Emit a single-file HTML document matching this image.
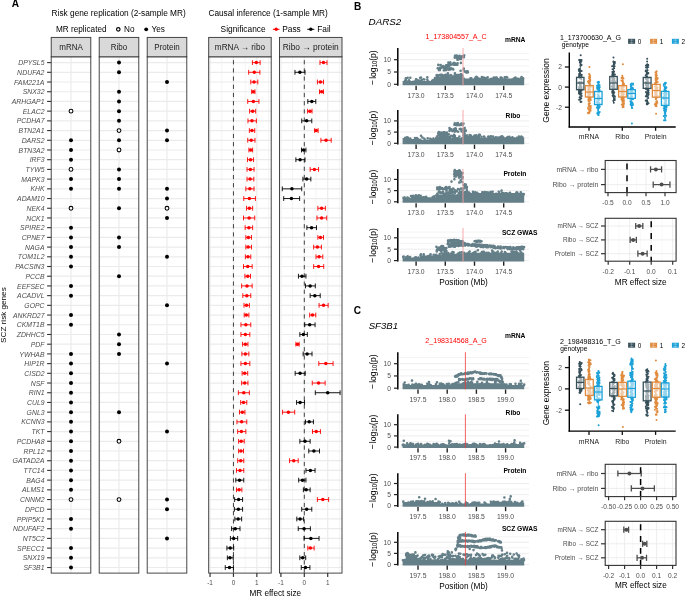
<!DOCTYPE html>
<html><head><meta charset="utf-8"><style>
html,body{margin:0;padding:0;background:#fff;}
svg{display:block;font-family:'Liberation Sans', sans-serif;will-change:transform;}
</style></head><body>
<svg width="685" height="598" viewBox="0 0 685 598">
<rect width="685" height="598" fill="#fff"/>
<text x="11.80" y="6.85" font-size="10.1" text-anchor="start" fill="#000" font-weight="bold">A</text>
<text x="51.60" y="16.00" font-size="8.3" text-anchor="start" fill="#000">Risk gene replication (2-sample MR)</text>
<text x="56.00" y="32.00" font-size="8.2" text-anchor="start" fill="#000">MR replicated</text>
<circle cx="118.30" cy="29.30" r="1.75" fill="#fff" stroke="#000" stroke-width="1.15"/>
<text x="124.00" y="32.00" font-size="8.2" text-anchor="start" fill="#000">No</text>
<circle cx="146.20" cy="29.30" r="1.9" fill="#000" stroke="none" stroke-width="0"/>
<text x="151.50" y="32.00" font-size="8.2" text-anchor="start" fill="#000">Yes</text>
<rect x="51.20" y="56.80" width="39.60" height="516.30" fill="#fff" stroke="none" stroke-width="1"/>
<line x1="51.20" y1="62.60" x2="90.80" y2="62.60" stroke="#ebebeb" stroke-width="1.2"/>
<line x1="51.20" y1="72.31" x2="90.80" y2="72.31" stroke="#ebebeb" stroke-width="1.2"/>
<line x1="51.20" y1="82.02" x2="90.80" y2="82.02" stroke="#ebebeb" stroke-width="1.2"/>
<line x1="51.20" y1="91.73" x2="90.80" y2="91.73" stroke="#ebebeb" stroke-width="1.2"/>
<line x1="51.20" y1="101.44" x2="90.80" y2="101.44" stroke="#ebebeb" stroke-width="1.2"/>
<line x1="51.20" y1="111.15" x2="90.80" y2="111.15" stroke="#ebebeb" stroke-width="1.2"/>
<line x1="51.20" y1="120.86" x2="90.80" y2="120.86" stroke="#ebebeb" stroke-width="1.2"/>
<line x1="51.20" y1="130.57" x2="90.80" y2="130.57" stroke="#ebebeb" stroke-width="1.2"/>
<line x1="51.20" y1="140.28" x2="90.80" y2="140.28" stroke="#ebebeb" stroke-width="1.2"/>
<line x1="51.20" y1="149.99" x2="90.80" y2="149.99" stroke="#ebebeb" stroke-width="1.2"/>
<line x1="51.20" y1="159.70" x2="90.80" y2="159.70" stroke="#ebebeb" stroke-width="1.2"/>
<line x1="51.20" y1="169.41" x2="90.80" y2="169.41" stroke="#ebebeb" stroke-width="1.2"/>
<line x1="51.20" y1="179.12" x2="90.80" y2="179.12" stroke="#ebebeb" stroke-width="1.2"/>
<line x1="51.20" y1="188.83" x2="90.80" y2="188.83" stroke="#ebebeb" stroke-width="1.2"/>
<line x1="51.20" y1="198.54" x2="90.80" y2="198.54" stroke="#ebebeb" stroke-width="1.2"/>
<line x1="51.20" y1="208.25" x2="90.80" y2="208.25" stroke="#ebebeb" stroke-width="1.2"/>
<line x1="51.20" y1="217.96" x2="90.80" y2="217.96" stroke="#ebebeb" stroke-width="1.2"/>
<line x1="51.20" y1="227.67" x2="90.80" y2="227.67" stroke="#ebebeb" stroke-width="1.2"/>
<line x1="51.20" y1="237.38" x2="90.80" y2="237.38" stroke="#ebebeb" stroke-width="1.2"/>
<line x1="51.20" y1="247.09" x2="90.80" y2="247.09" stroke="#ebebeb" stroke-width="1.2"/>
<line x1="51.20" y1="256.80" x2="90.80" y2="256.80" stroke="#ebebeb" stroke-width="1.2"/>
<line x1="51.20" y1="266.51" x2="90.80" y2="266.51" stroke="#ebebeb" stroke-width="1.2"/>
<line x1="51.20" y1="276.22" x2="90.80" y2="276.22" stroke="#ebebeb" stroke-width="1.2"/>
<line x1="51.20" y1="285.93" x2="90.80" y2="285.93" stroke="#ebebeb" stroke-width="1.2"/>
<line x1="51.20" y1="295.64" x2="90.80" y2="295.64" stroke="#ebebeb" stroke-width="1.2"/>
<line x1="51.20" y1="305.35" x2="90.80" y2="305.35" stroke="#ebebeb" stroke-width="1.2"/>
<line x1="51.20" y1="315.06" x2="90.80" y2="315.06" stroke="#ebebeb" stroke-width="1.2"/>
<line x1="51.20" y1="324.77" x2="90.80" y2="324.77" stroke="#ebebeb" stroke-width="1.2"/>
<line x1="51.20" y1="334.48" x2="90.80" y2="334.48" stroke="#ebebeb" stroke-width="1.2"/>
<line x1="51.20" y1="344.19" x2="90.80" y2="344.19" stroke="#ebebeb" stroke-width="1.2"/>
<line x1="51.20" y1="353.90" x2="90.80" y2="353.90" stroke="#ebebeb" stroke-width="1.2"/>
<line x1="51.20" y1="363.61" x2="90.80" y2="363.61" stroke="#ebebeb" stroke-width="1.2"/>
<line x1="51.20" y1="373.32" x2="90.80" y2="373.32" stroke="#ebebeb" stroke-width="1.2"/>
<line x1="51.20" y1="383.03" x2="90.80" y2="383.03" stroke="#ebebeb" stroke-width="1.2"/>
<line x1="51.20" y1="392.74" x2="90.80" y2="392.74" stroke="#ebebeb" stroke-width="1.2"/>
<line x1="51.20" y1="402.45" x2="90.80" y2="402.45" stroke="#ebebeb" stroke-width="1.2"/>
<line x1="51.20" y1="412.16" x2="90.80" y2="412.16" stroke="#ebebeb" stroke-width="1.2"/>
<line x1="51.20" y1="421.87" x2="90.80" y2="421.87" stroke="#ebebeb" stroke-width="1.2"/>
<line x1="51.20" y1="431.58" x2="90.80" y2="431.58" stroke="#ebebeb" stroke-width="1.2"/>
<line x1="51.20" y1="441.29" x2="90.80" y2="441.29" stroke="#ebebeb" stroke-width="1.2"/>
<line x1="51.20" y1="451.00" x2="90.80" y2="451.00" stroke="#ebebeb" stroke-width="1.2"/>
<line x1="51.20" y1="460.71" x2="90.80" y2="460.71" stroke="#ebebeb" stroke-width="1.2"/>
<line x1="51.20" y1="470.42" x2="90.80" y2="470.42" stroke="#ebebeb" stroke-width="1.2"/>
<line x1="51.20" y1="480.13" x2="90.80" y2="480.13" stroke="#ebebeb" stroke-width="1.2"/>
<line x1="51.20" y1="489.84" x2="90.80" y2="489.84" stroke="#ebebeb" stroke-width="1.2"/>
<line x1="51.20" y1="499.55" x2="90.80" y2="499.55" stroke="#ebebeb" stroke-width="1.2"/>
<line x1="51.20" y1="509.26" x2="90.80" y2="509.26" stroke="#ebebeb" stroke-width="1.2"/>
<line x1="51.20" y1="518.97" x2="90.80" y2="518.97" stroke="#ebebeb" stroke-width="1.2"/>
<line x1="51.20" y1="528.68" x2="90.80" y2="528.68" stroke="#ebebeb" stroke-width="1.2"/>
<line x1="51.20" y1="538.39" x2="90.80" y2="538.39" stroke="#ebebeb" stroke-width="1.2"/>
<line x1="51.20" y1="548.10" x2="90.80" y2="548.10" stroke="#ebebeb" stroke-width="1.2"/>
<line x1="51.20" y1="557.81" x2="90.80" y2="557.81" stroke="#ebebeb" stroke-width="1.2"/>
<line x1="51.20" y1="567.52" x2="90.80" y2="567.52" stroke="#ebebeb" stroke-width="1.2"/>
<line x1="71.00" y1="56.80" x2="71.00" y2="573.10" stroke="#ebebeb" stroke-width="1.2"/>
<rect x="99.20" y="56.80" width="39.60" height="516.30" fill="#fff" stroke="none" stroke-width="1"/>
<line x1="99.20" y1="62.60" x2="138.80" y2="62.60" stroke="#ebebeb" stroke-width="1.2"/>
<line x1="99.20" y1="72.31" x2="138.80" y2="72.31" stroke="#ebebeb" stroke-width="1.2"/>
<line x1="99.20" y1="82.02" x2="138.80" y2="82.02" stroke="#ebebeb" stroke-width="1.2"/>
<line x1="99.20" y1="91.73" x2="138.80" y2="91.73" stroke="#ebebeb" stroke-width="1.2"/>
<line x1="99.20" y1="101.44" x2="138.80" y2="101.44" stroke="#ebebeb" stroke-width="1.2"/>
<line x1="99.20" y1="111.15" x2="138.80" y2="111.15" stroke="#ebebeb" stroke-width="1.2"/>
<line x1="99.20" y1="120.86" x2="138.80" y2="120.86" stroke="#ebebeb" stroke-width="1.2"/>
<line x1="99.20" y1="130.57" x2="138.80" y2="130.57" stroke="#ebebeb" stroke-width="1.2"/>
<line x1="99.20" y1="140.28" x2="138.80" y2="140.28" stroke="#ebebeb" stroke-width="1.2"/>
<line x1="99.20" y1="149.99" x2="138.80" y2="149.99" stroke="#ebebeb" stroke-width="1.2"/>
<line x1="99.20" y1="159.70" x2="138.80" y2="159.70" stroke="#ebebeb" stroke-width="1.2"/>
<line x1="99.20" y1="169.41" x2="138.80" y2="169.41" stroke="#ebebeb" stroke-width="1.2"/>
<line x1="99.20" y1="179.12" x2="138.80" y2="179.12" stroke="#ebebeb" stroke-width="1.2"/>
<line x1="99.20" y1="188.83" x2="138.80" y2="188.83" stroke="#ebebeb" stroke-width="1.2"/>
<line x1="99.20" y1="198.54" x2="138.80" y2="198.54" stroke="#ebebeb" stroke-width="1.2"/>
<line x1="99.20" y1="208.25" x2="138.80" y2="208.25" stroke="#ebebeb" stroke-width="1.2"/>
<line x1="99.20" y1="217.96" x2="138.80" y2="217.96" stroke="#ebebeb" stroke-width="1.2"/>
<line x1="99.20" y1="227.67" x2="138.80" y2="227.67" stroke="#ebebeb" stroke-width="1.2"/>
<line x1="99.20" y1="237.38" x2="138.80" y2="237.38" stroke="#ebebeb" stroke-width="1.2"/>
<line x1="99.20" y1="247.09" x2="138.80" y2="247.09" stroke="#ebebeb" stroke-width="1.2"/>
<line x1="99.20" y1="256.80" x2="138.80" y2="256.80" stroke="#ebebeb" stroke-width="1.2"/>
<line x1="99.20" y1="266.51" x2="138.80" y2="266.51" stroke="#ebebeb" stroke-width="1.2"/>
<line x1="99.20" y1="276.22" x2="138.80" y2="276.22" stroke="#ebebeb" stroke-width="1.2"/>
<line x1="99.20" y1="285.93" x2="138.80" y2="285.93" stroke="#ebebeb" stroke-width="1.2"/>
<line x1="99.20" y1="295.64" x2="138.80" y2="295.64" stroke="#ebebeb" stroke-width="1.2"/>
<line x1="99.20" y1="305.35" x2="138.80" y2="305.35" stroke="#ebebeb" stroke-width="1.2"/>
<line x1="99.20" y1="315.06" x2="138.80" y2="315.06" stroke="#ebebeb" stroke-width="1.2"/>
<line x1="99.20" y1="324.77" x2="138.80" y2="324.77" stroke="#ebebeb" stroke-width="1.2"/>
<line x1="99.20" y1="334.48" x2="138.80" y2="334.48" stroke="#ebebeb" stroke-width="1.2"/>
<line x1="99.20" y1="344.19" x2="138.80" y2="344.19" stroke="#ebebeb" stroke-width="1.2"/>
<line x1="99.20" y1="353.90" x2="138.80" y2="353.90" stroke="#ebebeb" stroke-width="1.2"/>
<line x1="99.20" y1="363.61" x2="138.80" y2="363.61" stroke="#ebebeb" stroke-width="1.2"/>
<line x1="99.20" y1="373.32" x2="138.80" y2="373.32" stroke="#ebebeb" stroke-width="1.2"/>
<line x1="99.20" y1="383.03" x2="138.80" y2="383.03" stroke="#ebebeb" stroke-width="1.2"/>
<line x1="99.20" y1="392.74" x2="138.80" y2="392.74" stroke="#ebebeb" stroke-width="1.2"/>
<line x1="99.20" y1="402.45" x2="138.80" y2="402.45" stroke="#ebebeb" stroke-width="1.2"/>
<line x1="99.20" y1="412.16" x2="138.80" y2="412.16" stroke="#ebebeb" stroke-width="1.2"/>
<line x1="99.20" y1="421.87" x2="138.80" y2="421.87" stroke="#ebebeb" stroke-width="1.2"/>
<line x1="99.20" y1="431.58" x2="138.80" y2="431.58" stroke="#ebebeb" stroke-width="1.2"/>
<line x1="99.20" y1="441.29" x2="138.80" y2="441.29" stroke="#ebebeb" stroke-width="1.2"/>
<line x1="99.20" y1="451.00" x2="138.80" y2="451.00" stroke="#ebebeb" stroke-width="1.2"/>
<line x1="99.20" y1="460.71" x2="138.80" y2="460.71" stroke="#ebebeb" stroke-width="1.2"/>
<line x1="99.20" y1="470.42" x2="138.80" y2="470.42" stroke="#ebebeb" stroke-width="1.2"/>
<line x1="99.20" y1="480.13" x2="138.80" y2="480.13" stroke="#ebebeb" stroke-width="1.2"/>
<line x1="99.20" y1="489.84" x2="138.80" y2="489.84" stroke="#ebebeb" stroke-width="1.2"/>
<line x1="99.20" y1="499.55" x2="138.80" y2="499.55" stroke="#ebebeb" stroke-width="1.2"/>
<line x1="99.20" y1="509.26" x2="138.80" y2="509.26" stroke="#ebebeb" stroke-width="1.2"/>
<line x1="99.20" y1="518.97" x2="138.80" y2="518.97" stroke="#ebebeb" stroke-width="1.2"/>
<line x1="99.20" y1="528.68" x2="138.80" y2="528.68" stroke="#ebebeb" stroke-width="1.2"/>
<line x1="99.20" y1="538.39" x2="138.80" y2="538.39" stroke="#ebebeb" stroke-width="1.2"/>
<line x1="99.20" y1="548.10" x2="138.80" y2="548.10" stroke="#ebebeb" stroke-width="1.2"/>
<line x1="99.20" y1="557.81" x2="138.80" y2="557.81" stroke="#ebebeb" stroke-width="1.2"/>
<line x1="99.20" y1="567.52" x2="138.80" y2="567.52" stroke="#ebebeb" stroke-width="1.2"/>
<line x1="119.00" y1="56.80" x2="119.00" y2="573.10" stroke="#ebebeb" stroke-width="1.2"/>
<rect x="147.20" y="56.80" width="39.60" height="516.30" fill="#fff" stroke="none" stroke-width="1"/>
<line x1="147.20" y1="62.60" x2="186.80" y2="62.60" stroke="#ebebeb" stroke-width="1.2"/>
<line x1="147.20" y1="72.31" x2="186.80" y2="72.31" stroke="#ebebeb" stroke-width="1.2"/>
<line x1="147.20" y1="82.02" x2="186.80" y2="82.02" stroke="#ebebeb" stroke-width="1.2"/>
<line x1="147.20" y1="91.73" x2="186.80" y2="91.73" stroke="#ebebeb" stroke-width="1.2"/>
<line x1="147.20" y1="101.44" x2="186.80" y2="101.44" stroke="#ebebeb" stroke-width="1.2"/>
<line x1="147.20" y1="111.15" x2="186.80" y2="111.15" stroke="#ebebeb" stroke-width="1.2"/>
<line x1="147.20" y1="120.86" x2="186.80" y2="120.86" stroke="#ebebeb" stroke-width="1.2"/>
<line x1="147.20" y1="130.57" x2="186.80" y2="130.57" stroke="#ebebeb" stroke-width="1.2"/>
<line x1="147.20" y1="140.28" x2="186.80" y2="140.28" stroke="#ebebeb" stroke-width="1.2"/>
<line x1="147.20" y1="149.99" x2="186.80" y2="149.99" stroke="#ebebeb" stroke-width="1.2"/>
<line x1="147.20" y1="159.70" x2="186.80" y2="159.70" stroke="#ebebeb" stroke-width="1.2"/>
<line x1="147.20" y1="169.41" x2="186.80" y2="169.41" stroke="#ebebeb" stroke-width="1.2"/>
<line x1="147.20" y1="179.12" x2="186.80" y2="179.12" stroke="#ebebeb" stroke-width="1.2"/>
<line x1="147.20" y1="188.83" x2="186.80" y2="188.83" stroke="#ebebeb" stroke-width="1.2"/>
<line x1="147.20" y1="198.54" x2="186.80" y2="198.54" stroke="#ebebeb" stroke-width="1.2"/>
<line x1="147.20" y1="208.25" x2="186.80" y2="208.25" stroke="#ebebeb" stroke-width="1.2"/>
<line x1="147.20" y1="217.96" x2="186.80" y2="217.96" stroke="#ebebeb" stroke-width="1.2"/>
<line x1="147.20" y1="227.67" x2="186.80" y2="227.67" stroke="#ebebeb" stroke-width="1.2"/>
<line x1="147.20" y1="237.38" x2="186.80" y2="237.38" stroke="#ebebeb" stroke-width="1.2"/>
<line x1="147.20" y1="247.09" x2="186.80" y2="247.09" stroke="#ebebeb" stroke-width="1.2"/>
<line x1="147.20" y1="256.80" x2="186.80" y2="256.80" stroke="#ebebeb" stroke-width="1.2"/>
<line x1="147.20" y1="266.51" x2="186.80" y2="266.51" stroke="#ebebeb" stroke-width="1.2"/>
<line x1="147.20" y1="276.22" x2="186.80" y2="276.22" stroke="#ebebeb" stroke-width="1.2"/>
<line x1="147.20" y1="285.93" x2="186.80" y2="285.93" stroke="#ebebeb" stroke-width="1.2"/>
<line x1="147.20" y1="295.64" x2="186.80" y2="295.64" stroke="#ebebeb" stroke-width="1.2"/>
<line x1="147.20" y1="305.35" x2="186.80" y2="305.35" stroke="#ebebeb" stroke-width="1.2"/>
<line x1="147.20" y1="315.06" x2="186.80" y2="315.06" stroke="#ebebeb" stroke-width="1.2"/>
<line x1="147.20" y1="324.77" x2="186.80" y2="324.77" stroke="#ebebeb" stroke-width="1.2"/>
<line x1="147.20" y1="334.48" x2="186.80" y2="334.48" stroke="#ebebeb" stroke-width="1.2"/>
<line x1="147.20" y1="344.19" x2="186.80" y2="344.19" stroke="#ebebeb" stroke-width="1.2"/>
<line x1="147.20" y1="353.90" x2="186.80" y2="353.90" stroke="#ebebeb" stroke-width="1.2"/>
<line x1="147.20" y1="363.61" x2="186.80" y2="363.61" stroke="#ebebeb" stroke-width="1.2"/>
<line x1="147.20" y1="373.32" x2="186.80" y2="373.32" stroke="#ebebeb" stroke-width="1.2"/>
<line x1="147.20" y1="383.03" x2="186.80" y2="383.03" stroke="#ebebeb" stroke-width="1.2"/>
<line x1="147.20" y1="392.74" x2="186.80" y2="392.74" stroke="#ebebeb" stroke-width="1.2"/>
<line x1="147.20" y1="402.45" x2="186.80" y2="402.45" stroke="#ebebeb" stroke-width="1.2"/>
<line x1="147.20" y1="412.16" x2="186.80" y2="412.16" stroke="#ebebeb" stroke-width="1.2"/>
<line x1="147.20" y1="421.87" x2="186.80" y2="421.87" stroke="#ebebeb" stroke-width="1.2"/>
<line x1="147.20" y1="431.58" x2="186.80" y2="431.58" stroke="#ebebeb" stroke-width="1.2"/>
<line x1="147.20" y1="441.29" x2="186.80" y2="441.29" stroke="#ebebeb" stroke-width="1.2"/>
<line x1="147.20" y1="451.00" x2="186.80" y2="451.00" stroke="#ebebeb" stroke-width="1.2"/>
<line x1="147.20" y1="460.71" x2="186.80" y2="460.71" stroke="#ebebeb" stroke-width="1.2"/>
<line x1="147.20" y1="470.42" x2="186.80" y2="470.42" stroke="#ebebeb" stroke-width="1.2"/>
<line x1="147.20" y1="480.13" x2="186.80" y2="480.13" stroke="#ebebeb" stroke-width="1.2"/>
<line x1="147.20" y1="489.84" x2="186.80" y2="489.84" stroke="#ebebeb" stroke-width="1.2"/>
<line x1="147.20" y1="499.55" x2="186.80" y2="499.55" stroke="#ebebeb" stroke-width="1.2"/>
<line x1="147.20" y1="509.26" x2="186.80" y2="509.26" stroke="#ebebeb" stroke-width="1.2"/>
<line x1="147.20" y1="518.97" x2="186.80" y2="518.97" stroke="#ebebeb" stroke-width="1.2"/>
<line x1="147.20" y1="528.68" x2="186.80" y2="528.68" stroke="#ebebeb" stroke-width="1.2"/>
<line x1="147.20" y1="538.39" x2="186.80" y2="538.39" stroke="#ebebeb" stroke-width="1.2"/>
<line x1="147.20" y1="548.10" x2="186.80" y2="548.10" stroke="#ebebeb" stroke-width="1.2"/>
<line x1="147.20" y1="557.81" x2="186.80" y2="557.81" stroke="#ebebeb" stroke-width="1.2"/>
<line x1="147.20" y1="567.52" x2="186.80" y2="567.52" stroke="#ebebeb" stroke-width="1.2"/>
<line x1="167.00" y1="56.80" x2="167.00" y2="573.10" stroke="#ebebeb" stroke-width="1.2"/>
<circle cx="71.00" cy="111.15" r="1.9" fill="#fff" stroke="#000" stroke-width="1.05"/>
<circle cx="71.00" cy="140.28" r="2.0" fill="#000" stroke="none" stroke-width="0"/>
<circle cx="71.00" cy="149.99" r="2.0" fill="#000" stroke="none" stroke-width="0"/>
<circle cx="71.00" cy="159.70" r="2.0" fill="#000" stroke="none" stroke-width="0"/>
<circle cx="71.00" cy="169.41" r="1.9" fill="#fff" stroke="#000" stroke-width="1.05"/>
<circle cx="71.00" cy="179.12" r="2.0" fill="#000" stroke="none" stroke-width="0"/>
<circle cx="71.00" cy="188.83" r="2.0" fill="#000" stroke="none" stroke-width="0"/>
<circle cx="71.00" cy="208.25" r="1.9" fill="#fff" stroke="#000" stroke-width="1.05"/>
<circle cx="71.00" cy="227.67" r="2.0" fill="#000" stroke="none" stroke-width="0"/>
<circle cx="71.00" cy="237.38" r="2.0" fill="#000" stroke="none" stroke-width="0"/>
<circle cx="71.00" cy="247.09" r="2.0" fill="#000" stroke="none" stroke-width="0"/>
<circle cx="71.00" cy="256.80" r="2.0" fill="#000" stroke="none" stroke-width="0"/>
<circle cx="71.00" cy="266.51" r="2.0" fill="#000" stroke="none" stroke-width="0"/>
<circle cx="71.00" cy="285.93" r="2.0" fill="#000" stroke="none" stroke-width="0"/>
<circle cx="71.00" cy="295.64" r="2.0" fill="#000" stroke="none" stroke-width="0"/>
<circle cx="71.00" cy="315.06" r="2.0" fill="#000" stroke="none" stroke-width="0"/>
<circle cx="71.00" cy="324.77" r="2.0" fill="#000" stroke="none" stroke-width="0"/>
<circle cx="71.00" cy="353.90" r="2.0" fill="#000" stroke="none" stroke-width="0"/>
<circle cx="71.00" cy="363.61" r="2.0" fill="#000" stroke="none" stroke-width="0"/>
<circle cx="71.00" cy="373.32" r="2.0" fill="#000" stroke="none" stroke-width="0"/>
<circle cx="71.00" cy="383.03" r="2.0" fill="#000" stroke="none" stroke-width="0"/>
<circle cx="71.00" cy="392.74" r="2.0" fill="#000" stroke="none" stroke-width="0"/>
<circle cx="71.00" cy="402.45" r="2.0" fill="#000" stroke="none" stroke-width="0"/>
<circle cx="71.00" cy="412.16" r="2.0" fill="#000" stroke="none" stroke-width="0"/>
<circle cx="71.00" cy="421.87" r="2.0" fill="#000" stroke="none" stroke-width="0"/>
<circle cx="71.00" cy="431.58" r="2.0" fill="#000" stroke="none" stroke-width="0"/>
<circle cx="71.00" cy="441.29" r="2.0" fill="#000" stroke="none" stroke-width="0"/>
<circle cx="71.00" cy="451.00" r="2.0" fill="#000" stroke="none" stroke-width="0"/>
<circle cx="71.00" cy="460.71" r="2.0" fill="#000" stroke="none" stroke-width="0"/>
<circle cx="71.00" cy="470.42" r="2.0" fill="#000" stroke="none" stroke-width="0"/>
<circle cx="71.00" cy="480.13" r="2.0" fill="#000" stroke="none" stroke-width="0"/>
<circle cx="71.00" cy="489.84" r="2.0" fill="#000" stroke="none" stroke-width="0"/>
<circle cx="71.00" cy="499.55" r="1.9" fill="#fff" stroke="#000" stroke-width="1.05"/>
<circle cx="71.00" cy="518.97" r="2.0" fill="#000" stroke="none" stroke-width="0"/>
<circle cx="71.00" cy="528.68" r="2.0" fill="#000" stroke="none" stroke-width="0"/>
<circle cx="71.00" cy="548.10" r="2.0" fill="#000" stroke="none" stroke-width="0"/>
<circle cx="71.00" cy="557.81" r="2.0" fill="#000" stroke="none" stroke-width="0"/>
<circle cx="71.00" cy="567.52" r="2.0" fill="#000" stroke="none" stroke-width="0"/>
<rect x="51.20" y="56.80" width="39.60" height="516.30" fill="none" stroke="#333333" stroke-width="0.9"/>
<rect x="51.20" y="37.40" width="39.60" height="19.40" fill="#d9d9d9" stroke="#333333" stroke-width="0.9"/>
<text x="71.00" y="49.90" font-size="8.5" text-anchor="middle" fill="#1a1a1a" textLength="23.55" lengthAdjust="spacingAndGlyphs">mRNA</text>
<circle cx="119.00" cy="62.60" r="2.0" fill="#000" stroke="none" stroke-width="0"/>
<circle cx="119.00" cy="72.31" r="2.0" fill="#000" stroke="none" stroke-width="0"/>
<circle cx="119.00" cy="91.73" r="2.0" fill="#000" stroke="none" stroke-width="0"/>
<circle cx="119.00" cy="101.44" r="2.0" fill="#000" stroke="none" stroke-width="0"/>
<circle cx="119.00" cy="111.15" r="2.0" fill="#000" stroke="none" stroke-width="0"/>
<circle cx="119.00" cy="120.86" r="2.0" fill="#000" stroke="none" stroke-width="0"/>
<circle cx="119.00" cy="130.57" r="1.9" fill="#fff" stroke="#000" stroke-width="1.05"/>
<circle cx="119.00" cy="140.28" r="2.0" fill="#000" stroke="none" stroke-width="0"/>
<circle cx="119.00" cy="149.99" r="1.9" fill="#fff" stroke="#000" stroke-width="1.05"/>
<circle cx="119.00" cy="169.41" r="2.0" fill="#000" stroke="none" stroke-width="0"/>
<circle cx="119.00" cy="179.12" r="2.0" fill="#000" stroke="none" stroke-width="0"/>
<circle cx="119.00" cy="188.83" r="2.0" fill="#000" stroke="none" stroke-width="0"/>
<circle cx="119.00" cy="208.25" r="2.0" fill="#000" stroke="none" stroke-width="0"/>
<circle cx="119.00" cy="237.38" r="2.0" fill="#000" stroke="none" stroke-width="0"/>
<circle cx="119.00" cy="247.09" r="2.0" fill="#000" stroke="none" stroke-width="0"/>
<circle cx="119.00" cy="276.22" r="2.0" fill="#000" stroke="none" stroke-width="0"/>
<circle cx="119.00" cy="334.48" r="2.0" fill="#000" stroke="none" stroke-width="0"/>
<circle cx="119.00" cy="344.19" r="2.0" fill="#000" stroke="none" stroke-width="0"/>
<circle cx="119.00" cy="353.90" r="2.0" fill="#000" stroke="none" stroke-width="0"/>
<circle cx="119.00" cy="412.16" r="2.0" fill="#000" stroke="none" stroke-width="0"/>
<circle cx="119.00" cy="441.29" r="1.9" fill="#fff" stroke="#000" stroke-width="1.05"/>
<circle cx="119.00" cy="499.55" r="1.9" fill="#fff" stroke="#000" stroke-width="1.05"/>
<rect x="99.20" y="56.80" width="39.60" height="516.30" fill="none" stroke="#333333" stroke-width="0.9"/>
<rect x="99.20" y="37.40" width="39.60" height="19.40" fill="#d9d9d9" stroke="#333333" stroke-width="0.9"/>
<text x="119.00" y="49.90" font-size="8.5" text-anchor="middle" fill="#1a1a1a" textLength="16.45" lengthAdjust="spacingAndGlyphs">Ribo</text>
<circle cx="167.00" cy="82.02" r="2.0" fill="#000" stroke="none" stroke-width="0"/>
<circle cx="167.00" cy="130.57" r="2.0" fill="#000" stroke="none" stroke-width="0"/>
<circle cx="167.00" cy="140.28" r="2.0" fill="#000" stroke="none" stroke-width="0"/>
<circle cx="167.00" cy="188.83" r="2.0" fill="#000" stroke="none" stroke-width="0"/>
<circle cx="167.00" cy="198.54" r="2.0" fill="#000" stroke="none" stroke-width="0"/>
<circle cx="167.00" cy="208.25" r="1.9" fill="#fff" stroke="#000" stroke-width="1.05"/>
<circle cx="167.00" cy="217.96" r="2.0" fill="#000" stroke="none" stroke-width="0"/>
<circle cx="167.00" cy="256.80" r="2.0" fill="#000" stroke="none" stroke-width="0"/>
<circle cx="167.00" cy="305.35" r="2.0" fill="#000" stroke="none" stroke-width="0"/>
<circle cx="167.00" cy="363.61" r="2.0" fill="#000" stroke="none" stroke-width="0"/>
<circle cx="167.00" cy="431.58" r="2.0" fill="#000" stroke="none" stroke-width="0"/>
<circle cx="167.00" cy="499.55" r="2.0" fill="#000" stroke="none" stroke-width="0"/>
<circle cx="167.00" cy="509.26" r="2.0" fill="#000" stroke="none" stroke-width="0"/>
<circle cx="167.00" cy="538.39" r="2.0" fill="#000" stroke="none" stroke-width="0"/>
<rect x="147.20" y="56.80" width="39.60" height="516.30" fill="none" stroke="#333333" stroke-width="0.9"/>
<rect x="147.20" y="37.40" width="39.60" height="19.40" fill="#d9d9d9" stroke="#333333" stroke-width="0.9"/>
<text x="167.00" y="49.90" font-size="8.5" text-anchor="middle" fill="#1a1a1a" textLength="25.35" lengthAdjust="spacingAndGlyphs">Protein</text>
<text x="44.50" y="65.20" font-size="6.35" text-anchor="end" fill="#4d4d4d" font-style="italic" textLength="26.27" lengthAdjust="spacingAndGlyphs">DPYSL5</text>
<line x1="47.10" y1="62.60" x2="51.20" y2="62.60" stroke="#333333" stroke-width="1.1"/>
<text x="44.50" y="74.91" font-size="6.35" text-anchor="end" fill="#4d4d4d" font-style="italic" textLength="27.40" lengthAdjust="spacingAndGlyphs">NDUFA2</text>
<line x1="47.10" y1="72.31" x2="51.20" y2="72.31" stroke="#333333" stroke-width="1.1"/>
<text x="44.50" y="84.62" font-size="6.35" text-anchor="end" fill="#4d4d4d" font-style="italic" textLength="30.46" lengthAdjust="spacingAndGlyphs">FAM221A</text>
<line x1="47.10" y1="82.02" x2="51.20" y2="82.02" stroke="#333333" stroke-width="1.1"/>
<text x="44.50" y="94.33" font-size="6.35" text-anchor="end" fill="#4d4d4d" font-style="italic" textLength="21.70" lengthAdjust="spacingAndGlyphs">SNX32</text>
<line x1="47.10" y1="91.73" x2="51.20" y2="91.73" stroke="#333333" stroke-width="1.1"/>
<text x="44.50" y="104.04" font-size="6.35" text-anchor="end" fill="#4d4d4d" font-style="italic" textLength="32.74" lengthAdjust="spacingAndGlyphs">ARHGAP1</text>
<line x1="47.10" y1="101.44" x2="51.20" y2="101.44" stroke="#333333" stroke-width="1.1"/>
<text x="44.50" y="113.75" font-size="6.35" text-anchor="end" fill="#4d4d4d" font-style="italic" textLength="21.70" lengthAdjust="spacingAndGlyphs">ELAC2</text>
<line x1="47.10" y1="111.15" x2="51.20" y2="111.15" stroke="#333333" stroke-width="1.1"/>
<text x="44.50" y="123.46" font-size="6.35" text-anchor="end" fill="#4d4d4d" font-style="italic" textLength="27.79" lengthAdjust="spacingAndGlyphs">PCDHA7</text>
<line x1="47.10" y1="120.86" x2="51.20" y2="120.86" stroke="#333333" stroke-width="1.1"/>
<text x="44.50" y="133.17" font-size="6.35" text-anchor="end" fill="#4d4d4d" font-style="italic" textLength="25.89" lengthAdjust="spacingAndGlyphs">BTN2A1</text>
<line x1="47.10" y1="130.57" x2="51.20" y2="130.57" stroke="#333333" stroke-width="1.1"/>
<text x="44.50" y="142.88" font-size="6.35" text-anchor="end" fill="#4d4d4d" font-style="italic" textLength="22.84" lengthAdjust="spacingAndGlyphs">DARS2</text>
<line x1="47.10" y1="140.28" x2="51.20" y2="140.28" stroke="#333333" stroke-width="1.1"/>
<text x="44.50" y="152.59" font-size="6.35" text-anchor="end" fill="#4d4d4d" font-style="italic" textLength="25.89" lengthAdjust="spacingAndGlyphs">BTN3A2</text>
<line x1="47.10" y1="149.99" x2="51.20" y2="149.99" stroke="#333333" stroke-width="1.1"/>
<text x="44.50" y="162.30" font-size="6.35" text-anchor="end" fill="#4d4d4d" font-style="italic" textLength="14.84" lengthAdjust="spacingAndGlyphs">IRF3</text>
<line x1="47.10" y1="159.70" x2="51.20" y2="159.70" stroke="#333333" stroke-width="1.1"/>
<text x="44.50" y="172.01" font-size="6.35" text-anchor="end" fill="#4d4d4d" font-style="italic" textLength="19.03" lengthAdjust="spacingAndGlyphs">TYW5</text>
<line x1="47.10" y1="169.41" x2="51.20" y2="169.41" stroke="#333333" stroke-width="1.1"/>
<text x="44.50" y="181.72" font-size="6.35" text-anchor="end" fill="#4d4d4d" font-style="italic" textLength="23.22" lengthAdjust="spacingAndGlyphs">MAPK3</text>
<line x1="47.10" y1="179.12" x2="51.20" y2="179.12" stroke="#333333" stroke-width="1.1"/>
<text x="44.50" y="191.43" font-size="6.35" text-anchor="end" fill="#4d4d4d" font-style="italic" textLength="14.08" lengthAdjust="spacingAndGlyphs">KHK</text>
<line x1="47.10" y1="188.83" x2="51.20" y2="188.83" stroke="#333333" stroke-width="1.1"/>
<text x="44.50" y="201.14" font-size="6.35" text-anchor="end" fill="#4d4d4d" font-style="italic" textLength="27.41" lengthAdjust="spacingAndGlyphs">ADAM10</text>
<line x1="47.10" y1="198.54" x2="51.20" y2="198.54" stroke="#333333" stroke-width="1.1"/>
<text x="44.50" y="210.85" font-size="6.35" text-anchor="end" fill="#4d4d4d" font-style="italic" textLength="17.89" lengthAdjust="spacingAndGlyphs">NEK4</text>
<line x1="47.10" y1="208.25" x2="51.20" y2="208.25" stroke="#333333" stroke-width="1.1"/>
<text x="44.50" y="220.56" font-size="6.35" text-anchor="end" fill="#4d4d4d" font-style="italic" textLength="18.27" lengthAdjust="spacingAndGlyphs">NCK1</text>
<line x1="47.10" y1="217.96" x2="51.20" y2="217.96" stroke="#333333" stroke-width="1.1"/>
<text x="44.50" y="230.27" font-size="6.35" text-anchor="end" fill="#4d4d4d" font-style="italic" textLength="24.37" lengthAdjust="spacingAndGlyphs">SPIRE2</text>
<line x1="47.10" y1="227.67" x2="51.20" y2="227.67" stroke="#333333" stroke-width="1.1"/>
<text x="44.50" y="239.98" font-size="6.35" text-anchor="end" fill="#4d4d4d" font-style="italic" textLength="22.84" lengthAdjust="spacingAndGlyphs">CPNE7</text>
<line x1="47.10" y1="237.38" x2="51.20" y2="237.38" stroke="#333333" stroke-width="1.1"/>
<text x="44.50" y="249.69" font-size="6.35" text-anchor="end" fill="#4d4d4d" font-style="italic" textLength="19.41" lengthAdjust="spacingAndGlyphs">NAGA</text>
<line x1="47.10" y1="247.09" x2="51.20" y2="247.09" stroke="#333333" stroke-width="1.1"/>
<text x="44.50" y="259.40" font-size="6.35" text-anchor="end" fill="#4d4d4d" font-style="italic" textLength="26.65" lengthAdjust="spacingAndGlyphs">TOM1L2</text>
<line x1="47.10" y1="256.80" x2="51.20" y2="256.80" stroke="#333333" stroke-width="1.1"/>
<text x="44.50" y="269.11" font-size="6.35" text-anchor="end" fill="#4d4d4d" font-style="italic" textLength="29.31" lengthAdjust="spacingAndGlyphs">PACSIN3</text>
<line x1="47.10" y1="266.51" x2="51.20" y2="266.51" stroke="#333333" stroke-width="1.1"/>
<text x="44.50" y="278.82" font-size="6.35" text-anchor="end" fill="#4d4d4d" font-style="italic" textLength="19.03" lengthAdjust="spacingAndGlyphs">PCCB</text>
<line x1="47.10" y1="276.22" x2="51.20" y2="276.22" stroke="#333333" stroke-width="1.1"/>
<text x="44.50" y="288.53" font-size="6.35" text-anchor="end" fill="#4d4d4d" font-style="italic" textLength="27.41" lengthAdjust="spacingAndGlyphs">EEFSEC</text>
<line x1="47.10" y1="285.93" x2="51.20" y2="285.93" stroke="#333333" stroke-width="1.1"/>
<text x="44.50" y="298.24" font-size="6.35" text-anchor="end" fill="#4d4d4d" font-style="italic" textLength="27.41" lengthAdjust="spacingAndGlyphs">ACADVL</text>
<line x1="47.10" y1="295.64" x2="51.20" y2="295.64" stroke="#333333" stroke-width="1.1"/>
<text x="44.50" y="307.95" font-size="6.35" text-anchor="end" fill="#4d4d4d" font-style="italic" textLength="20.17" lengthAdjust="spacingAndGlyphs">GOPC</text>
<line x1="47.10" y1="305.35" x2="51.20" y2="305.35" stroke="#333333" stroke-width="1.1"/>
<text x="44.50" y="317.66" font-size="6.35" text-anchor="end" fill="#4d4d4d" font-style="italic" textLength="31.60" lengthAdjust="spacingAndGlyphs">ANKRD27</text>
<line x1="47.10" y1="315.06" x2="51.20" y2="315.06" stroke="#333333" stroke-width="1.1"/>
<text x="44.50" y="327.37" font-size="6.35" text-anchor="end" fill="#4d4d4d" font-style="italic" textLength="27.78" lengthAdjust="spacingAndGlyphs">CKMT1B</text>
<line x1="47.10" y1="324.77" x2="51.20" y2="324.77" stroke="#333333" stroke-width="1.1"/>
<text x="44.50" y="337.08" font-size="6.35" text-anchor="end" fill="#4d4d4d" font-style="italic" textLength="27.78" lengthAdjust="spacingAndGlyphs">ZDHHC5</text>
<line x1="47.10" y1="334.48" x2="51.20" y2="334.48" stroke="#333333" stroke-width="1.1"/>
<text x="44.50" y="346.79" font-size="6.35" text-anchor="end" fill="#4d4d4d" font-style="italic" textLength="13.70" lengthAdjust="spacingAndGlyphs">PDF</text>
<line x1="47.10" y1="344.19" x2="51.20" y2="344.19" stroke="#333333" stroke-width="1.1"/>
<text x="44.50" y="356.50" font-size="6.35" text-anchor="end" fill="#4d4d4d" font-style="italic" textLength="25.12" lengthAdjust="spacingAndGlyphs">YWHAB</text>
<line x1="47.10" y1="353.90" x2="51.20" y2="353.90" stroke="#333333" stroke-width="1.1"/>
<text x="44.50" y="366.21" font-size="6.35" text-anchor="end" fill="#4d4d4d" font-style="italic" textLength="20.18" lengthAdjust="spacingAndGlyphs">HIP1R</text>
<line x1="47.10" y1="363.61" x2="51.20" y2="363.61" stroke="#333333" stroke-width="1.1"/>
<text x="44.50" y="375.92" font-size="6.35" text-anchor="end" fill="#4d4d4d" font-style="italic" textLength="20.18" lengthAdjust="spacingAndGlyphs">CISD2</text>
<line x1="47.10" y1="373.32" x2="51.20" y2="373.32" stroke="#333333" stroke-width="1.1"/>
<text x="44.50" y="385.63" font-size="6.35" text-anchor="end" fill="#4d4d4d" font-style="italic" textLength="13.70" lengthAdjust="spacingAndGlyphs">NSF</text>
<line x1="47.10" y1="383.03" x2="51.20" y2="383.03" stroke="#333333" stroke-width="1.1"/>
<text x="44.50" y="395.34" font-size="6.35" text-anchor="end" fill="#4d4d4d" font-style="italic" textLength="15.61" lengthAdjust="spacingAndGlyphs">RIN1</text>
<line x1="47.10" y1="392.74" x2="51.20" y2="392.74" stroke="#333333" stroke-width="1.1"/>
<text x="44.50" y="405.05" font-size="6.35" text-anchor="end" fill="#4d4d4d" font-style="italic" textLength="17.51" lengthAdjust="spacingAndGlyphs">CUL9</text>
<line x1="47.10" y1="402.45" x2="51.20" y2="402.45" stroke="#333333" stroke-width="1.1"/>
<text x="44.50" y="414.76" font-size="6.35" text-anchor="end" fill="#4d4d4d" font-style="italic" textLength="17.89" lengthAdjust="spacingAndGlyphs">GNL3</text>
<line x1="47.10" y1="412.16" x2="51.20" y2="412.16" stroke="#333333" stroke-width="1.1"/>
<text x="44.50" y="424.47" font-size="6.35" text-anchor="end" fill="#4d4d4d" font-style="italic" textLength="23.22" lengthAdjust="spacingAndGlyphs">KCNN3</text>
<line x1="47.10" y1="421.87" x2="51.20" y2="421.87" stroke="#333333" stroke-width="1.1"/>
<text x="44.50" y="434.18" font-size="6.35" text-anchor="end" fill="#4d4d4d" font-style="italic" textLength="12.94" lengthAdjust="spacingAndGlyphs">TKT</text>
<line x1="47.10" y1="431.58" x2="51.20" y2="431.58" stroke="#333333" stroke-width="1.1"/>
<text x="44.50" y="443.89" font-size="6.35" text-anchor="end" fill="#4d4d4d" font-style="italic" textLength="27.79" lengthAdjust="spacingAndGlyphs">PCDHA8</text>
<line x1="47.10" y1="441.29" x2="51.20" y2="441.29" stroke="#333333" stroke-width="1.1"/>
<text x="44.50" y="453.60" font-size="6.35" text-anchor="end" fill="#4d4d4d" font-style="italic" textLength="20.94" lengthAdjust="spacingAndGlyphs">RPL12</text>
<line x1="47.10" y1="451.00" x2="51.20" y2="451.00" stroke="#333333" stroke-width="1.1"/>
<text x="44.50" y="463.31" font-size="6.35" text-anchor="end" fill="#4d4d4d" font-style="italic" textLength="31.98" lengthAdjust="spacingAndGlyphs">GATAD2A</text>
<line x1="47.10" y1="460.71" x2="51.20" y2="460.71" stroke="#333333" stroke-width="1.1"/>
<text x="44.50" y="473.02" font-size="6.35" text-anchor="end" fill="#4d4d4d" font-style="italic" textLength="20.93" lengthAdjust="spacingAndGlyphs">TTC14</text>
<line x1="47.10" y1="470.42" x2="51.20" y2="470.42" stroke="#333333" stroke-width="1.1"/>
<text x="44.50" y="482.73" font-size="6.35" text-anchor="end" fill="#4d4d4d" font-style="italic" textLength="18.28" lengthAdjust="spacingAndGlyphs">BAG4</text>
<line x1="47.10" y1="480.13" x2="51.20" y2="480.13" stroke="#333333" stroke-width="1.1"/>
<text x="44.50" y="492.44" font-size="6.35" text-anchor="end" fill="#4d4d4d" font-style="italic" textLength="22.46" lengthAdjust="spacingAndGlyphs">ALMS1</text>
<line x1="47.10" y1="489.84" x2="51.20" y2="489.84" stroke="#333333" stroke-width="1.1"/>
<text x="44.50" y="502.15" font-size="6.35" text-anchor="end" fill="#4d4d4d" font-style="italic" textLength="24.36" lengthAdjust="spacingAndGlyphs">CNNM2</text>
<line x1="47.10" y1="499.55" x2="51.20" y2="499.55" stroke="#333333" stroke-width="1.1"/>
<text x="44.50" y="511.86" font-size="6.35" text-anchor="end" fill="#4d4d4d" font-style="italic" textLength="19.41" lengthAdjust="spacingAndGlyphs">DPCD</text>
<line x1="47.10" y1="509.26" x2="51.20" y2="509.26" stroke="#333333" stroke-width="1.1"/>
<text x="44.50" y="521.57" font-size="6.35" text-anchor="end" fill="#4d4d4d" font-style="italic" textLength="27.80" lengthAdjust="spacingAndGlyphs">PPIP5K1</text>
<line x1="47.10" y1="518.97" x2="51.20" y2="518.97" stroke="#333333" stroke-width="1.1"/>
<text x="44.50" y="531.28" font-size="6.35" text-anchor="end" fill="#4d4d4d" font-style="italic" textLength="31.59" lengthAdjust="spacingAndGlyphs">NDUFAF2</text>
<line x1="47.10" y1="528.68" x2="51.20" y2="528.68" stroke="#333333" stroke-width="1.1"/>
<text x="44.50" y="540.99" font-size="6.35" text-anchor="end" fill="#4d4d4d" font-style="italic" textLength="21.70" lengthAdjust="spacingAndGlyphs">NT5C2</text>
<line x1="47.10" y1="538.39" x2="51.20" y2="538.39" stroke="#333333" stroke-width="1.1"/>
<text x="44.50" y="550.70" font-size="6.35" text-anchor="end" fill="#4d4d4d" font-style="italic" textLength="27.41" lengthAdjust="spacingAndGlyphs">SPECC1</text>
<line x1="47.10" y1="548.10" x2="51.20" y2="548.10" stroke="#333333" stroke-width="1.1"/>
<text x="44.50" y="560.41" font-size="6.35" text-anchor="end" fill="#4d4d4d" font-style="italic" textLength="21.70" lengthAdjust="spacingAndGlyphs">SNX19</text>
<line x1="47.10" y1="557.81" x2="51.20" y2="557.81" stroke="#333333" stroke-width="1.1"/>
<text x="44.50" y="570.12" font-size="6.35" text-anchor="end" fill="#4d4d4d" font-style="italic" textLength="20.94" lengthAdjust="spacingAndGlyphs">SF3B1</text>
<line x1="47.10" y1="567.52" x2="51.20" y2="567.52" stroke="#333333" stroke-width="1.1"/>
<text x="5.60" y="315.10" font-size="7.3" text-anchor="middle" fill="#000" transform="rotate(-90 5.60 315.10)" textLength="55.6" lengthAdjust="spacingAndGlyphs">SCZ risk genes</text>
<text x="208.40" y="16.00" font-size="8.3" text-anchor="start" fill="#000">Causal inference (1-sample MR)</text>
<text x="220.60" y="32.00" font-size="8.35" text-anchor="start" fill="#000">Significance</text>
<line x1="272.80" y1="29.30" x2="279.50" y2="29.30" stroke="#ff0000" stroke-width="1.0"/>
<circle cx="276.20" cy="29.30" r="1.7" fill="#ff0000" stroke="none" stroke-width="0"/>
<text x="282.20" y="32.00" font-size="8.35" text-anchor="start" fill="#000">Pass</text>
<line x1="307.30" y1="29.30" x2="314.30" y2="29.30" stroke="#000" stroke-width="1.0"/>
<circle cx="310.80" cy="29.30" r="1.7" fill="#000" stroke="none" stroke-width="0"/>
<text x="317.20" y="32.00" font-size="8.35" text-anchor="start" fill="#000">Fail</text>
<rect x="208.70" y="56.80" width="62.50" height="516.30" fill="#fff" stroke="none" stroke-width="1"/>
<line x1="221.75" y1="56.80" x2="221.75" y2="573.10" stroke="#efefef" stroke-width="0.7"/>
<line x1="245.15" y1="56.80" x2="245.15" y2="573.10" stroke="#efefef" stroke-width="0.7"/>
<line x1="268.55" y1="56.80" x2="268.55" y2="573.10" stroke="#efefef" stroke-width="0.7"/>
<line x1="208.70" y1="62.60" x2="271.20" y2="62.60" stroke="#ebebeb" stroke-width="1.2"/>
<line x1="208.70" y1="72.31" x2="271.20" y2="72.31" stroke="#ebebeb" stroke-width="1.2"/>
<line x1="208.70" y1="82.02" x2="271.20" y2="82.02" stroke="#ebebeb" stroke-width="1.2"/>
<line x1="208.70" y1="91.73" x2="271.20" y2="91.73" stroke="#ebebeb" stroke-width="1.2"/>
<line x1="208.70" y1="101.44" x2="271.20" y2="101.44" stroke="#ebebeb" stroke-width="1.2"/>
<line x1="208.70" y1="111.15" x2="271.20" y2="111.15" stroke="#ebebeb" stroke-width="1.2"/>
<line x1="208.70" y1="120.86" x2="271.20" y2="120.86" stroke="#ebebeb" stroke-width="1.2"/>
<line x1="208.70" y1="130.57" x2="271.20" y2="130.57" stroke="#ebebeb" stroke-width="1.2"/>
<line x1="208.70" y1="140.28" x2="271.20" y2="140.28" stroke="#ebebeb" stroke-width="1.2"/>
<line x1="208.70" y1="149.99" x2="271.20" y2="149.99" stroke="#ebebeb" stroke-width="1.2"/>
<line x1="208.70" y1="159.70" x2="271.20" y2="159.70" stroke="#ebebeb" stroke-width="1.2"/>
<line x1="208.70" y1="169.41" x2="271.20" y2="169.41" stroke="#ebebeb" stroke-width="1.2"/>
<line x1="208.70" y1="179.12" x2="271.20" y2="179.12" stroke="#ebebeb" stroke-width="1.2"/>
<line x1="208.70" y1="188.83" x2="271.20" y2="188.83" stroke="#ebebeb" stroke-width="1.2"/>
<line x1="208.70" y1="198.54" x2="271.20" y2="198.54" stroke="#ebebeb" stroke-width="1.2"/>
<line x1="208.70" y1="208.25" x2="271.20" y2="208.25" stroke="#ebebeb" stroke-width="1.2"/>
<line x1="208.70" y1="217.96" x2="271.20" y2="217.96" stroke="#ebebeb" stroke-width="1.2"/>
<line x1="208.70" y1="227.67" x2="271.20" y2="227.67" stroke="#ebebeb" stroke-width="1.2"/>
<line x1="208.70" y1="237.38" x2="271.20" y2="237.38" stroke="#ebebeb" stroke-width="1.2"/>
<line x1="208.70" y1="247.09" x2="271.20" y2="247.09" stroke="#ebebeb" stroke-width="1.2"/>
<line x1="208.70" y1="256.80" x2="271.20" y2="256.80" stroke="#ebebeb" stroke-width="1.2"/>
<line x1="208.70" y1="266.51" x2="271.20" y2="266.51" stroke="#ebebeb" stroke-width="1.2"/>
<line x1="208.70" y1="276.22" x2="271.20" y2="276.22" stroke="#ebebeb" stroke-width="1.2"/>
<line x1="208.70" y1="285.93" x2="271.20" y2="285.93" stroke="#ebebeb" stroke-width="1.2"/>
<line x1="208.70" y1="295.64" x2="271.20" y2="295.64" stroke="#ebebeb" stroke-width="1.2"/>
<line x1="208.70" y1="305.35" x2="271.20" y2="305.35" stroke="#ebebeb" stroke-width="1.2"/>
<line x1="208.70" y1="315.06" x2="271.20" y2="315.06" stroke="#ebebeb" stroke-width="1.2"/>
<line x1="208.70" y1="324.77" x2="271.20" y2="324.77" stroke="#ebebeb" stroke-width="1.2"/>
<line x1="208.70" y1="334.48" x2="271.20" y2="334.48" stroke="#ebebeb" stroke-width="1.2"/>
<line x1="208.70" y1="344.19" x2="271.20" y2="344.19" stroke="#ebebeb" stroke-width="1.2"/>
<line x1="208.70" y1="353.90" x2="271.20" y2="353.90" stroke="#ebebeb" stroke-width="1.2"/>
<line x1="208.70" y1="363.61" x2="271.20" y2="363.61" stroke="#ebebeb" stroke-width="1.2"/>
<line x1="208.70" y1="373.32" x2="271.20" y2="373.32" stroke="#ebebeb" stroke-width="1.2"/>
<line x1="208.70" y1="383.03" x2="271.20" y2="383.03" stroke="#ebebeb" stroke-width="1.2"/>
<line x1="208.70" y1="392.74" x2="271.20" y2="392.74" stroke="#ebebeb" stroke-width="1.2"/>
<line x1="208.70" y1="402.45" x2="271.20" y2="402.45" stroke="#ebebeb" stroke-width="1.2"/>
<line x1="208.70" y1="412.16" x2="271.20" y2="412.16" stroke="#ebebeb" stroke-width="1.2"/>
<line x1="208.70" y1="421.87" x2="271.20" y2="421.87" stroke="#ebebeb" stroke-width="1.2"/>
<line x1="208.70" y1="431.58" x2="271.20" y2="431.58" stroke="#ebebeb" stroke-width="1.2"/>
<line x1="208.70" y1="441.29" x2="271.20" y2="441.29" stroke="#ebebeb" stroke-width="1.2"/>
<line x1="208.70" y1="451.00" x2="271.20" y2="451.00" stroke="#ebebeb" stroke-width="1.2"/>
<line x1="208.70" y1="460.71" x2="271.20" y2="460.71" stroke="#ebebeb" stroke-width="1.2"/>
<line x1="208.70" y1="470.42" x2="271.20" y2="470.42" stroke="#ebebeb" stroke-width="1.2"/>
<line x1="208.70" y1="480.13" x2="271.20" y2="480.13" stroke="#ebebeb" stroke-width="1.2"/>
<line x1="208.70" y1="489.84" x2="271.20" y2="489.84" stroke="#ebebeb" stroke-width="1.2"/>
<line x1="208.70" y1="499.55" x2="271.20" y2="499.55" stroke="#ebebeb" stroke-width="1.2"/>
<line x1="208.70" y1="509.26" x2="271.20" y2="509.26" stroke="#ebebeb" stroke-width="1.2"/>
<line x1="208.70" y1="518.97" x2="271.20" y2="518.97" stroke="#ebebeb" stroke-width="1.2"/>
<line x1="208.70" y1="528.68" x2="271.20" y2="528.68" stroke="#ebebeb" stroke-width="1.2"/>
<line x1="208.70" y1="538.39" x2="271.20" y2="538.39" stroke="#ebebeb" stroke-width="1.2"/>
<line x1="208.70" y1="548.10" x2="271.20" y2="548.10" stroke="#ebebeb" stroke-width="1.2"/>
<line x1="208.70" y1="557.81" x2="271.20" y2="557.81" stroke="#ebebeb" stroke-width="1.2"/>
<line x1="208.70" y1="567.52" x2="271.20" y2="567.52" stroke="#ebebeb" stroke-width="1.2"/>
<line x1="210.05" y1="56.80" x2="210.05" y2="573.10" stroke="#ebebeb" stroke-width="1.2"/>
<line x1="233.45" y1="56.80" x2="233.45" y2="573.10" stroke="#ebebeb" stroke-width="1.2"/>
<line x1="256.85" y1="56.80" x2="256.85" y2="573.10" stroke="#ebebeb" stroke-width="1.2"/>
<line x1="233.45" y1="56.80" x2="233.45" y2="573.10" stroke="#222" stroke-width="0.85" stroke-dasharray="4.2,4.0" stroke-dashoffset="4.9"/>
<line x1="252.40" y1="62.60" x2="260.13" y2="62.60" stroke="#ff0000" stroke-width="0.9"/>
<line x1="252.40" y1="60.20" x2="252.40" y2="65.00" stroke="#ff0000" stroke-width="0.9"/>
<line x1="260.13" y1="60.20" x2="260.13" y2="65.00" stroke="#ff0000" stroke-width="0.9"/>
<circle cx="256.38" cy="62.60" r="1.75" fill="#ff0000" stroke="none" stroke-width="0"/>
<line x1="248.66" y1="72.31" x2="259.89" y2="72.31" stroke="#ff0000" stroke-width="0.9"/>
<line x1="248.66" y1="69.91" x2="248.66" y2="74.71" stroke="#ff0000" stroke-width="0.9"/>
<line x1="259.89" y1="69.91" x2="259.89" y2="74.71" stroke="#ff0000" stroke-width="0.9"/>
<circle cx="254.28" cy="72.31" r="1.75" fill="#ff0000" stroke="none" stroke-width="0"/>
<line x1="250.77" y1="82.02" x2="257.79" y2="82.02" stroke="#ff0000" stroke-width="0.9"/>
<line x1="250.77" y1="79.62" x2="250.77" y2="84.42" stroke="#ff0000" stroke-width="0.9"/>
<line x1="257.79" y1="79.62" x2="257.79" y2="84.42" stroke="#ff0000" stroke-width="0.9"/>
<circle cx="254.04" cy="82.02" r="1.75" fill="#ff0000" stroke="none" stroke-width="0"/>
<line x1="251.70" y1="91.73" x2="254.98" y2="91.73" stroke="#ff0000" stroke-width="0.9"/>
<line x1="251.70" y1="89.33" x2="251.70" y2="94.13" stroke="#ff0000" stroke-width="0.9"/>
<line x1="254.98" y1="89.33" x2="254.98" y2="94.13" stroke="#ff0000" stroke-width="0.9"/>
<circle cx="253.34" cy="91.73" r="1.75" fill="#ff0000" stroke="none" stroke-width="0"/>
<line x1="247.72" y1="101.44" x2="258.96" y2="101.44" stroke="#ff0000" stroke-width="0.9"/>
<line x1="247.72" y1="99.04" x2="247.72" y2="103.84" stroke="#ff0000" stroke-width="0.9"/>
<line x1="258.96" y1="99.04" x2="258.96" y2="103.84" stroke="#ff0000" stroke-width="0.9"/>
<circle cx="253.34" cy="101.44" r="1.75" fill="#ff0000" stroke="none" stroke-width="0"/>
<line x1="249.60" y1="111.15" x2="255.68" y2="111.15" stroke="#ff0000" stroke-width="0.9"/>
<line x1="249.60" y1="108.75" x2="249.60" y2="113.55" stroke="#ff0000" stroke-width="0.9"/>
<line x1="255.68" y1="108.75" x2="255.68" y2="113.55" stroke="#ff0000" stroke-width="0.9"/>
<circle cx="252.64" cy="111.15" r="1.75" fill="#ff0000" stroke="none" stroke-width="0"/>
<line x1="247.96" y1="120.86" x2="256.38" y2="120.86" stroke="#ff0000" stroke-width="0.9"/>
<line x1="247.96" y1="118.46" x2="247.96" y2="123.26" stroke="#ff0000" stroke-width="0.9"/>
<line x1="256.38" y1="118.46" x2="256.38" y2="123.26" stroke="#ff0000" stroke-width="0.9"/>
<circle cx="251.94" cy="120.86" r="1.75" fill="#ff0000" stroke="none" stroke-width="0"/>
<line x1="249.36" y1="130.57" x2="254.74" y2="130.57" stroke="#ff0000" stroke-width="0.9"/>
<line x1="249.36" y1="128.17" x2="249.36" y2="132.97" stroke="#ff0000" stroke-width="0.9"/>
<line x1="254.74" y1="128.17" x2="254.74" y2="132.97" stroke="#ff0000" stroke-width="0.9"/>
<circle cx="251.94" cy="130.57" r="1.75" fill="#ff0000" stroke="none" stroke-width="0"/>
<line x1="247.72" y1="140.28" x2="254.98" y2="140.28" stroke="#ff0000" stroke-width="0.9"/>
<line x1="247.72" y1="137.88" x2="247.72" y2="142.68" stroke="#ff0000" stroke-width="0.9"/>
<line x1="254.98" y1="137.88" x2="254.98" y2="142.68" stroke="#ff0000" stroke-width="0.9"/>
<circle cx="251.23" cy="140.28" r="1.75" fill="#ff0000" stroke="none" stroke-width="0"/>
<line x1="248.89" y1="149.99" x2="252.64" y2="149.99" stroke="#ff0000" stroke-width="0.9"/>
<line x1="248.89" y1="147.59" x2="248.89" y2="152.39" stroke="#ff0000" stroke-width="0.9"/>
<line x1="252.64" y1="147.59" x2="252.64" y2="152.39" stroke="#ff0000" stroke-width="0.9"/>
<circle cx="250.77" cy="149.99" r="1.75" fill="#ff0000" stroke="none" stroke-width="0"/>
<line x1="247.49" y1="159.70" x2="253.57" y2="159.70" stroke="#ff0000" stroke-width="0.9"/>
<line x1="247.49" y1="157.30" x2="247.49" y2="162.10" stroke="#ff0000" stroke-width="0.9"/>
<line x1="253.57" y1="157.30" x2="253.57" y2="162.10" stroke="#ff0000" stroke-width="0.9"/>
<circle cx="250.53" cy="159.70" r="1.75" fill="#ff0000" stroke="none" stroke-width="0"/>
<line x1="247.02" y1="169.41" x2="254.04" y2="169.41" stroke="#ff0000" stroke-width="0.9"/>
<line x1="247.02" y1="167.01" x2="247.02" y2="171.81" stroke="#ff0000" stroke-width="0.9"/>
<line x1="254.04" y1="167.01" x2="254.04" y2="171.81" stroke="#ff0000" stroke-width="0.9"/>
<circle cx="250.30" cy="169.41" r="1.75" fill="#ff0000" stroke="none" stroke-width="0"/>
<line x1="247.02" y1="179.12" x2="253.81" y2="179.12" stroke="#ff0000" stroke-width="0.9"/>
<line x1="247.02" y1="176.72" x2="247.02" y2="181.52" stroke="#ff0000" stroke-width="0.9"/>
<line x1="253.81" y1="176.72" x2="253.81" y2="181.52" stroke="#ff0000" stroke-width="0.9"/>
<circle cx="250.06" cy="179.12" r="1.75" fill="#ff0000" stroke="none" stroke-width="0"/>
<line x1="245.85" y1="188.83" x2="254.04" y2="188.83" stroke="#ff0000" stroke-width="0.9"/>
<line x1="245.85" y1="186.43" x2="245.85" y2="191.23" stroke="#ff0000" stroke-width="0.9"/>
<line x1="254.04" y1="186.43" x2="254.04" y2="191.23" stroke="#ff0000" stroke-width="0.9"/>
<circle cx="249.83" cy="188.83" r="1.75" fill="#ff0000" stroke="none" stroke-width="0"/>
<line x1="243.75" y1="198.54" x2="255.45" y2="198.54" stroke="#ff0000" stroke-width="0.9"/>
<line x1="243.75" y1="196.14" x2="243.75" y2="200.94" stroke="#ff0000" stroke-width="0.9"/>
<line x1="255.45" y1="196.14" x2="255.45" y2="200.94" stroke="#ff0000" stroke-width="0.9"/>
<circle cx="249.36" cy="198.54" r="1.75" fill="#ff0000" stroke="none" stroke-width="0"/>
<line x1="246.55" y1="208.25" x2="252.64" y2="208.25" stroke="#ff0000" stroke-width="0.9"/>
<line x1="246.55" y1="205.85" x2="246.55" y2="210.65" stroke="#ff0000" stroke-width="0.9"/>
<line x1="252.64" y1="205.85" x2="252.64" y2="210.65" stroke="#ff0000" stroke-width="0.9"/>
<circle cx="249.36" cy="208.25" r="1.75" fill="#ff0000" stroke="none" stroke-width="0"/>
<line x1="243.51" y1="217.96" x2="254.74" y2="217.96" stroke="#ff0000" stroke-width="0.9"/>
<line x1="243.51" y1="215.56" x2="243.51" y2="220.36" stroke="#ff0000" stroke-width="0.9"/>
<line x1="254.74" y1="215.56" x2="254.74" y2="220.36" stroke="#ff0000" stroke-width="0.9"/>
<circle cx="249.13" cy="217.96" r="1.75" fill="#ff0000" stroke="none" stroke-width="0"/>
<line x1="245.15" y1="227.67" x2="252.64" y2="227.67" stroke="#ff0000" stroke-width="0.9"/>
<line x1="245.15" y1="225.27" x2="245.15" y2="230.07" stroke="#ff0000" stroke-width="0.9"/>
<line x1="252.64" y1="225.27" x2="252.64" y2="230.07" stroke="#ff0000" stroke-width="0.9"/>
<circle cx="248.89" cy="227.67" r="1.75" fill="#ff0000" stroke="none" stroke-width="0"/>
<line x1="245.85" y1="237.38" x2="251.47" y2="237.38" stroke="#ff0000" stroke-width="0.9"/>
<line x1="245.85" y1="234.98" x2="245.85" y2="239.78" stroke="#ff0000" stroke-width="0.9"/>
<line x1="251.47" y1="234.98" x2="251.47" y2="239.78" stroke="#ff0000" stroke-width="0.9"/>
<circle cx="248.43" cy="237.38" r="1.75" fill="#ff0000" stroke="none" stroke-width="0"/>
<line x1="245.85" y1="247.09" x2="251.47" y2="247.09" stroke="#ff0000" stroke-width="0.9"/>
<line x1="245.85" y1="244.69" x2="245.85" y2="249.49" stroke="#ff0000" stroke-width="0.9"/>
<line x1="251.47" y1="244.69" x2="251.47" y2="249.49" stroke="#ff0000" stroke-width="0.9"/>
<circle cx="248.19" cy="247.09" r="1.75" fill="#ff0000" stroke="none" stroke-width="0"/>
<line x1="245.38" y1="256.80" x2="250.77" y2="256.80" stroke="#ff0000" stroke-width="0.9"/>
<line x1="245.38" y1="254.40" x2="245.38" y2="259.20" stroke="#ff0000" stroke-width="0.9"/>
<line x1="250.77" y1="254.40" x2="250.77" y2="259.20" stroke="#ff0000" stroke-width="0.9"/>
<circle cx="247.96" cy="256.80" r="1.75" fill="#ff0000" stroke="none" stroke-width="0"/>
<line x1="243.51" y1="266.51" x2="252.17" y2="266.51" stroke="#ff0000" stroke-width="0.9"/>
<line x1="243.51" y1="264.11" x2="243.51" y2="268.91" stroke="#ff0000" stroke-width="0.9"/>
<line x1="252.17" y1="264.11" x2="252.17" y2="268.91" stroke="#ff0000" stroke-width="0.9"/>
<circle cx="247.72" cy="266.51" r="1.75" fill="#ff0000" stroke="none" stroke-width="0"/>
<line x1="244.92" y1="276.22" x2="250.53" y2="276.22" stroke="#ff0000" stroke-width="0.9"/>
<line x1="244.92" y1="273.82" x2="244.92" y2="278.62" stroke="#ff0000" stroke-width="0.9"/>
<line x1="250.53" y1="273.82" x2="250.53" y2="278.62" stroke="#ff0000" stroke-width="0.9"/>
<circle cx="247.72" cy="276.22" r="1.75" fill="#ff0000" stroke="none" stroke-width="0"/>
<line x1="241.64" y1="285.93" x2="252.17" y2="285.93" stroke="#ff0000" stroke-width="0.9"/>
<line x1="241.64" y1="283.53" x2="241.64" y2="288.33" stroke="#ff0000" stroke-width="0.9"/>
<line x1="252.17" y1="283.53" x2="252.17" y2="288.33" stroke="#ff0000" stroke-width="0.9"/>
<circle cx="247.02" cy="285.93" r="1.75" fill="#ff0000" stroke="none" stroke-width="0"/>
<line x1="242.81" y1="295.64" x2="250.77" y2="295.64" stroke="#ff0000" stroke-width="0.9"/>
<line x1="242.81" y1="293.24" x2="242.81" y2="298.04" stroke="#ff0000" stroke-width="0.9"/>
<line x1="250.77" y1="293.24" x2="250.77" y2="298.04" stroke="#ff0000" stroke-width="0.9"/>
<circle cx="246.79" cy="295.64" r="1.75" fill="#ff0000" stroke="none" stroke-width="0"/>
<line x1="243.98" y1="305.35" x2="249.36" y2="305.35" stroke="#ff0000" stroke-width="0.9"/>
<line x1="243.98" y1="302.95" x2="243.98" y2="307.75" stroke="#ff0000" stroke-width="0.9"/>
<line x1="249.36" y1="302.95" x2="249.36" y2="307.75" stroke="#ff0000" stroke-width="0.9"/>
<circle cx="246.55" cy="305.35" r="1.75" fill="#ff0000" stroke="none" stroke-width="0"/>
<line x1="244.21" y1="315.06" x2="248.89" y2="315.06" stroke="#ff0000" stroke-width="0.9"/>
<line x1="244.21" y1="312.66" x2="244.21" y2="317.46" stroke="#ff0000" stroke-width="0.9"/>
<line x1="248.89" y1="312.66" x2="248.89" y2="317.46" stroke="#ff0000" stroke-width="0.9"/>
<circle cx="246.32" cy="315.06" r="1.75" fill="#ff0000" stroke="none" stroke-width="0"/>
<line x1="240.94" y1="324.77" x2="250.77" y2="324.77" stroke="#ff0000" stroke-width="0.9"/>
<line x1="240.94" y1="322.37" x2="240.94" y2="327.17" stroke="#ff0000" stroke-width="0.9"/>
<line x1="250.77" y1="322.37" x2="250.77" y2="327.17" stroke="#ff0000" stroke-width="0.9"/>
<circle cx="245.85" cy="324.77" r="1.75" fill="#ff0000" stroke="none" stroke-width="0"/>
<line x1="240.94" y1="334.48" x2="249.83" y2="334.48" stroke="#ff0000" stroke-width="0.9"/>
<line x1="240.94" y1="332.08" x2="240.94" y2="336.88" stroke="#ff0000" stroke-width="0.9"/>
<line x1="249.83" y1="332.08" x2="249.83" y2="336.88" stroke="#ff0000" stroke-width="0.9"/>
<circle cx="245.38" cy="334.48" r="1.75" fill="#ff0000" stroke="none" stroke-width="0"/>
<line x1="242.58" y1="344.19" x2="247.96" y2="344.19" stroke="#ff0000" stroke-width="0.9"/>
<line x1="242.58" y1="341.79" x2="242.58" y2="346.59" stroke="#ff0000" stroke-width="0.9"/>
<line x1="247.96" y1="341.79" x2="247.96" y2="346.59" stroke="#ff0000" stroke-width="0.9"/>
<circle cx="245.38" cy="344.19" r="1.75" fill="#ff0000" stroke="none" stroke-width="0"/>
<line x1="241.87" y1="353.90" x2="248.89" y2="353.90" stroke="#ff0000" stroke-width="0.9"/>
<line x1="241.87" y1="351.50" x2="241.87" y2="356.30" stroke="#ff0000" stroke-width="0.9"/>
<line x1="248.89" y1="351.50" x2="248.89" y2="356.30" stroke="#ff0000" stroke-width="0.9"/>
<circle cx="245.38" cy="353.90" r="1.75" fill="#ff0000" stroke="none" stroke-width="0"/>
<line x1="240.94" y1="363.61" x2="249.83" y2="363.61" stroke="#ff0000" stroke-width="0.9"/>
<line x1="240.94" y1="361.21" x2="240.94" y2="366.01" stroke="#ff0000" stroke-width="0.9"/>
<line x1="249.83" y1="361.21" x2="249.83" y2="366.01" stroke="#ff0000" stroke-width="0.9"/>
<circle cx="245.38" cy="363.61" r="1.75" fill="#ff0000" stroke="none" stroke-width="0"/>
<line x1="242.11" y1="373.32" x2="247.72" y2="373.32" stroke="#ff0000" stroke-width="0.9"/>
<line x1="242.11" y1="370.92" x2="242.11" y2="375.72" stroke="#ff0000" stroke-width="0.9"/>
<line x1="247.72" y1="370.92" x2="247.72" y2="375.72" stroke="#ff0000" stroke-width="0.9"/>
<circle cx="244.68" cy="373.32" r="1.75" fill="#ff0000" stroke="none" stroke-width="0"/>
<line x1="241.64" y1="383.03" x2="247.96" y2="383.03" stroke="#ff0000" stroke-width="0.9"/>
<line x1="241.64" y1="380.63" x2="241.64" y2="385.43" stroke="#ff0000" stroke-width="0.9"/>
<line x1="247.96" y1="380.63" x2="247.96" y2="385.43" stroke="#ff0000" stroke-width="0.9"/>
<circle cx="244.68" cy="383.03" r="1.75" fill="#ff0000" stroke="none" stroke-width="0"/>
<line x1="238.36" y1="392.74" x2="249.36" y2="392.74" stroke="#ff0000" stroke-width="0.9"/>
<line x1="238.36" y1="390.34" x2="238.36" y2="395.14" stroke="#ff0000" stroke-width="0.9"/>
<line x1="249.36" y1="390.34" x2="249.36" y2="395.14" stroke="#ff0000" stroke-width="0.9"/>
<circle cx="243.75" cy="392.74" r="1.75" fill="#ff0000" stroke="none" stroke-width="0"/>
<line x1="240.70" y1="402.45" x2="246.79" y2="402.45" stroke="#ff0000" stroke-width="0.9"/>
<line x1="240.70" y1="400.05" x2="240.70" y2="404.85" stroke="#ff0000" stroke-width="0.9"/>
<line x1="246.79" y1="400.05" x2="246.79" y2="404.85" stroke="#ff0000" stroke-width="0.9"/>
<circle cx="243.51" cy="402.45" r="1.75" fill="#ff0000" stroke="none" stroke-width="0"/>
<line x1="239.53" y1="412.16" x2="244.92" y2="412.16" stroke="#ff0000" stroke-width="0.9"/>
<line x1="239.53" y1="409.76" x2="239.53" y2="414.56" stroke="#ff0000" stroke-width="0.9"/>
<line x1="244.92" y1="409.76" x2="244.92" y2="414.56" stroke="#ff0000" stroke-width="0.9"/>
<circle cx="242.34" cy="412.16" r="1.75" fill="#ff0000" stroke="none" stroke-width="0"/>
<line x1="236.96" y1="421.87" x2="246.79" y2="421.87" stroke="#ff0000" stroke-width="0.9"/>
<line x1="236.96" y1="419.47" x2="236.96" y2="424.27" stroke="#ff0000" stroke-width="0.9"/>
<line x1="246.79" y1="419.47" x2="246.79" y2="424.27" stroke="#ff0000" stroke-width="0.9"/>
<circle cx="241.64" cy="421.87" r="1.75" fill="#ff0000" stroke="none" stroke-width="0"/>
<line x1="237.66" y1="431.58" x2="245.85" y2="431.58" stroke="#ff0000" stroke-width="0.9"/>
<line x1="237.66" y1="429.18" x2="237.66" y2="433.98" stroke="#ff0000" stroke-width="0.9"/>
<line x1="245.85" y1="429.18" x2="245.85" y2="433.98" stroke="#ff0000" stroke-width="0.9"/>
<circle cx="241.41" cy="431.58" r="1.75" fill="#ff0000" stroke="none" stroke-width="0"/>
<line x1="238.60" y1="441.29" x2="244.21" y2="441.29" stroke="#ff0000" stroke-width="0.9"/>
<line x1="238.60" y1="438.89" x2="238.60" y2="443.69" stroke="#ff0000" stroke-width="0.9"/>
<line x1="244.21" y1="438.89" x2="244.21" y2="443.69" stroke="#ff0000" stroke-width="0.9"/>
<circle cx="241.17" cy="441.29" r="1.75" fill="#ff0000" stroke="none" stroke-width="0"/>
<line x1="238.60" y1="451.00" x2="243.51" y2="451.00" stroke="#ff0000" stroke-width="0.9"/>
<line x1="238.60" y1="448.60" x2="238.60" y2="453.40" stroke="#ff0000" stroke-width="0.9"/>
<line x1="243.51" y1="448.60" x2="243.51" y2="453.40" stroke="#ff0000" stroke-width="0.9"/>
<circle cx="240.94" cy="451.00" r="1.75" fill="#ff0000" stroke="none" stroke-width="0"/>
<line x1="237.66" y1="460.71" x2="243.75" y2="460.71" stroke="#ff0000" stroke-width="0.9"/>
<line x1="237.66" y1="458.31" x2="237.66" y2="463.11" stroke="#ff0000" stroke-width="0.9"/>
<line x1="243.75" y1="458.31" x2="243.75" y2="463.11" stroke="#ff0000" stroke-width="0.9"/>
<circle cx="240.70" cy="460.71" r="1.75" fill="#ff0000" stroke="none" stroke-width="0"/>
<line x1="236.49" y1="470.42" x2="243.75" y2="470.42" stroke="#ff0000" stroke-width="0.9"/>
<line x1="236.49" y1="468.02" x2="236.49" y2="472.82" stroke="#ff0000" stroke-width="0.9"/>
<line x1="243.75" y1="468.02" x2="243.75" y2="472.82" stroke="#ff0000" stroke-width="0.9"/>
<circle cx="240.00" cy="470.42" r="1.75" fill="#ff0000" stroke="none" stroke-width="0"/>
<line x1="235.79" y1="480.13" x2="243.75" y2="480.13" stroke="#000" stroke-width="0.9"/>
<line x1="235.79" y1="477.73" x2="235.79" y2="482.53" stroke="#000" stroke-width="0.9"/>
<line x1="243.75" y1="477.73" x2="243.75" y2="482.53" stroke="#000" stroke-width="0.9"/>
<circle cx="239.53" cy="480.13" r="1.75" fill="#000" stroke="none" stroke-width="0"/>
<line x1="236.49" y1="489.84" x2="241.87" y2="489.84" stroke="#ff0000" stroke-width="0.9"/>
<line x1="236.49" y1="487.44" x2="236.49" y2="492.24" stroke="#ff0000" stroke-width="0.9"/>
<line x1="241.87" y1="487.44" x2="241.87" y2="492.24" stroke="#ff0000" stroke-width="0.9"/>
<circle cx="239.07" cy="489.84" r="1.75" fill="#ff0000" stroke="none" stroke-width="0"/>
<line x1="234.62" y1="499.55" x2="242.58" y2="499.55" stroke="#000" stroke-width="0.9"/>
<line x1="234.62" y1="497.15" x2="234.62" y2="501.95" stroke="#000" stroke-width="0.9"/>
<line x1="242.58" y1="497.15" x2="242.58" y2="501.95" stroke="#000" stroke-width="0.9"/>
<circle cx="238.60" cy="499.55" r="1.75" fill="#000" stroke="none" stroke-width="0"/>
<line x1="234.39" y1="509.26" x2="242.58" y2="509.26" stroke="#000" stroke-width="0.9"/>
<line x1="234.39" y1="506.86" x2="234.39" y2="511.66" stroke="#000" stroke-width="0.9"/>
<line x1="242.58" y1="506.86" x2="242.58" y2="511.66" stroke="#000" stroke-width="0.9"/>
<circle cx="238.36" cy="509.26" r="1.75" fill="#000" stroke="none" stroke-width="0"/>
<line x1="234.85" y1="518.97" x2="241.64" y2="518.97" stroke="#000" stroke-width="0.9"/>
<line x1="234.85" y1="516.57" x2="234.85" y2="521.37" stroke="#000" stroke-width="0.9"/>
<line x1="241.64" y1="516.57" x2="241.64" y2="521.37" stroke="#000" stroke-width="0.9"/>
<circle cx="238.13" cy="518.97" r="1.75" fill="#000" stroke="none" stroke-width="0"/>
<line x1="231.58" y1="528.68" x2="240.00" y2="528.68" stroke="#000" stroke-width="0.9"/>
<line x1="231.58" y1="526.28" x2="231.58" y2="531.08" stroke="#000" stroke-width="0.9"/>
<line x1="240.00" y1="526.28" x2="240.00" y2="531.08" stroke="#000" stroke-width="0.9"/>
<circle cx="235.32" cy="528.68" r="1.75" fill="#000" stroke="none" stroke-width="0"/>
<line x1="230.41" y1="538.39" x2="237.66" y2="538.39" stroke="#000" stroke-width="0.9"/>
<line x1="230.41" y1="535.99" x2="230.41" y2="540.79" stroke="#000" stroke-width="0.9"/>
<line x1="237.66" y1="535.99" x2="237.66" y2="540.79" stroke="#000" stroke-width="0.9"/>
<circle cx="233.68" cy="538.39" r="1.75" fill="#000" stroke="none" stroke-width="0"/>
<line x1="226.90" y1="548.10" x2="233.68" y2="548.10" stroke="#000" stroke-width="0.9"/>
<line x1="226.90" y1="545.70" x2="226.90" y2="550.50" stroke="#000" stroke-width="0.9"/>
<line x1="233.68" y1="545.70" x2="233.68" y2="550.50" stroke="#000" stroke-width="0.9"/>
<circle cx="230.17" cy="548.10" r="1.75" fill="#000" stroke="none" stroke-width="0"/>
<line x1="227.37" y1="557.81" x2="233.22" y2="557.81" stroke="#000" stroke-width="0.9"/>
<line x1="227.37" y1="555.41" x2="227.37" y2="560.21" stroke="#000" stroke-width="0.9"/>
<line x1="233.22" y1="555.41" x2="233.22" y2="560.21" stroke="#000" stroke-width="0.9"/>
<circle cx="229.94" cy="557.81" r="1.75" fill="#000" stroke="none" stroke-width="0"/>
<line x1="225.26" y1="567.52" x2="233.45" y2="567.52" stroke="#000" stroke-width="0.9"/>
<line x1="225.26" y1="565.12" x2="225.26" y2="569.92" stroke="#000" stroke-width="0.9"/>
<line x1="233.45" y1="565.12" x2="233.45" y2="569.92" stroke="#000" stroke-width="0.9"/>
<circle cx="229.47" cy="567.52" r="1.75" fill="#000" stroke="none" stroke-width="0"/>
<rect x="208.70" y="56.80" width="62.50" height="516.30" fill="none" stroke="#333333" stroke-width="0.9"/>
<rect x="208.70" y="37.40" width="62.50" height="19.40" fill="#d9d9d9" stroke="#333333" stroke-width="0.9"/>
<text x="239.95" y="49.90" font-size="8.5" text-anchor="middle" fill="#1a1a1a" textLength="50.2" lengthAdjust="spacingAndGlyphs">mRNA → ribo</text>
<line x1="210.05" y1="573.10" x2="210.05" y2="576.90" stroke="#333333" stroke-width="1.2"/>
<text x="210.05" y="584.90" font-size="6.4" text-anchor="middle" fill="#4d4d4d">-1</text>
<line x1="233.45" y1="573.10" x2="233.45" y2="576.90" stroke="#333333" stroke-width="1.2"/>
<text x="233.45" y="584.90" font-size="6.4" text-anchor="middle" fill="#4d4d4d">0</text>
<line x1="256.85" y1="573.10" x2="256.85" y2="576.90" stroke="#333333" stroke-width="1.2"/>
<text x="256.85" y="584.90" font-size="6.4" text-anchor="middle" fill="#4d4d4d">1</text>
<rect x="279.50" y="56.80" width="62.50" height="516.30" fill="#fff" stroke="none" stroke-width="1"/>
<line x1="292.60" y1="56.80" x2="292.60" y2="573.10" stroke="#efefef" stroke-width="0.7"/>
<line x1="316.00" y1="56.80" x2="316.00" y2="573.10" stroke="#efefef" stroke-width="0.7"/>
<line x1="339.40" y1="56.80" x2="339.40" y2="573.10" stroke="#efefef" stroke-width="0.7"/>
<line x1="279.50" y1="62.60" x2="342.00" y2="62.60" stroke="#ebebeb" stroke-width="1.2"/>
<line x1="279.50" y1="72.31" x2="342.00" y2="72.31" stroke="#ebebeb" stroke-width="1.2"/>
<line x1="279.50" y1="82.02" x2="342.00" y2="82.02" stroke="#ebebeb" stroke-width="1.2"/>
<line x1="279.50" y1="91.73" x2="342.00" y2="91.73" stroke="#ebebeb" stroke-width="1.2"/>
<line x1="279.50" y1="101.44" x2="342.00" y2="101.44" stroke="#ebebeb" stroke-width="1.2"/>
<line x1="279.50" y1="111.15" x2="342.00" y2="111.15" stroke="#ebebeb" stroke-width="1.2"/>
<line x1="279.50" y1="120.86" x2="342.00" y2="120.86" stroke="#ebebeb" stroke-width="1.2"/>
<line x1="279.50" y1="130.57" x2="342.00" y2="130.57" stroke="#ebebeb" stroke-width="1.2"/>
<line x1="279.50" y1="140.28" x2="342.00" y2="140.28" stroke="#ebebeb" stroke-width="1.2"/>
<line x1="279.50" y1="149.99" x2="342.00" y2="149.99" stroke="#ebebeb" stroke-width="1.2"/>
<line x1="279.50" y1="159.70" x2="342.00" y2="159.70" stroke="#ebebeb" stroke-width="1.2"/>
<line x1="279.50" y1="169.41" x2="342.00" y2="169.41" stroke="#ebebeb" stroke-width="1.2"/>
<line x1="279.50" y1="179.12" x2="342.00" y2="179.12" stroke="#ebebeb" stroke-width="1.2"/>
<line x1="279.50" y1="188.83" x2="342.00" y2="188.83" stroke="#ebebeb" stroke-width="1.2"/>
<line x1="279.50" y1="198.54" x2="342.00" y2="198.54" stroke="#ebebeb" stroke-width="1.2"/>
<line x1="279.50" y1="208.25" x2="342.00" y2="208.25" stroke="#ebebeb" stroke-width="1.2"/>
<line x1="279.50" y1="217.96" x2="342.00" y2="217.96" stroke="#ebebeb" stroke-width="1.2"/>
<line x1="279.50" y1="227.67" x2="342.00" y2="227.67" stroke="#ebebeb" stroke-width="1.2"/>
<line x1="279.50" y1="237.38" x2="342.00" y2="237.38" stroke="#ebebeb" stroke-width="1.2"/>
<line x1="279.50" y1="247.09" x2="342.00" y2="247.09" stroke="#ebebeb" stroke-width="1.2"/>
<line x1="279.50" y1="256.80" x2="342.00" y2="256.80" stroke="#ebebeb" stroke-width="1.2"/>
<line x1="279.50" y1="266.51" x2="342.00" y2="266.51" stroke="#ebebeb" stroke-width="1.2"/>
<line x1="279.50" y1="276.22" x2="342.00" y2="276.22" stroke="#ebebeb" stroke-width="1.2"/>
<line x1="279.50" y1="285.93" x2="342.00" y2="285.93" stroke="#ebebeb" stroke-width="1.2"/>
<line x1="279.50" y1="295.64" x2="342.00" y2="295.64" stroke="#ebebeb" stroke-width="1.2"/>
<line x1="279.50" y1="305.35" x2="342.00" y2="305.35" stroke="#ebebeb" stroke-width="1.2"/>
<line x1="279.50" y1="315.06" x2="342.00" y2="315.06" stroke="#ebebeb" stroke-width="1.2"/>
<line x1="279.50" y1="324.77" x2="342.00" y2="324.77" stroke="#ebebeb" stroke-width="1.2"/>
<line x1="279.50" y1="334.48" x2="342.00" y2="334.48" stroke="#ebebeb" stroke-width="1.2"/>
<line x1="279.50" y1="344.19" x2="342.00" y2="344.19" stroke="#ebebeb" stroke-width="1.2"/>
<line x1="279.50" y1="353.90" x2="342.00" y2="353.90" stroke="#ebebeb" stroke-width="1.2"/>
<line x1="279.50" y1="363.61" x2="342.00" y2="363.61" stroke="#ebebeb" stroke-width="1.2"/>
<line x1="279.50" y1="373.32" x2="342.00" y2="373.32" stroke="#ebebeb" stroke-width="1.2"/>
<line x1="279.50" y1="383.03" x2="342.00" y2="383.03" stroke="#ebebeb" stroke-width="1.2"/>
<line x1="279.50" y1="392.74" x2="342.00" y2="392.74" stroke="#ebebeb" stroke-width="1.2"/>
<line x1="279.50" y1="402.45" x2="342.00" y2="402.45" stroke="#ebebeb" stroke-width="1.2"/>
<line x1="279.50" y1="412.16" x2="342.00" y2="412.16" stroke="#ebebeb" stroke-width="1.2"/>
<line x1="279.50" y1="421.87" x2="342.00" y2="421.87" stroke="#ebebeb" stroke-width="1.2"/>
<line x1="279.50" y1="431.58" x2="342.00" y2="431.58" stroke="#ebebeb" stroke-width="1.2"/>
<line x1="279.50" y1="441.29" x2="342.00" y2="441.29" stroke="#ebebeb" stroke-width="1.2"/>
<line x1="279.50" y1="451.00" x2="342.00" y2="451.00" stroke="#ebebeb" stroke-width="1.2"/>
<line x1="279.50" y1="460.71" x2="342.00" y2="460.71" stroke="#ebebeb" stroke-width="1.2"/>
<line x1="279.50" y1="470.42" x2="342.00" y2="470.42" stroke="#ebebeb" stroke-width="1.2"/>
<line x1="279.50" y1="480.13" x2="342.00" y2="480.13" stroke="#ebebeb" stroke-width="1.2"/>
<line x1="279.50" y1="489.84" x2="342.00" y2="489.84" stroke="#ebebeb" stroke-width="1.2"/>
<line x1="279.50" y1="499.55" x2="342.00" y2="499.55" stroke="#ebebeb" stroke-width="1.2"/>
<line x1="279.50" y1="509.26" x2="342.00" y2="509.26" stroke="#ebebeb" stroke-width="1.2"/>
<line x1="279.50" y1="518.97" x2="342.00" y2="518.97" stroke="#ebebeb" stroke-width="1.2"/>
<line x1="279.50" y1="528.68" x2="342.00" y2="528.68" stroke="#ebebeb" stroke-width="1.2"/>
<line x1="279.50" y1="538.39" x2="342.00" y2="538.39" stroke="#ebebeb" stroke-width="1.2"/>
<line x1="279.50" y1="548.10" x2="342.00" y2="548.10" stroke="#ebebeb" stroke-width="1.2"/>
<line x1="279.50" y1="557.81" x2="342.00" y2="557.81" stroke="#ebebeb" stroke-width="1.2"/>
<line x1="279.50" y1="567.52" x2="342.00" y2="567.52" stroke="#ebebeb" stroke-width="1.2"/>
<line x1="280.90" y1="56.80" x2="280.90" y2="573.10" stroke="#ebebeb" stroke-width="1.2"/>
<line x1="304.30" y1="56.80" x2="304.30" y2="573.10" stroke="#ebebeb" stroke-width="1.2"/>
<line x1="327.70" y1="56.80" x2="327.70" y2="573.10" stroke="#ebebeb" stroke-width="1.2"/>
<line x1="304.30" y1="56.80" x2="304.30" y2="573.10" stroke="#222" stroke-width="0.85" stroke-dasharray="4.2,4.0" stroke-dashoffset="4.9"/>
<line x1="319.98" y1="62.60" x2="327.00" y2="62.60" stroke="#ff0000" stroke-width="0.9"/>
<line x1="319.98" y1="60.20" x2="319.98" y2="65.00" stroke="#ff0000" stroke-width="0.9"/>
<line x1="327.00" y1="60.20" x2="327.00" y2="65.00" stroke="#ff0000" stroke-width="0.9"/>
<circle cx="323.49" cy="62.60" r="1.75" fill="#ff0000" stroke="none" stroke-width="0"/>
<line x1="294.94" y1="72.31" x2="305.00" y2="72.31" stroke="#000" stroke-width="0.9"/>
<line x1="294.94" y1="69.91" x2="294.94" y2="74.71" stroke="#000" stroke-width="0.9"/>
<line x1="305.00" y1="69.91" x2="305.00" y2="74.71" stroke="#000" stroke-width="0.9"/>
<circle cx="299.85" cy="72.31" r="1.75" fill="#000" stroke="none" stroke-width="0"/>
<line x1="317.40" y1="82.02" x2="323.49" y2="82.02" stroke="#ff0000" stroke-width="0.9"/>
<line x1="317.40" y1="79.62" x2="317.40" y2="84.42" stroke="#ff0000" stroke-width="0.9"/>
<line x1="323.49" y1="79.62" x2="323.49" y2="84.42" stroke="#ff0000" stroke-width="0.9"/>
<circle cx="320.45" cy="82.02" r="1.75" fill="#ff0000" stroke="none" stroke-width="0"/>
<line x1="319.51" y1="91.73" x2="323.49" y2="91.73" stroke="#ff0000" stroke-width="0.9"/>
<line x1="319.51" y1="89.33" x2="319.51" y2="94.13" stroke="#ff0000" stroke-width="0.9"/>
<line x1="323.49" y1="89.33" x2="323.49" y2="94.13" stroke="#ff0000" stroke-width="0.9"/>
<circle cx="321.62" cy="91.73" r="1.75" fill="#ff0000" stroke="none" stroke-width="0"/>
<line x1="307.81" y1="101.44" x2="315.77" y2="101.44" stroke="#000" stroke-width="0.9"/>
<line x1="307.81" y1="99.04" x2="307.81" y2="103.84" stroke="#000" stroke-width="0.9"/>
<line x1="315.77" y1="99.04" x2="315.77" y2="103.84" stroke="#000" stroke-width="0.9"/>
<circle cx="311.79" cy="101.44" r="1.75" fill="#000" stroke="none" stroke-width="0"/>
<line x1="307.58" y1="111.15" x2="312.02" y2="111.15" stroke="#ff0000" stroke-width="0.9"/>
<line x1="307.58" y1="108.75" x2="307.58" y2="113.55" stroke="#ff0000" stroke-width="0.9"/>
<line x1="312.02" y1="108.75" x2="312.02" y2="113.55" stroke="#ff0000" stroke-width="0.9"/>
<circle cx="309.92" cy="111.15" r="1.75" fill="#ff0000" stroke="none" stroke-width="0"/>
<line x1="301.73" y1="120.86" x2="311.79" y2="120.86" stroke="#000" stroke-width="0.9"/>
<line x1="301.73" y1="118.46" x2="301.73" y2="123.26" stroke="#000" stroke-width="0.9"/>
<line x1="311.79" y1="118.46" x2="311.79" y2="123.26" stroke="#000" stroke-width="0.9"/>
<circle cx="306.64" cy="120.86" r="1.75" fill="#000" stroke="none" stroke-width="0"/>
<line x1="314.60" y1="130.57" x2="318.11" y2="130.57" stroke="#ff0000" stroke-width="0.9"/>
<line x1="314.60" y1="128.17" x2="314.60" y2="132.97" stroke="#ff0000" stroke-width="0.9"/>
<line x1="318.11" y1="128.17" x2="318.11" y2="132.97" stroke="#ff0000" stroke-width="0.9"/>
<circle cx="316.23" cy="130.57" r="1.75" fill="#ff0000" stroke="none" stroke-width="0"/>
<line x1="320.91" y1="140.28" x2="331.21" y2="140.28" stroke="#ff0000" stroke-width="0.9"/>
<line x1="320.91" y1="137.88" x2="320.91" y2="142.68" stroke="#ff0000" stroke-width="0.9"/>
<line x1="331.21" y1="137.88" x2="331.21" y2="142.68" stroke="#ff0000" stroke-width="0.9"/>
<circle cx="326.06" cy="140.28" r="1.75" fill="#ff0000" stroke="none" stroke-width="0"/>
<line x1="301.49" y1="149.99" x2="305.94" y2="149.99" stroke="#000" stroke-width="0.9"/>
<line x1="301.49" y1="147.59" x2="301.49" y2="152.39" stroke="#000" stroke-width="0.9"/>
<line x1="305.94" y1="147.59" x2="305.94" y2="152.39" stroke="#000" stroke-width="0.9"/>
<circle cx="303.60" cy="149.99" r="1.75" fill="#000" stroke="none" stroke-width="0"/>
<line x1="295.88" y1="159.70" x2="305.00" y2="159.70" stroke="#000" stroke-width="0.9"/>
<line x1="295.88" y1="157.30" x2="295.88" y2="162.10" stroke="#000" stroke-width="0.9"/>
<line x1="305.00" y1="157.30" x2="305.00" y2="162.10" stroke="#000" stroke-width="0.9"/>
<circle cx="300.09" cy="159.70" r="1.75" fill="#000" stroke="none" stroke-width="0"/>
<line x1="310.15" y1="169.41" x2="318.57" y2="169.41" stroke="#ff0000" stroke-width="0.9"/>
<line x1="310.15" y1="167.01" x2="310.15" y2="171.81" stroke="#ff0000" stroke-width="0.9"/>
<line x1="318.57" y1="167.01" x2="318.57" y2="171.81" stroke="#ff0000" stroke-width="0.9"/>
<circle cx="314.36" cy="169.41" r="1.75" fill="#ff0000" stroke="none" stroke-width="0"/>
<line x1="302.90" y1="179.12" x2="310.85" y2="179.12" stroke="#000" stroke-width="0.9"/>
<line x1="302.90" y1="176.72" x2="302.90" y2="181.52" stroke="#000" stroke-width="0.9"/>
<line x1="310.85" y1="176.72" x2="310.85" y2="181.52" stroke="#000" stroke-width="0.9"/>
<circle cx="306.64" cy="179.12" r="1.75" fill="#000" stroke="none" stroke-width="0"/>
<line x1="282.30" y1="188.83" x2="301.73" y2="188.83" stroke="#000" stroke-width="0.9"/>
<line x1="282.30" y1="186.43" x2="282.30" y2="191.23" stroke="#000" stroke-width="0.9"/>
<line x1="301.73" y1="186.43" x2="301.73" y2="191.23" stroke="#000" stroke-width="0.9"/>
<circle cx="291.90" cy="188.83" r="1.75" fill="#000" stroke="none" stroke-width="0"/>
<line x1="283.71" y1="198.54" x2="299.62" y2="198.54" stroke="#000" stroke-width="0.9"/>
<line x1="283.71" y1="196.14" x2="283.71" y2="200.94" stroke="#000" stroke-width="0.9"/>
<line x1="299.62" y1="196.14" x2="299.62" y2="200.94" stroke="#000" stroke-width="0.9"/>
<circle cx="291.43" cy="198.54" r="1.75" fill="#000" stroke="none" stroke-width="0"/>
<line x1="317.87" y1="208.25" x2="325.36" y2="208.25" stroke="#ff0000" stroke-width="0.9"/>
<line x1="317.87" y1="205.85" x2="317.87" y2="210.65" stroke="#ff0000" stroke-width="0.9"/>
<line x1="325.36" y1="205.85" x2="325.36" y2="210.65" stroke="#ff0000" stroke-width="0.9"/>
<circle cx="321.62" cy="208.25" r="1.75" fill="#ff0000" stroke="none" stroke-width="0"/>
<line x1="316.94" y1="217.96" x2="326.76" y2="217.96" stroke="#ff0000" stroke-width="0.9"/>
<line x1="316.94" y1="215.56" x2="316.94" y2="220.36" stroke="#ff0000" stroke-width="0.9"/>
<line x1="326.76" y1="215.56" x2="326.76" y2="220.36" stroke="#ff0000" stroke-width="0.9"/>
<circle cx="321.62" cy="217.96" r="1.75" fill="#ff0000" stroke="none" stroke-width="0"/>
<line x1="306.87" y1="227.67" x2="316.47" y2="227.67" stroke="#000" stroke-width="0.9"/>
<line x1="306.87" y1="225.27" x2="306.87" y2="230.07" stroke="#000" stroke-width="0.9"/>
<line x1="316.47" y1="225.27" x2="316.47" y2="230.07" stroke="#000" stroke-width="0.9"/>
<circle cx="311.55" cy="227.67" r="1.75" fill="#000" stroke="none" stroke-width="0"/>
<line x1="317.87" y1="237.38" x2="323.49" y2="237.38" stroke="#ff0000" stroke-width="0.9"/>
<line x1="317.87" y1="234.98" x2="317.87" y2="239.78" stroke="#ff0000" stroke-width="0.9"/>
<line x1="323.49" y1="234.98" x2="323.49" y2="239.78" stroke="#ff0000" stroke-width="0.9"/>
<circle cx="320.45" cy="237.38" r="1.75" fill="#ff0000" stroke="none" stroke-width="0"/>
<line x1="313.66" y1="247.09" x2="321.38" y2="247.09" stroke="#ff0000" stroke-width="0.9"/>
<line x1="313.66" y1="244.69" x2="313.66" y2="249.49" stroke="#ff0000" stroke-width="0.9"/>
<line x1="321.38" y1="244.69" x2="321.38" y2="249.49" stroke="#ff0000" stroke-width="0.9"/>
<circle cx="317.40" cy="247.09" r="1.75" fill="#ff0000" stroke="none" stroke-width="0"/>
<line x1="316.00" y1="256.80" x2="322.79" y2="256.80" stroke="#ff0000" stroke-width="0.9"/>
<line x1="316.00" y1="254.40" x2="316.00" y2="259.20" stroke="#ff0000" stroke-width="0.9"/>
<line x1="322.79" y1="254.40" x2="322.79" y2="259.20" stroke="#ff0000" stroke-width="0.9"/>
<circle cx="319.04" cy="256.80" r="1.75" fill="#ff0000" stroke="none" stroke-width="0"/>
<line x1="313.66" y1="266.51" x2="323.72" y2="266.51" stroke="#ff0000" stroke-width="0.9"/>
<line x1="313.66" y1="264.11" x2="313.66" y2="268.91" stroke="#ff0000" stroke-width="0.9"/>
<line x1="323.72" y1="264.11" x2="323.72" y2="268.91" stroke="#ff0000" stroke-width="0.9"/>
<circle cx="318.57" cy="266.51" r="1.75" fill="#ff0000" stroke="none" stroke-width="0"/>
<line x1="298.45" y1="276.22" x2="305.94" y2="276.22" stroke="#000" stroke-width="0.9"/>
<line x1="298.45" y1="273.82" x2="298.45" y2="278.62" stroke="#000" stroke-width="0.9"/>
<line x1="305.94" y1="273.82" x2="305.94" y2="278.62" stroke="#000" stroke-width="0.9"/>
<circle cx="301.96" cy="276.22" r="1.75" fill="#000" stroke="none" stroke-width="0"/>
<line x1="305.47" y1="285.93" x2="315.30" y2="285.93" stroke="#000" stroke-width="0.9"/>
<line x1="305.47" y1="283.53" x2="305.47" y2="288.33" stroke="#000" stroke-width="0.9"/>
<line x1="315.30" y1="283.53" x2="315.30" y2="288.33" stroke="#000" stroke-width="0.9"/>
<circle cx="310.15" cy="285.93" r="1.75" fill="#000" stroke="none" stroke-width="0"/>
<line x1="310.15" y1="295.64" x2="320.21" y2="295.64" stroke="#000" stroke-width="0.9"/>
<line x1="310.15" y1="293.24" x2="310.15" y2="298.04" stroke="#000" stroke-width="0.9"/>
<line x1="320.21" y1="293.24" x2="320.21" y2="298.04" stroke="#000" stroke-width="0.9"/>
<circle cx="314.83" cy="295.64" r="1.75" fill="#000" stroke="none" stroke-width="0"/>
<line x1="319.04" y1="305.35" x2="328.17" y2="305.35" stroke="#ff0000" stroke-width="0.9"/>
<line x1="319.04" y1="302.95" x2="319.04" y2="307.75" stroke="#ff0000" stroke-width="0.9"/>
<line x1="328.17" y1="302.95" x2="328.17" y2="307.75" stroke="#ff0000" stroke-width="0.9"/>
<circle cx="323.49" cy="305.35" r="1.75" fill="#ff0000" stroke="none" stroke-width="0"/>
<line x1="309.68" y1="315.06" x2="315.77" y2="315.06" stroke="#ff0000" stroke-width="0.9"/>
<line x1="309.68" y1="312.66" x2="309.68" y2="317.46" stroke="#ff0000" stroke-width="0.9"/>
<line x1="315.77" y1="312.66" x2="315.77" y2="317.46" stroke="#ff0000" stroke-width="0.9"/>
<circle cx="312.49" cy="315.06" r="1.75" fill="#ff0000" stroke="none" stroke-width="0"/>
<line x1="304.77" y1="324.77" x2="315.06" y2="324.77" stroke="#000" stroke-width="0.9"/>
<line x1="304.77" y1="322.37" x2="304.77" y2="327.17" stroke="#000" stroke-width="0.9"/>
<line x1="315.06" y1="322.37" x2="315.06" y2="327.17" stroke="#000" stroke-width="0.9"/>
<circle cx="309.68" cy="324.77" r="1.75" fill="#000" stroke="none" stroke-width="0"/>
<line x1="299.85" y1="334.48" x2="307.34" y2="334.48" stroke="#000" stroke-width="0.9"/>
<line x1="299.85" y1="332.08" x2="299.85" y2="336.88" stroke="#000" stroke-width="0.9"/>
<line x1="307.34" y1="332.08" x2="307.34" y2="336.88" stroke="#000" stroke-width="0.9"/>
<circle cx="303.36" cy="334.48" r="1.75" fill="#000" stroke="none" stroke-width="0"/>
<line x1="295.88" y1="344.19" x2="299.15" y2="344.19" stroke="#ff0000" stroke-width="0.9"/>
<line x1="295.88" y1="341.79" x2="295.88" y2="346.59" stroke="#ff0000" stroke-width="0.9"/>
<line x1="299.15" y1="341.79" x2="299.15" y2="346.59" stroke="#ff0000" stroke-width="0.9"/>
<circle cx="297.51" cy="344.19" r="1.75" fill="#ff0000" stroke="none" stroke-width="0"/>
<line x1="303.13" y1="353.90" x2="312.02" y2="353.90" stroke="#000" stroke-width="0.9"/>
<line x1="303.13" y1="351.50" x2="303.13" y2="356.30" stroke="#000" stroke-width="0.9"/>
<line x1="312.02" y1="351.50" x2="312.02" y2="356.30" stroke="#000" stroke-width="0.9"/>
<circle cx="307.11" cy="353.90" r="1.75" fill="#000" stroke="none" stroke-width="0"/>
<line x1="318.81" y1="363.61" x2="333.08" y2="363.61" stroke="#ff0000" stroke-width="0.9"/>
<line x1="318.81" y1="361.21" x2="318.81" y2="366.01" stroke="#ff0000" stroke-width="0.9"/>
<line x1="333.08" y1="361.21" x2="333.08" y2="366.01" stroke="#ff0000" stroke-width="0.9"/>
<circle cx="325.83" cy="363.61" r="1.75" fill="#ff0000" stroke="none" stroke-width="0"/>
<line x1="295.17" y1="373.32" x2="305.24" y2="373.32" stroke="#000" stroke-width="0.9"/>
<line x1="295.17" y1="370.92" x2="295.17" y2="375.72" stroke="#000" stroke-width="0.9"/>
<line x1="305.24" y1="370.92" x2="305.24" y2="375.72" stroke="#000" stroke-width="0.9"/>
<circle cx="300.09" cy="373.32" r="1.75" fill="#000" stroke="none" stroke-width="0"/>
<line x1="312.26" y1="383.03" x2="325.13" y2="383.03" stroke="#ff0000" stroke-width="0.9"/>
<line x1="312.26" y1="380.63" x2="312.26" y2="385.43" stroke="#ff0000" stroke-width="0.9"/>
<line x1="325.13" y1="380.63" x2="325.13" y2="385.43" stroke="#ff0000" stroke-width="0.9"/>
<circle cx="318.57" cy="383.03" r="1.75" fill="#ff0000" stroke="none" stroke-width="0"/>
<line x1="315.30" y1="392.74" x2="340.10" y2="392.74" stroke="#000" stroke-width="0.9"/>
<line x1="315.30" y1="390.34" x2="315.30" y2="395.14" stroke="#000" stroke-width="0.9"/>
<line x1="340.10" y1="390.34" x2="340.10" y2="395.14" stroke="#000" stroke-width="0.9"/>
<circle cx="327.70" cy="392.74" r="1.75" fill="#000" stroke="none" stroke-width="0"/>
<line x1="296.58" y1="402.45" x2="304.53" y2="402.45" stroke="#000" stroke-width="0.9"/>
<line x1="296.58" y1="400.05" x2="296.58" y2="404.85" stroke="#000" stroke-width="0.9"/>
<line x1="304.53" y1="400.05" x2="304.53" y2="404.85" stroke="#000" stroke-width="0.9"/>
<circle cx="300.09" cy="402.45" r="1.75" fill="#000" stroke="none" stroke-width="0"/>
<line x1="282.54" y1="412.16" x2="294.71" y2="412.16" stroke="#ff0000" stroke-width="0.9"/>
<line x1="282.54" y1="409.76" x2="282.54" y2="414.56" stroke="#ff0000" stroke-width="0.9"/>
<line x1="294.71" y1="409.76" x2="294.71" y2="414.56" stroke="#ff0000" stroke-width="0.9"/>
<circle cx="288.39" cy="412.16" r="1.75" fill="#ff0000" stroke="none" stroke-width="0"/>
<line x1="305.47" y1="421.87" x2="313.43" y2="421.87" stroke="#000" stroke-width="0.9"/>
<line x1="305.47" y1="419.47" x2="305.47" y2="424.27" stroke="#000" stroke-width="0.9"/>
<line x1="313.43" y1="419.47" x2="313.43" y2="424.27" stroke="#000" stroke-width="0.9"/>
<circle cx="309.21" cy="421.87" r="1.75" fill="#000" stroke="none" stroke-width="0"/>
<line x1="312.49" y1="431.58" x2="320.45" y2="431.58" stroke="#ff0000" stroke-width="0.9"/>
<line x1="312.49" y1="429.18" x2="312.49" y2="433.98" stroke="#ff0000" stroke-width="0.9"/>
<line x1="320.45" y1="429.18" x2="320.45" y2="433.98" stroke="#ff0000" stroke-width="0.9"/>
<circle cx="316.23" cy="431.58" r="1.75" fill="#ff0000" stroke="none" stroke-width="0"/>
<line x1="299.85" y1="441.29" x2="310.15" y2="441.29" stroke="#000" stroke-width="0.9"/>
<line x1="299.85" y1="438.89" x2="299.85" y2="443.69" stroke="#000" stroke-width="0.9"/>
<line x1="310.15" y1="438.89" x2="310.15" y2="443.69" stroke="#000" stroke-width="0.9"/>
<circle cx="305.00" cy="441.29" r="1.75" fill="#000" stroke="none" stroke-width="0"/>
<line x1="308.75" y1="451.00" x2="319.51" y2="451.00" stroke="#000" stroke-width="0.9"/>
<line x1="308.75" y1="448.60" x2="308.75" y2="453.40" stroke="#000" stroke-width="0.9"/>
<line x1="319.51" y1="448.60" x2="319.51" y2="453.40" stroke="#000" stroke-width="0.9"/>
<circle cx="313.89" cy="451.00" r="1.75" fill="#000" stroke="none" stroke-width="0"/>
<line x1="289.56" y1="460.71" x2="298.22" y2="460.71" stroke="#ff0000" stroke-width="0.9"/>
<line x1="289.56" y1="458.31" x2="289.56" y2="463.11" stroke="#ff0000" stroke-width="0.9"/>
<line x1="298.22" y1="458.31" x2="298.22" y2="463.11" stroke="#ff0000" stroke-width="0.9"/>
<circle cx="293.77" cy="460.71" r="1.75" fill="#ff0000" stroke="none" stroke-width="0"/>
<line x1="305.94" y1="470.42" x2="315.06" y2="470.42" stroke="#000" stroke-width="0.9"/>
<line x1="305.94" y1="468.02" x2="305.94" y2="472.82" stroke="#000" stroke-width="0.9"/>
<line x1="315.06" y1="468.02" x2="315.06" y2="472.82" stroke="#000" stroke-width="0.9"/>
<circle cx="310.38" cy="470.42" r="1.75" fill="#000" stroke="none" stroke-width="0"/>
<line x1="298.68" y1="480.13" x2="305.94" y2="480.13" stroke="#000" stroke-width="0.9"/>
<line x1="298.68" y1="477.73" x2="298.68" y2="482.53" stroke="#000" stroke-width="0.9"/>
<line x1="305.94" y1="477.73" x2="305.94" y2="482.53" stroke="#000" stroke-width="0.9"/>
<circle cx="302.43" cy="480.13" r="1.75" fill="#000" stroke="none" stroke-width="0"/>
<line x1="303.36" y1="489.84" x2="310.15" y2="489.84" stroke="#000" stroke-width="0.9"/>
<line x1="303.36" y1="487.44" x2="303.36" y2="492.24" stroke="#000" stroke-width="0.9"/>
<line x1="310.15" y1="487.44" x2="310.15" y2="492.24" stroke="#000" stroke-width="0.9"/>
<circle cx="306.17" cy="489.84" r="1.75" fill="#000" stroke="none" stroke-width="0"/>
<line x1="317.40" y1="499.55" x2="328.64" y2="499.55" stroke="#ff0000" stroke-width="0.9"/>
<line x1="317.40" y1="497.15" x2="317.40" y2="501.95" stroke="#ff0000" stroke-width="0.9"/>
<line x1="328.64" y1="497.15" x2="328.64" y2="501.95" stroke="#ff0000" stroke-width="0.9"/>
<circle cx="322.79" cy="499.55" r="1.75" fill="#ff0000" stroke="none" stroke-width="0"/>
<line x1="301.73" y1="509.26" x2="311.79" y2="509.26" stroke="#000" stroke-width="0.9"/>
<line x1="301.73" y1="506.86" x2="301.73" y2="511.66" stroke="#000" stroke-width="0.9"/>
<line x1="311.79" y1="506.86" x2="311.79" y2="511.66" stroke="#000" stroke-width="0.9"/>
<circle cx="306.64" cy="509.26" r="1.75" fill="#000" stroke="none" stroke-width="0"/>
<line x1="296.81" y1="518.97" x2="303.60" y2="518.97" stroke="#000" stroke-width="0.9"/>
<line x1="296.81" y1="516.57" x2="296.81" y2="521.37" stroke="#000" stroke-width="0.9"/>
<line x1="303.60" y1="516.57" x2="303.60" y2="521.37" stroke="#000" stroke-width="0.9"/>
<circle cx="300.09" cy="518.97" r="1.75" fill="#000" stroke="none" stroke-width="0"/>
<line x1="298.22" y1="528.68" x2="310.38" y2="528.68" stroke="#000" stroke-width="0.9"/>
<line x1="298.22" y1="526.28" x2="298.22" y2="531.08" stroke="#000" stroke-width="0.9"/>
<line x1="310.38" y1="526.28" x2="310.38" y2="531.08" stroke="#000" stroke-width="0.9"/>
<circle cx="304.07" cy="528.68" r="1.75" fill="#000" stroke="none" stroke-width="0"/>
<line x1="304.07" y1="538.39" x2="319.04" y2="538.39" stroke="#000" stroke-width="0.9"/>
<line x1="304.07" y1="535.99" x2="304.07" y2="540.79" stroke="#000" stroke-width="0.9"/>
<line x1="319.04" y1="535.99" x2="319.04" y2="540.79" stroke="#000" stroke-width="0.9"/>
<circle cx="310.85" cy="538.39" r="1.75" fill="#000" stroke="none" stroke-width="0"/>
<line x1="307.81" y1="548.10" x2="314.13" y2="548.10" stroke="#ff0000" stroke-width="0.9"/>
<line x1="307.81" y1="545.70" x2="307.81" y2="550.50" stroke="#ff0000" stroke-width="0.9"/>
<line x1="314.13" y1="545.70" x2="314.13" y2="550.50" stroke="#ff0000" stroke-width="0.9"/>
<circle cx="310.38" cy="548.10" r="1.75" fill="#ff0000" stroke="none" stroke-width="0"/>
<line x1="299.85" y1="557.81" x2="305.70" y2="557.81" stroke="#000" stroke-width="0.9"/>
<line x1="299.85" y1="555.41" x2="299.85" y2="560.21" stroke="#000" stroke-width="0.9"/>
<line x1="305.70" y1="555.41" x2="305.70" y2="560.21" stroke="#000" stroke-width="0.9"/>
<circle cx="302.66" cy="557.81" r="1.75" fill="#000" stroke="none" stroke-width="0"/>
<line x1="301.26" y1="567.52" x2="309.92" y2="567.52" stroke="#000" stroke-width="0.9"/>
<line x1="301.26" y1="565.12" x2="301.26" y2="569.92" stroke="#000" stroke-width="0.9"/>
<line x1="309.92" y1="565.12" x2="309.92" y2="569.92" stroke="#000" stroke-width="0.9"/>
<circle cx="305.47" cy="567.52" r="1.75" fill="#000" stroke="none" stroke-width="0"/>
<rect x="279.50" y="56.80" width="62.50" height="516.30" fill="none" stroke="#333333" stroke-width="0.9"/>
<rect x="279.50" y="37.40" width="62.50" height="19.40" fill="#d9d9d9" stroke="#333333" stroke-width="0.9"/>
<text x="310.75" y="49.90" font-size="8.5" text-anchor="middle" fill="#1a1a1a" textLength="56.1" lengthAdjust="spacingAndGlyphs">Ribo → protein</text>
<line x1="280.90" y1="573.10" x2="280.90" y2="576.90" stroke="#333333" stroke-width="1.2"/>
<text x="280.90" y="584.90" font-size="6.4" text-anchor="middle" fill="#4d4d4d">-1</text>
<line x1="304.30" y1="573.10" x2="304.30" y2="576.90" stroke="#333333" stroke-width="1.2"/>
<text x="304.30" y="584.90" font-size="6.4" text-anchor="middle" fill="#4d4d4d">0</text>
<line x1="327.70" y1="573.10" x2="327.70" y2="576.90" stroke="#333333" stroke-width="1.2"/>
<text x="327.70" y="584.90" font-size="6.4" text-anchor="middle" fill="#4d4d4d">1</text>
<text x="275.30" y="596.00" font-size="8.2" text-anchor="middle" fill="#000">MR effect size</text>
<text x="353.90" y="9.75" font-size="10.1" text-anchor="start" fill="#000" font-weight="bold">B</text>
<text x="368.60" y="24.80" font-size="9.8" text-anchor="start" fill="#000" font-style="italic">DARS2</text>
<text x="456.10" y="39.20" font-size="7.1" text-anchor="middle" fill="#ff0000">1_173804557_A_C</text>
<line x1="399.50" y1="84.30" x2="529.00" y2="84.30" stroke="#ebebeb" stroke-width="0.9"/>
<line x1="399.50" y1="78.15" x2="529.00" y2="78.15" stroke="#ebebeb" stroke-width="0.6"/>
<line x1="399.50" y1="72.00" x2="529.00" y2="72.00" stroke="#ebebeb" stroke-width="0.9"/>
<line x1="399.50" y1="65.85" x2="529.00" y2="65.85" stroke="#ebebeb" stroke-width="0.6"/>
<line x1="399.50" y1="59.70" x2="529.00" y2="59.70" stroke="#ebebeb" stroke-width="0.9"/>
<line x1="399.50" y1="53.55" x2="529.00" y2="53.55" stroke="#ebebeb" stroke-width="0.6"/>
<path d="M402.6 85.3 L402.6 81.1 L436.0 81.1 L436.0 76.4 L463.0 76.4 L463.0 78.4 L524.2 78.4 L524.2 85.3 Z" fill="#647f88"/>
<path d="M417.7 80.9h0M419.6 80.8h0M423.6 79.3h0M405.6 80.2h0M435.4 79.7h0M407.9 82.5h0M409.0 80.5h0M417.3 80.1h0M419.3 80.6h0M435.9 79.6h0M413.1 81.9h0M428.2 81.4h0M434.6 79.5h0M433.0 81.2h0M405.0 80.7h0M405.5 81.6h0M406.5 81.9h0M429.2 82.1h0M409.0 80.4h0M406.5 81.3h0M435.0 80.2h0M409.6 81.4h0M406.0 79.7h0M428.4 81.6h0M405.6 80.9h0M415.0 81.2h0M421.8 80.0h0M432.9 80.2h0M427.3 79.8h0M432.1 80.8h0M437.0 75.1h0M442.9 75.5h0M440.7 75.1h0M451.1 75.4h0M460.8 76.5h0M448.0 77.7h0M451.4 77.5h0M462.5 76.0h0M439.8 75.1h0M454.9 73.2h0M449.0 75.7h0M438.0 76.3h0M455.9 75.8h0M445.5 75.9h0M447.3 75.6h0M452.9 76.8h0M438.2 76.0h0M455.7 76.8h0M447.9 73.2h0M436.8 76.1h0M454.9 76.4h0M442.9 77.9h0M441.5 77.4h0M447.9 75.3h0M475.1 78.6h0M516.9 78.7h0M471.3 78.4h0M506.5 77.1h0M490.6 79.1h0M501.3 78.4h0M523.1 78.4h0M516.4 79.7h0M481.9 77.1h0M490.8 79.8h0M471.6 79.7h0M501.6 77.9h0M504.9 79.3h0M463.7 78.5h0M479.7 78.9h0M500.6 77.6h0M518.5 79.6h0M471.0 78.5h0M486.1 78.2h0M520.8 78.5h0M507.2 77.5h0M476.1 77.2h0M495.9 77.5h0M515.4 77.5h0M496.7 77.6h0M512.5 79.7h0M483.5 77.5h0M494.6 77.7h0M520.9 78.4h0M476.6 78.3h0M502.1 78.3h0M482.1 78.7h0M475.7 77.4h0M498.1 79.3h0M500.0 79.8h0M487.5 77.5h0M505.3 79.7h0M521.6 77.1h0M470.8 78.6h0M492.2 78.9h0M519.6 79.5h0M474.9 79.2h0M484.7 78.0h0M470.5 78.4h0M495.5 78.6h0M495.4 79.4h0M502.1 78.3h0M515.4 79.2h0M518.2 78.9h0M476.4 76.9h0M477.6 77.7h0M513.9 78.6h0M487.7 77.3h0M504.8 77.2h0M493.9 77.6h0M439.9 69.9h0M438.9 70.1h0M444.3 67.4h0M444.5 69.4h0M439.8 69.1h0M447.8 64.7h0M448.8 69.7h0M438.3 64.9h0M443.2 66.0h0M441.6 67.6h0M443.8 67.8h0M444.9 70.2h0M446.1 65.5h0M439.8 67.7h0M446.5 68.0h0M440.0 69.3h0M443.8 70.2h0M448.4 65.7h0M446.1 65.4h0M445.2 68.0h0M444.9 67.4h0M449.5 65.7h0M440.7 65.1h0M446.6 65.9h0M447.5 68.0h0M448.4 65.3h0M446.0 65.9h0M446.9 68.0h0M446.3 69.9h0M441.7 67.6h0M437.7 68.3h0M445.3 66.7h0M450.2 62.5h0M454.4 64.0h0M454.3 63.5h0M453.1 63.9h0M457.6 63.3h0M454.7 63.0h0M457.4 64.8h0M453.9 63.0h0M450.5 63.9h0M448.5 64.4h0M451.6 64.6h0M450.4 62.6h0M453.3 63.6h0M457.3 63.5h0M457.6 63.3h0M455.8 64.7h0M453.7 63.0h0M448.4 62.6h0M449.5 63.7h0M449.6 63.6h0M453.9 64.7h0M457.1 63.8h0M451.9 68.7h0M450.8 69.1h0M452.7 68.7h0M450.3 68.5h0M450.4 69.5h0M450.0 69.5h0M449.4 68.4h0M451.0 68.2h0M453.3 69.5h0M464.1 55.6h0M455.0 55.7h0M458.6 56.7h0M463.9 57.2h0M459.5 55.7h0M461.5 56.7h0M464.0 55.9h0M460.3 57.5h0M460.5 56.7h0M456.3 57.6h0M459.5 57.5h0M458.7 56.3h0M458.8 57.2h0M460.1 56.8h0M462.0 56.6h0M464.2 55.6h0M461.6 57.2h0M455.4 55.8h0M462.1 56.3h0M457.9 57.1h0M461.1 56.5h0M460.2 56.3h0M461.8 57.3h0M456.8 55.6h0M463.4 55.8h0M454.7 57.6h0M457.0 56.8h0M460.5 57.5h0M459.7 57.6h0M455.2 56.2h0M459.8 59.0h0M458.9 59.2h0M458.1 59.4h0M460.7 58.7h0M457.4 59.8h0M461.0 59.0h0M467.7 72.4h0M466.2 72.4h0M467.9 72.2h0M467.2 71.3h0M465.7 71.9h0M467.6 71.4h0M466.2 72.2h0M464.6 71.4h0M438.1 76.0h0M451.2 75.2h0M454.5 75.6h0M456.9 76.0h0M441.8 74.9h0M438.2 75.6h0M455.6 74.8h0M443.6 75.9h0M445.7 74.8h0M445.9 76.0h0M455.2 75.1h0M460.8 74.3h0M460.7 75.3h0M457.7 75.6h0M444.6 75.4h0M461.2 74.4h0M442.7 75.5h0M445.9 75.5h0M446.7 75.4h0M441.3 75.1h0M457.5 75.1h0M458.6 75.1h0M440.8 74.7h0M459.8 75.6h0M436.6 75.2h0M450.7 75.1h0M462.1 74.9h0M457.7 76.1h0M421.0 77.6h0M405.8 80.1h0M427.3 77.3h0M405.8 78.2h0M407.7 77.8h0M424.4 79.5h0M410.3 77.7h0M420.2 77.7h0M416.0 79.2h0M435.0 78.0h0M460.9 62.9h0M460.6 70.8h0M463.8 68.6h0M463.6 69.5h0" stroke="#647f88" stroke-width="2.60" stroke-linecap="round" fill="none"/>
<line x1="463.00" y1="48.00" x2="463.00" y2="85.70" stroke="#f7a3a3" stroke-width="0.9"/>
<line x1="397.80" y1="48.00" x2="397.80" y2="85.70" stroke="#000" stroke-width="1.5"/>
<line x1="394.00" y1="84.30" x2="397.80" y2="84.30" stroke="#222" stroke-width="1.2"/>
<text x="391.00" y="86.70" font-size="6.7" text-anchor="end" fill="#4d4d4d">0</text>
<line x1="394.00" y1="72.00" x2="397.80" y2="72.00" stroke="#222" stroke-width="1.2"/>
<text x="391.00" y="74.40" font-size="6.7" text-anchor="end" fill="#4d4d4d">5</text>
<line x1="394.00" y1="59.70" x2="397.80" y2="59.70" stroke="#222" stroke-width="1.2"/>
<text x="391.00" y="62.10" font-size="6.7" text-anchor="end" fill="#4d4d4d">10</text>
<line x1="416.10" y1="85.70" x2="416.10" y2="90.00" stroke="#222" stroke-width="1.4"/>
<text x="416.10" y="97.80" font-size="6.8" text-anchor="middle" fill="#4d4d4d">173.0</text>
<line x1="445.30" y1="85.70" x2="445.30" y2="90.00" stroke="#222" stroke-width="1.4"/>
<text x="445.30" y="97.80" font-size="6.8" text-anchor="middle" fill="#4d4d4d">173.5</text>
<line x1="474.50" y1="85.70" x2="474.50" y2="90.00" stroke="#222" stroke-width="1.4"/>
<text x="474.50" y="97.80" font-size="6.8" text-anchor="middle" fill="#4d4d4d">174.0</text>
<line x1="503.70" y1="85.70" x2="503.70" y2="90.00" stroke="#222" stroke-width="1.4"/>
<text x="503.70" y="97.80" font-size="6.8" text-anchor="middle" fill="#4d4d4d">174.5</text>
<text x="375.6" y="67.60" font-size="9.6" text-anchor="middle" textLength="34.6" lengthAdjust="spacingAndGlyphs" transform="rotate(-90 375.6 67.60)">−<tspan dx="1.2">log</tspan><tspan font-size="6.6" dy="1.3">10</tspan><tspan dy="-1.3">(p)</tspan></text>
<text x="505.00" y="41.90" font-size="6.7" text-anchor="start" fill="#000" font-weight="bold">mRNA</text>
<line x1="399.50" y1="143.30" x2="529.00" y2="143.30" stroke="#ebebeb" stroke-width="0.9"/>
<line x1="399.50" y1="137.70" x2="529.00" y2="137.70" stroke="#ebebeb" stroke-width="0.6"/>
<line x1="399.50" y1="132.10" x2="529.00" y2="132.10" stroke="#ebebeb" stroke-width="0.9"/>
<line x1="399.50" y1="126.50" x2="529.00" y2="126.50" stroke="#ebebeb" stroke-width="0.6"/>
<line x1="399.50" y1="120.90" x2="529.00" y2="120.90" stroke="#ebebeb" stroke-width="0.9"/>
<line x1="399.50" y1="115.30" x2="529.00" y2="115.30" stroke="#ebebeb" stroke-width="0.6"/>
<path d="M402.6 144.3 L402.6 137.9 L408.0 137.9 L408.0 139.0 L420.0 139.0 L420.0 139.7 L436.0 139.7 L436.0 137.7 L463.0 137.7 L463.0 134.3 L468.0 134.3 L468.0 135.7 L480.0 135.7 L480.0 137.5 L524.2 137.5 L524.2 144.3 Z" fill="#647f88"/>
<path d="M405.3 137.8h0M407.5 138.1h0M407.2 137.3h0M407.8 137.6h0M417.6 139.2h0M416.9 138.1h0M410.5 139.2h0M408.7 139.4h0M417.3 138.8h0M415.0 138.0h0M410.2 139.6h0M415.1 139.6h0M410.1 138.5h0M417.8 139.1h0M434.6 140.0h0M427.7 138.4h0M432.8 139.9h0M424.4 138.7h0M420.2 139.8h0M431.4 139.5h0M425.1 140.2h0M430.2 138.7h0M422.4 137.5h0M433.5 138.5h0M431.5 140.5h0M435.3 139.5h0M432.6 139.9h0M433.2 140.3h0M440.3 137.0h0M438.1 138.1h0M445.7 137.3h0M448.5 136.8h0M436.3 137.9h0M451.2 135.8h0M457.6 138.3h0M446.2 137.6h0M446.6 137.4h0M455.7 138.0h0M455.5 138.0h0M439.8 138.5h0M440.9 137.9h0M438.4 138.3h0M447.0 138.6h0M449.8 137.4h0M446.4 138.0h0M446.8 137.3h0M453.8 136.8h0M445.2 137.4h0M449.8 137.1h0M440.3 137.2h0M445.5 137.7h0M462.6 137.7h0M464.0 133.4h0M463.4 134.9h0M464.6 133.5h0M463.6 133.4h0M474.5 135.6h0M478.9 134.7h0M469.5 135.0h0M470.9 135.5h0M474.6 136.2h0M479.8 134.8h0M476.1 135.2h0M477.6 136.7h0M469.7 135.9h0M474.2 136.2h0M508.4 138.4h0M522.4 137.3h0M507.6 137.1h0M501.5 136.5h0M498.1 137.6h0M503.2 137.4h0M494.2 138.4h0M512.4 137.3h0M506.2 138.3h0M502.2 136.3h0M503.3 138.0h0M490.4 138.3h0M509.4 136.7h0M489.8 137.0h0M484.4 136.9h0M522.0 138.5h0M494.4 138.4h0M497.6 137.8h0M481.4 136.7h0M521.3 136.5h0M493.1 136.6h0M517.0 137.8h0M518.9 136.5h0M488.5 136.5h0M512.1 137.9h0M511.5 138.2h0M499.7 138.3h0M511.4 138.1h0M509.4 136.9h0M519.1 137.3h0M521.0 137.1h0M484.0 136.5h0M503.5 138.4h0M491.1 136.3h0M513.4 138.0h0M488.2 136.7h0M500.4 137.0h0M502.1 138.1h0M495.9 137.2h0M443.7 132.3h0M445.7 133.3h0M448.8 134.3h0M446.8 134.3h0M444.9 134.1h0M443.0 132.5h0M446.9 132.5h0M440.7 133.4h0M440.5 133.1h0M443.6 134.7h0M444.7 132.7h0M444.5 132.2h0M440.0 134.3h0M438.2 133.3h0M442.9 133.5h0M441.0 132.5h0M438.8 132.1h0M444.4 133.2h0M446.9 134.1h0M439.7 133.9h0M438.5 133.9h0M445.0 133.3h0M441.0 133.1h0M439.0 132.4h0M439.9 134.0h0M451.2 129.2h0M460.6 128.9h0M449.9 130.3h0M454.1 131.1h0M462.6 131.7h0M455.9 129.0h0M462.8 131.3h0M455.4 129.0h0M449.5 131.0h0M461.5 131.3h0M454.5 130.7h0M454.9 131.6h0M449.5 128.1h0M459.7 129.1h0M452.2 130.9h0M456.7 131.0h0M455.5 128.3h0M454.1 130.6h0M462.7 129.5h0M449.6 130.3h0M458.1 131.7h0M453.8 129.2h0M461.1 129.6h0M461.4 130.1h0M454.5 128.7h0M457.7 123.4h0M456.1 124.4h0M455.8 123.9h0M455.6 124.7h0M456.1 124.1h0M457.0 124.2h0M463.5 123.6h0M462.3 124.7h0M457.7 125.0h0M460.6 124.3h0M456.6 125.1h0M455.7 124.6h0M457.8 123.1h0M460.9 124.6h0M457.5 124.8h0M463.0 124.4h0M461.4 123.5h0M462.7 125.1h0M457.1 124.3h0M454.8 123.2h0M457.1 123.4h0M459.0 125.0h0M457.8 124.6h0M454.4 124.8h0M459.7 125.1h0M457.0 124.2h0M459.2 124.9h0M460.8 124.6h0M461.0 123.7h0M455.4 124.7h0M463.8 128.6h0M464.2 130.2h0M465.6 131.0h0M463.9 130.4h0M463.6 131.9h0M463.1 129.0h0M464.7 128.1h0M465.9 130.6h0M454.1 135.0h0M441.8 135.5h0M454.0 134.9h0M459.4 136.5h0M453.1 136.8h0M447.5 136.1h0M437.6 136.2h0M444.9 135.9h0M443.6 136.7h0M446.9 136.0h0M440.5 135.5h0M442.5 136.8h0M445.2 136.1h0M440.1 135.7h0M454.9 135.8h0M454.9 137.0h0M446.6 136.2h0M437.7 136.1h0M437.5 135.9h0M451.8 136.0h0M421.0 135.7h0" stroke="#647f88" stroke-width="2.60" stroke-linecap="round" fill="none"/>
<line x1="463.00" y1="110.00" x2="463.00" y2="144.60" stroke="#f7a3a3" stroke-width="0.9"/>
<line x1="397.80" y1="110.00" x2="397.80" y2="144.60" stroke="#000" stroke-width="1.5"/>
<line x1="394.00" y1="143.30" x2="397.80" y2="143.30" stroke="#222" stroke-width="1.2"/>
<text x="391.00" y="145.70" font-size="6.7" text-anchor="end" fill="#4d4d4d">0</text>
<line x1="394.00" y1="132.10" x2="397.80" y2="132.10" stroke="#222" stroke-width="1.2"/>
<text x="391.00" y="134.50" font-size="6.7" text-anchor="end" fill="#4d4d4d">5</text>
<line x1="394.00" y1="120.90" x2="397.80" y2="120.90" stroke="#222" stroke-width="1.2"/>
<text x="391.00" y="123.30" font-size="6.7" text-anchor="end" fill="#4d4d4d">10</text>
<line x1="416.10" y1="144.60" x2="416.10" y2="148.90" stroke="#222" stroke-width="1.4"/>
<text x="416.10" y="156.50" font-size="6.8" text-anchor="middle" fill="#4d4d4d">173.0</text>
<line x1="445.30" y1="144.60" x2="445.30" y2="148.90" stroke="#222" stroke-width="1.4"/>
<text x="445.30" y="156.50" font-size="6.8" text-anchor="middle" fill="#4d4d4d">173.5</text>
<line x1="474.50" y1="144.60" x2="474.50" y2="148.90" stroke="#222" stroke-width="1.4"/>
<text x="474.50" y="156.50" font-size="6.8" text-anchor="middle" fill="#4d4d4d">174.0</text>
<line x1="503.70" y1="144.60" x2="503.70" y2="148.90" stroke="#222" stroke-width="1.4"/>
<text x="503.70" y="156.50" font-size="6.8" text-anchor="middle" fill="#4d4d4d">174.5</text>
<text x="375.6" y="128.05" font-size="9.6" text-anchor="middle" textLength="34.6" lengthAdjust="spacingAndGlyphs" transform="rotate(-90 375.6 128.05)">−<tspan dx="1.2">log</tspan><tspan font-size="6.6" dy="1.3">10</tspan><tspan dy="-1.3">(p)</tspan></text>
<text x="505.60" y="118.00" font-size="6.7" text-anchor="start" fill="#000" font-weight="bold">Ribo</text>
<line x1="399.50" y1="201.80" x2="529.00" y2="201.80" stroke="#ebebeb" stroke-width="0.9"/>
<line x1="399.50" y1="196.20" x2="529.00" y2="196.20" stroke="#ebebeb" stroke-width="0.6"/>
<line x1="399.50" y1="190.60" x2="529.00" y2="190.60" stroke="#ebebeb" stroke-width="0.9"/>
<line x1="399.50" y1="185.00" x2="529.00" y2="185.00" stroke="#ebebeb" stroke-width="0.6"/>
<line x1="399.50" y1="179.40" x2="529.00" y2="179.40" stroke="#ebebeb" stroke-width="0.9"/>
<line x1="399.50" y1="173.80" x2="529.00" y2="173.80" stroke="#ebebeb" stroke-width="0.6"/>
<path d="M402.6 202.8 L402.6 197.8 L408.0 197.8 L408.0 199.3 L411.0 199.3 L411.0 196.2 L425.0 196.2 L425.0 197.3 L436.0 197.3 L436.0 194.4 L463.0 194.4 L463.0 191.5 L469.0 191.5 L469.0 193.1 L524.2 193.1 L524.2 202.8 Z" fill="#647f88"/>
<path d="M404.4 197.5h0M407.4 197.6h0M403.6 197.9h0M404.6 197.6h0M409.9 199.0h0M408.8 198.5h0M423.7 197.4h0M415.3 196.6h0M413.7 196.9h0M411.0 196.1h0M417.9 195.8h0M418.9 195.3h0M415.9 195.2h0M420.7 195.7h0M413.2 195.9h0M416.2 196.8h0M414.3 196.9h0M418.2 197.0h0M426.1 196.8h0M433.5 197.4h0M434.6 198.5h0M433.8 197.6h0M432.9 197.8h0M434.3 196.4h0M432.8 197.0h0M426.4 197.7h0M427.0 198.6h0M462.2 195.4h0M453.0 194.7h0M437.3 193.8h0M443.7 193.8h0M444.9 195.7h0M446.1 194.9h0M443.7 194.7h0M462.5 194.7h0M457.6 195.4h0M461.2 195.1h0M444.7 195.7h0M452.9 195.0h0M445.9 194.9h0M460.1 194.4h0M449.1 193.1h0M449.1 194.6h0M437.6 194.3h0M443.5 193.2h0M448.0 193.5h0M436.7 195.3h0M445.7 193.7h0M436.3 195.2h0M450.2 193.6h0M446.8 193.6h0M468.9 192.6h0M467.2 192.2h0M466.5 192.2h0M466.9 190.7h0M465.1 192.1h0M474.2 193.5h0M510.0 192.9h0M474.8 194.0h0M469.5 193.1h0M498.7 191.8h0M486.7 192.4h0M492.7 191.8h0M508.0 193.9h0M521.3 193.5h0M523.6 194.0h0M504.5 193.8h0M516.3 192.7h0M475.3 192.2h0M505.7 193.3h0M502.2 192.9h0M503.6 193.2h0M520.4 194.0h0M509.7 193.6h0M491.2 192.1h0M496.1 193.8h0M520.8 192.2h0M523.9 194.2h0M482.8 192.2h0M516.8 193.9h0M473.1 192.9h0M482.3 192.3h0M499.3 192.0h0M489.2 193.2h0M516.7 192.2h0M490.5 192.1h0M473.0 191.8h0M517.4 192.5h0M492.8 194.4h0M503.8 193.7h0M479.0 194.1h0M476.1 194.1h0M488.7 193.9h0M509.6 193.4h0M477.1 192.7h0M491.6 193.2h0M488.1 192.5h0M484.7 192.1h0M506.4 193.2h0M510.0 192.8h0M492.1 193.7h0M485.2 192.5h0M491.7 194.1h0M492.2 193.5h0M501.6 190.5h0M438.1 189.3h0M441.9 188.0h0M445.7 189.4h0M448.7 187.2h0M437.3 188.3h0M443.1 189.3h0M443.0 189.5h0M445.7 188.4h0M449.6 187.1h0M449.9 189.2h0M447.8 188.3h0M446.1 187.0h0M437.9 188.9h0M442.2 188.2h0M439.8 187.1h0M439.7 189.3h0M438.9 189.2h0M446.6 190.3h0M439.2 188.3h0M445.1 187.9h0M440.3 187.7h0M446.5 187.8h0M438.6 188.9h0M437.2 187.5h0M449.3 187.4h0M437.3 189.3h0M444.0 188.7h0M438.4 187.8h0M440.9 188.8h0M438.6 188.6h0M450.8 192.4h0M456.2 191.5h0M459.9 191.7h0M454.8 192.6h0M452.0 190.8h0M456.8 190.8h0M460.9 192.4h0M460.9 192.1h0M462.6 190.5h0M454.7 190.1h0M461.1 188.5h0M454.8 192.8h0M451.2 189.2h0M459.3 189.6h0M451.2 190.5h0M449.4 192.3h0M453.2 188.5h0M458.0 189.0h0M449.6 191.0h0M450.1 191.7h0M455.0 170.6h0M457.0 173.7h0M459.9 170.8h0M462.5 173.1h0M458.5 170.7h0M457.6 175.0h0M460.7 175.3h0M457.3 174.1h0M458.3 174.6h0M457.9 173.9h0M454.4 171.2h0M454.6 173.4h0M458.9 174.3h0M456.0 176.4h0M457.3 174.9h0M458.4 175.5h0M460.7 173.7h0M454.1 174.2h0M462.7 177.1h0M459.3 170.3h0M457.3 172.9h0M457.3 175.0h0M459.5 172.9h0M456.8 173.6h0M458.6 171.8h0M454.5 176.5h0M456.3 175.2h0M461.2 174.1h0M461.7 174.3h0M456.6 172.3h0M454.8 170.1h0M461.5 174.8h0M456.9 171.3h0M461.1 172.6h0M454.5 171.7h0M454.4 179.2h0M459.0 177.6h0M459.7 182.4h0M462.4 178.5h0M459.2 182.5h0M460.6 180.3h0M460.1 177.2h0M462.3 182.1h0M466.9 187.1h0M466.8 187.4h0M465.2 187.1h0M463.6 187.8h0M466.7 189.1h0M463.6 185.0h0M466.3 186.5h0M463.6 188.8h0M464.6 184.4h0M465.8 184.5h0M441.7 192.8h0M450.5 191.9h0M439.3 191.8h0M448.8 193.7h0M447.7 192.9h0M454.2 191.7h0M449.3 192.2h0M446.5 192.0h0M438.8 192.1h0M440.5 192.4h0M441.5 193.0h0M440.4 193.0h0M452.0 192.6h0M446.5 192.4h0M458.7 192.9h0M451.8 192.7h0M462.5 193.0h0M454.8 193.2h0M443.1 192.1h0M451.5 193.2h0M451.5 181.6h0" stroke="#647f88" stroke-width="2.60" stroke-linecap="round" fill="none"/>
<line x1="463.00" y1="169.00" x2="463.00" y2="203.30" stroke="#f7a3a3" stroke-width="0.9"/>
<line x1="397.80" y1="169.00" x2="397.80" y2="203.30" stroke="#000" stroke-width="1.5"/>
<line x1="394.00" y1="201.80" x2="397.80" y2="201.80" stroke="#222" stroke-width="1.2"/>
<text x="391.00" y="204.20" font-size="6.7" text-anchor="end" fill="#4d4d4d">0</text>
<line x1="394.00" y1="190.60" x2="397.80" y2="190.60" stroke="#222" stroke-width="1.2"/>
<text x="391.00" y="193.00" font-size="6.7" text-anchor="end" fill="#4d4d4d">5</text>
<line x1="394.00" y1="179.40" x2="397.80" y2="179.40" stroke="#222" stroke-width="1.2"/>
<text x="391.00" y="181.80" font-size="6.7" text-anchor="end" fill="#4d4d4d">10</text>
<line x1="416.10" y1="203.30" x2="416.10" y2="207.60" stroke="#222" stroke-width="1.4"/>
<text x="416.10" y="215.00" font-size="6.8" text-anchor="middle" fill="#4d4d4d">173.0</text>
<line x1="445.30" y1="203.30" x2="445.30" y2="207.60" stroke="#222" stroke-width="1.4"/>
<text x="445.30" y="215.00" font-size="6.8" text-anchor="middle" fill="#4d4d4d">173.5</text>
<line x1="474.50" y1="203.30" x2="474.50" y2="207.60" stroke="#222" stroke-width="1.4"/>
<text x="474.50" y="215.00" font-size="6.8" text-anchor="middle" fill="#4d4d4d">174.0</text>
<line x1="503.70" y1="203.30" x2="503.70" y2="207.60" stroke="#222" stroke-width="1.4"/>
<text x="503.70" y="215.00" font-size="6.8" text-anchor="middle" fill="#4d4d4d">174.5</text>
<text x="375.6" y="186.90" font-size="9.6" text-anchor="middle" textLength="34.6" lengthAdjust="spacingAndGlyphs" transform="rotate(-90 375.6 186.90)">−<tspan dx="1.2">log</tspan><tspan font-size="6.6" dy="1.3">10</tspan><tspan dy="-1.3">(p)</tspan></text>
<text x="503.40" y="176.30" font-size="6.7" text-anchor="start" fill="#000" font-weight="bold">Protein</text>
<line x1="399.50" y1="260.60" x2="529.00" y2="260.60" stroke="#ebebeb" stroke-width="0.9"/>
<line x1="399.50" y1="254.90" x2="529.00" y2="254.90" stroke="#ebebeb" stroke-width="0.6"/>
<line x1="399.50" y1="249.20" x2="529.00" y2="249.20" stroke="#ebebeb" stroke-width="0.9"/>
<line x1="399.50" y1="243.50" x2="529.00" y2="243.50" stroke="#ebebeb" stroke-width="0.6"/>
<line x1="399.50" y1="237.80" x2="529.00" y2="237.80" stroke="#ebebeb" stroke-width="0.9"/>
<line x1="399.50" y1="232.10" x2="529.00" y2="232.10" stroke="#ebebeb" stroke-width="0.6"/>
<path d="M402.6 261.6 L402.6 257.4 L420.0 257.4 L420.0 255.6 L436.0 255.6 L436.0 254.7 L447.0 254.7 L447.0 253.8 L463.0 253.8 L463.0 252.8 L524.2 252.8 L524.2 261.6 Z" fill="#647f88"/>
<path d="M403.7 256.5h0M410.1 257.1h0M418.4 257.5h0M415.7 258.5h0M403.2 256.9h0M408.4 258.4h0M416.6 258.5h0M406.1 257.3h0M415.9 257.2h0M414.6 257.8h0M407.7 256.4h0M406.9 258.7h0M407.7 258.1h0M407.3 258.0h0M417.8 258.3h0M429.8 255.5h0M430.6 254.4h0M420.9 254.4h0M423.7 255.7h0M435.1 255.6h0M423.7 254.4h0M430.5 256.8h0M429.0 256.6h0M434.0 256.8h0M420.5 255.4h0M433.7 254.8h0M428.4 256.4h0M428.0 256.4h0M427.8 256.7h0M446.7 254.5h0M439.7 254.1h0M446.4 253.5h0M436.2 254.7h0M442.7 254.4h0M441.7 253.1h0M445.6 253.3h0M445.1 254.2h0M444.3 253.6h0M459.7 252.5h0M452.4 252.1h0M451.2 253.5h0M457.8 253.9h0M449.8 254.7h0M459.5 254.2h0M451.2 253.7h0M450.0 254.5h0M458.6 253.3h0M448.3 253.0h0M453.6 252.4h0M461.6 252.4h0M459.6 253.0h0M453.1 254.3h0M492.1 250.6h0M486.3 254.0h0M475.6 251.8h0M483.9 251.7h0M520.9 253.7h0M517.0 252.2h0M485.8 253.9h0M467.4 253.7h0M481.8 253.7h0M496.1 252.7h0M521.0 254.0h0M481.9 252.1h0M472.8 253.3h0M511.5 251.6h0M514.8 252.9h0M522.8 254.1h0M466.2 253.8h0M475.9 254.2h0M493.5 252.4h0M463.9 252.7h0M500.9 253.2h0M482.4 253.2h0M488.5 252.7h0M518.9 253.6h0M517.0 253.8h0M480.7 253.7h0M498.7 253.8h0M468.9 252.3h0M493.4 251.7h0M463.1 252.9h0M501.7 251.6h0M492.5 252.5h0M490.1 254.0h0M513.7 252.0h0M493.8 253.0h0M493.0 252.9h0M493.8 253.3h0M514.0 252.0h0M504.9 252.0h0M512.0 253.7h0M477.9 250.3h0M484.0 252.0h0M520.1 250.6h0M469.7 251.5h0M474.4 252.3h0M501.1 253.9h0M516.1 252.1h0M497.8 251.6h0M486.5 252.8h0M511.7 253.6h0M505.5 252.8h0M474.5 252.4h0M483.2 251.7h0M521.3 252.5h0M483.4 253.5h0M436.4 246.8h0M441.9 249.0h0M444.2 250.3h0M438.2 248.4h0M438.7 249.8h0M436.8 251.4h0M439.9 248.7h0M446.4 248.1h0M440.6 249.4h0M438.6 249.0h0M446.5 251.0h0M440.8 247.8h0M444.4 248.5h0M443.1 246.4h0M445.9 250.3h0M442.0 246.0h0M441.8 250.6h0M444.4 251.4h0M437.7 248.6h0M439.0 247.6h0M444.0 249.9h0M444.4 248.0h0M443.8 249.1h0M440.8 251.1h0M441.2 246.3h0M445.8 251.4h0M436.8 250.2h0M443.6 249.2h0M437.4 249.3h0M442.3 247.5h0M453.7 242.5h0M458.0 242.7h0M448.1 242.1h0M449.4 246.5h0M454.8 246.8h0M448.5 244.2h0M454.7 246.2h0M462.3 241.1h0M455.0 242.9h0M452.3 240.2h0M449.3 244.8h0M450.8 241.0h0M455.3 244.1h0M453.6 240.9h0M451.4 241.5h0M458.4 243.9h0M453.1 243.9h0M454.5 244.8h0M457.1 244.1h0M452.1 241.6h0M454.5 243.7h0M461.1 243.8h0M453.3 240.8h0M462.6 241.5h0M453.7 242.3h0M459.0 244.9h0M458.7 240.4h0M457.6 242.3h0M454.2 242.5h0M450.9 241.7h0M455.8 240.2h0M452.7 242.1h0M447.7 244.1h0M459.4 245.1h0M457.0 245.4h0M453.6 240.1h0M450.5 240.7h0M448.3 242.9h0M460.2 241.2h0M453.5 242.9h0M458.5 241.7h0M459.0 243.0h0M451.3 242.1h0M456.2 243.2h0M462.8 246.0h0M480.4 241.7h0M479.9 240.8h0M475.6 241.4h0M478.0 241.5h0M474.6 241.3h0M481.5 241.2h0M475.7 241.0h0M477.0 241.9h0M478.8 241.5h0M478.0 240.8h0M478.4 240.8h0M476.3 241.1h0" stroke="#647f88" stroke-width="2.60" stroke-linecap="round" fill="none"/>
<path d="M448.8 240.7h0M457.9 240.4h0M451.6 240.7h0M448.0 240.5h0M450.1 240.7h0M461.6 241.9h0M449.6 241.0h0M458.8 241.5h0M458.4 241.7h0M461.0 241.8h0M458.6 241.3h0M450.6 240.4h0M454.2 240.0h0M456.5 240.0h0M450.5 240.2h0M462.4 241.8h0M454.4 240.0h0M457.7 241.5h0M458.7 241.5h0M460.8 241.8h0M450.5 240.1h0M458.5 241.7h0M455.3 240.5h0M448.6 240.6h0M456.2 240.2h0M449.2 241.1h0M450.3 240.8h0M458.1 241.3h0M451.7 240.3h0M452.7 240.9h0M459.8 245.8h0M490.7 247.2h0M515.7 248.5h0M462.4 243.3h0M494.9 246.6h0M479.9 246.0h0M480.5 245.9h0M484.4 245.4h0M458.2 246.0h0M450.5 244.7h0M461.4 245.2h0M515.3 248.0h0M506.9 248.0h0M486.8 245.3h0M519.1 247.3h0M459.4 243.5h0M482.1 246.4h0M481.6 244.7h0M523.3 249.1h0M468.3 244.4h0M487.4 245.3h0M508.7 247.8h0M456.7 245.2h0M500.6 248.1h0M485.3 246.6h0M495.5 248.2h0M498.4 248.0h0M509.0 248.4h0M487.2 247.3h0M460.2 243.8h0M507.8 249.1h0M511.5 249.2h0M450.2 246.3h0M521.5 248.5h0M514.6 249.3h0M493.4 245.8h0M487.9 246.7h0M459.3 244.1h0M479.2 244.6h0M460.9 243.4h0M451.5 246.2h0M461.4 243.6h0M523.0 247.5h0M468.1 244.1h0M451.4 245.4h0M483.2 247.2h0M522.9 248.2h0M455.6 244.9h0M456.6 245.0h0M508.7 247.9h0M456.5 244.4h0M516.4 249.6h0M476.8 244.6h0M507.3 247.3h0M450.8 244.6h0M455.3 246.3h0M516.9 248.6h0M451.1 244.6h0M519.1 249.3h0M460.7 245.2h0M457.1 244.6h0M456.0 245.0h0M455.3 245.0h0M468.1 244.8h0M493.6 247.7h0M449.5 244.6h0M469.4 244.6h0M454.8 245.5h0M467.4 244.0h0M450.5 246.0h0M507.7 247.2h0M519.8 248.9h0M515.7 247.8h0M523.3 247.3h0M466.4 244.2h0M518.9 248.1h0M524.1 247.0h0M521.8 248.9h0M488.0 247.3h0M451.4 245.1h0M462.3 244.0h0M475.1 244.4h0M460.2 244.9h0M456.7 244.1h0M486.3 246.7h0M448.9 246.8h0M460.7 243.3h0M451.5 244.8h0M478.5 245.0h0M520.3 248.3h0M469.8 245.3h0M475.9 245.0h0M510.2 247.0h0M493.5 247.7h0M471.5 245.8h0M489.1 246.0h0M451.0 246.4h0M476.0 244.6h0M485.6 245.3h0M453.3 244.9h0M458.3 245.9h0M451.3 245.3h0M492.3 246.0h0M454.3 244.8h0M517.8 248.2h0M517.1 247.9h0M461.2 243.7h0M476.8 246.7h0M460.1 244.3h0M480.9 247.0h0M493.3 246.3h0M511.3 248.8h0M480.6 245.1h0M519.6 248.2h0M478.4 245.9h0M450.5 245.7h0M500.7 248.3h0M472.4 244.8h0M474.2 245.8h0M517.5 249.0h0M517.5 248.3h0M455.0 244.2h0M451.4 244.9h0M474.0 245.0h0M520.2 248.5h0M509.8 249.1h0M498.6 247.3h0M510.7 249.0h0M492.2 246.8h0M519.7 248.9h0M452.5 244.3h0M494.4 247.4h0M518.3 247.5h0M480.5 246.7h0M521.1 247.1h0M485.9 246.7h0M506.8 247.3h0M472.1 244.5h0M475.9 246.4h0M456.1 244.3h0M497.2 247.5h0M456.5 243.9h0M454.5 244.7h0M493.7 246.2h0M517.2 247.2h0M497.7 247.5h0M466.2 244.1h0M465.2 243.5h0M500.7 246.6h0M496.9 247.8h0M453.6 244.5h0M461.3 244.7h0M455.4 244.8h0M452.8 245.9h0M458.3 243.8h0M477.1 246.3h0M472.5 245.6h0M450.6 245.1h0M462.3 245.0h0M452.4 244.6h0M449.7 245.6h0M462.3 245.4h0M464.9 243.2h0M519.9 247.2h0M453.9 244.4h0M486.5 247.3h0M471.4 245.8h0M489.8 245.5h0M508.2 247.6h0M509.7 247.7h0M483.6 246.3h0M504.3 247.2h0M510.6 247.4h0M454.8 246.3h0M521.7 248.5h0M476.2 245.3h0M510.4 248.6h0M512.4 249.6h0M452.5 244.3h0M460.3 243.9h0M500.0 247.6h0M457.3 245.0h0M500.4 248.4h0M457.4 244.8h0M449.5 244.3h0M468.1 245.5h0M523.0 248.7h0M513.3 247.3h0M453.8 246.1h0M518.6 247.2h0M454.1 245.6h0M498.1 246.6h0M473.5 245.3h0M466.9 244.6h0M504.1 248.1h0M455.0 246.3h0M465.2 245.6h0M472.8 244.0h0M450.1 245.9h0M462.2 245.2h0M515.0 248.8h0M453.7 246.5h0M459.0 244.2h0M452.3 246.1h0M509.0 247.5h0M475.1 245.7h0M511.7 248.8h0M520.1 247.9h0M521.1 248.9h0M457.0 244.1h0M462.1 244.5h0M501.7 248.2h0M516.3 248.4h0M460.9 245.0h0M521.2 247.8h0M452.2 246.0h0M463.3 244.9h0M451.2 245.6h0M469.6 244.7h0M449.5 245.1h0M478.9 246.0h0M451.0 245.9h0M453.8 246.4h0M449.7 244.5h0M473.8 245.2h0M453.3 244.6h0M479.6 246.1h0M480.7 245.1h0M518.4 247.7h0M476.2 245.3h0M483.4 245.2h0M451.3 244.8h0M491.4 245.7h0M477.9 245.9h0M455.6 244.9h0M508.1 248.0h0M461.4 243.4h0M458.8 244.2h0M509.5 248.7h0M503.4 247.1h0M520.0 248.0h0M477.5 246.0h0M517.4 247.2h0M474.6 245.8h0M453.5 245.7h0M477.3 245.7h0M521.2 247.0h0M514.3 249.2h0M476.0 245.0h0M464.5 243.1h0M449.5 246.5h0M505.3 247.0h0M459.2 245.4h0M518.1 248.8h0M522.4 246.8h0M477.5 244.9h0M481.1 246.4h0M499.6 247.8h0M454.9 244.0h0M459.0 243.6h0" stroke="#647f88" stroke-width="2.60" stroke-linecap="round" fill="none"/>
<line x1="463.00" y1="228.00" x2="463.00" y2="261.50" stroke="#f7a3a3" stroke-width="0.9"/>
<line x1="397.80" y1="228.00" x2="397.80" y2="261.50" stroke="#000" stroke-width="1.5"/>
<line x1="394.00" y1="260.60" x2="397.80" y2="260.60" stroke="#222" stroke-width="1.2"/>
<text x="391.00" y="263.00" font-size="6.7" text-anchor="end" fill="#4d4d4d">0</text>
<line x1="394.00" y1="249.20" x2="397.80" y2="249.20" stroke="#222" stroke-width="1.2"/>
<text x="391.00" y="251.60" font-size="6.7" text-anchor="end" fill="#4d4d4d">5</text>
<line x1="394.00" y1="237.80" x2="397.80" y2="237.80" stroke="#222" stroke-width="1.2"/>
<text x="391.00" y="240.20" font-size="6.7" text-anchor="end" fill="#4d4d4d">10</text>
<line x1="416.10" y1="261.50" x2="416.10" y2="265.80" stroke="#222" stroke-width="1.4"/>
<text x="416.10" y="273.80" font-size="6.8" text-anchor="middle" fill="#4d4d4d">173.0</text>
<line x1="445.30" y1="261.50" x2="445.30" y2="265.80" stroke="#222" stroke-width="1.4"/>
<text x="445.30" y="273.80" font-size="6.8" text-anchor="middle" fill="#4d4d4d">173.5</text>
<line x1="474.50" y1="261.50" x2="474.50" y2="265.80" stroke="#222" stroke-width="1.4"/>
<text x="474.50" y="273.80" font-size="6.8" text-anchor="middle" fill="#4d4d4d">174.0</text>
<line x1="503.70" y1="261.50" x2="503.70" y2="265.80" stroke="#222" stroke-width="1.4"/>
<text x="503.70" y="273.80" font-size="6.8" text-anchor="middle" fill="#4d4d4d">174.5</text>
<text x="375.6" y="245.50" font-size="9.6" text-anchor="middle" textLength="34.6" lengthAdjust="spacingAndGlyphs" transform="rotate(-90 375.6 245.50)">−<tspan dx="1.2">log</tspan><tspan font-size="6.6" dy="1.3">10</tspan><tspan dy="-1.3">(p)</tspan></text>
<text x="501.90" y="234.90" font-size="6.7" text-anchor="start" fill="#000" font-weight="bold">SCZ GWAS</text>
<line x1="569.30" y1="52.40" x2="569.30" y2="127.60" stroke="#000" stroke-width="1.4"/>
<line x1="568.60" y1="127.00" x2="675.70" y2="127.00" stroke="#000" stroke-width="1.4"/>
<line x1="564.90" y1="67.00" x2="569.30" y2="67.00" stroke="#111" stroke-width="1.3"/>
<text x="562.00" y="69.40" font-size="6.7" text-anchor="end" fill="#4d4d4d">2</text>
<line x1="564.90" y1="87.10" x2="569.30" y2="87.10" stroke="#111" stroke-width="1.3"/>
<text x="562.00" y="89.50" font-size="6.7" text-anchor="end" fill="#4d4d4d">0</text>
<line x1="564.90" y1="107.20" x2="569.30" y2="107.20" stroke="#111" stroke-width="1.3"/>
<text x="562.00" y="109.60" font-size="6.7" text-anchor="end" fill="#4d4d4d">-2</text>
<line x1="589.00" y1="127.00" x2="589.00" y2="130.80" stroke="#111" stroke-width="1.3"/>
<text x="589.00" y="139.40" font-size="6.9" text-anchor="middle" fill="#222">mRNA</text>
<line x1="622.30" y1="127.00" x2="622.30" y2="130.80" stroke="#111" stroke-width="1.3"/>
<text x="622.30" y="139.40" font-size="6.9" text-anchor="middle" fill="#222">Ribo</text>
<line x1="655.60" y1="127.00" x2="655.60" y2="130.80" stroke="#111" stroke-width="1.3"/>
<text x="655.60" y="139.40" font-size="6.9" text-anchor="middle" fill="#222">Protein</text>
<text x="548.70" y="90.50" font-size="8.5" text-anchor="middle" fill="#000" transform="rotate(-90 548.70 90.50)">Gene expression</text>
<path d="M581.2 90.8h0M579.0 70.9h0M578.9 90.2h0M580.2 90.6h0M581.7 70.9h0M580.7 88.3h0M579.0 75.9h0M580.9 90.8h0M580.1 78.1h0M580.4 84.2h0M579.9 60.1h0M579.4 69.4h0M581.5 89.1h0M580.6 97.7h0M580.6 84.9h0M579.0 74.1h0M581.5 93.5h0M580.6 86.7h0M581.7 96.1h0M580.6 60.5h0M581.3 79.6h0M581.2 82.5h0M581.7 83.5h0M581.7 90.6h0M579.9 97.6h0M579.8 73.6h0M579.9 72.9h0M579.0 88.9h0M579.1 76.5h0M579.8 71.2h0M579.3 89.2h0M578.8 69.4h0M579.6 97.5h0M579.5 81.9h0M579.8 62.6h0M581.1 94.1h0M581.0 70.7h0M581.0 65.4h0M581.7 74.7h0M580.6 88.2h0M579.2 91.0h0M581.7 77.2h0M580.8 62.8h0M579.7 69.1h0M579.7 82.6h0M581.4 101.7h0M579.5 70.3h0M579.0 91.2h0M579.1 99.7h0M580.3 88.2h0M578.9 93.2h0M580.1 86.6h0M578.9 89.3h0M580.8 98.8h0M580.9 90.2h0M580.5 92.3h0M579.6 82.0h0M579.8 97.2h0M579.9 75.1h0M581.6 60.0h0M578.9 92.8h0M580.6 62.0h0M581.6 81.9h0M579.4 69.7h0M580.2 61.1h0M581.6 75.4h0M580.3 94.6h0M580.6 61.1h0M579.4 93.9h0M581.2 86.6h0M581.7 83.1h0M581.5 87.3h0M579.9 62.1h0M578.9 88.6h0M579.8 85.5h0M579.4 74.9h0M580.7 85.8h0M578.9 82.3h0M579.5 93.8h0M581.1 83.3h0M580.4 83.2h0M581.6 90.4h0M580.2 83.8h0M579.0 83.1h0M580.0 87.8h0M581.6 65.0h0M581.7 88.4h0M581.6 90.4h0M579.1 60.1h0M580.6 93.6h0M580.7 64.7h0M580.5 65.5h0M581.2 78.0h0M579.2 87.1h0M581.4 61.1h0M581.2 87.8h0M581.3 98.2h0M579.8 84.8h0M580.2 92.0h0M579.6 78.2h0M580.2 59.9h0M580.6 101.9h0M580.7 55.2h0" stroke="#364f59" stroke-width="2.00" stroke-linecap="round" fill="none"/>
<line x1="580.25" y1="59.90" x2="580.25" y2="77.40" stroke="#364f59" stroke-width="0.9"/>
<line x1="580.25" y1="89.70" x2="580.25" y2="101.90" stroke="#364f59" stroke-width="0.9"/>
<rect x="576.55" y="77.40" width="7.40" height="12.30" fill="#fff" stroke="#364f59" stroke-width="1.3" fill-opacity="0.55"/>
<line x1="576.50" y1="83.00" x2="584.00" y2="83.00" stroke="#364f59" stroke-width="1.2"/>
<path d="M588.7 103.5h0M588.0 81.6h0M588.3 99.8h0M588.0 89.6h0M589.1 77.1h0M589.2 91.1h0M590.2 76.1h0M589.1 78.6h0M588.0 92.0h0M589.1 77.0h0M589.7 106.5h0M588.7 88.2h0M589.6 90.7h0M588.4 90.6h0M590.7 107.2h0M588.6 90.4h0M589.1 95.9h0M587.9 93.2h0M590.5 105.7h0M589.6 74.5h0M590.6 98.1h0M588.7 96.5h0M588.6 89.2h0M589.9 103.2h0M589.6 82.4h0M588.8 99.4h0M589.7 75.5h0M590.2 77.8h0M588.7 103.6h0M590.3 110.6h0M590.8 106.0h0M589.6 100.8h0M589.6 88.8h0M590.4 99.2h0M588.5 88.2h0M589.2 88.4h0M589.7 84.1h0M589.9 89.6h0M588.2 87.3h0M590.7 108.8h0M589.4 96.5h0M590.2 80.9h0M588.7 82.9h0M588.1 81.5h0M589.8 80.7h0M589.7 90.4h0M588.7 98.0h0M588.5 101.0h0M589.7 76.1h0M588.7 104.2h0M590.1 90.9h0M588.4 82.5h0M590.8 100.0h0M589.0 91.1h0M589.6 74.6h0M589.2 83.1h0M589.7 84.0h0M589.5 82.3h0M590.0 100.5h0M589.3 112.1h0M588.9 94.0h0M588.4 108.9h0M588.4 89.0h0M588.1 113.2h0M590.6 110.8h0M589.2 99.0h0M589.2 87.9h0M588.2 92.7h0M589.5 92.5h0M590.7 87.1h0M588.7 88.5h0M588.0 108.1h0M588.3 86.4h0M589.1 91.1h0M588.7 92.4h0M590.3 80.0h0M589.5 112.4h0M590.0 83.9h0M588.6 100.8h0M588.6 94.0h0M589.6 85.6h0M589.5 95.5h0M590.1 94.6h0M587.9 112.8h0M588.7 106.1h0M589.3 80.8h0M587.9 96.1h0M589.3 86.3h0M589.8 92.5h0M589.9 79.4h0M589.3 88.6h0M589.3 110.3h0M590.3 93.3h0M588.1 97.0h0M589.1 73.9h0M589.0 113.3h0M589.4 66.9h0" stroke="#e08b3e" stroke-width="2.00" stroke-linecap="round" fill="none"/>
<line x1="589.35" y1="73.90" x2="589.35" y2="85.60" stroke="#e08b3e" stroke-width="0.9"/>
<line x1="589.35" y1="97.00" x2="589.35" y2="113.30" stroke="#e08b3e" stroke-width="0.9"/>
<rect x="585.45" y="85.60" width="7.80" height="11.40" fill="#fff" stroke="#e08b3e" stroke-width="1.3" fill-opacity="0.55"/>
<line x1="585.40" y1="92.00" x2="593.30" y2="92.00" stroke="#e08b3e" stroke-width="1.2"/>
<path d="M597.5 89.1h0M599.8 87.2h0M598.2 114.9h0M597.1 87.7h0M597.1 91.7h0M598.4 84.6h0M599.1 90.5h0M598.8 86.7h0M598.4 92.3h0M599.3 92.5h0M597.1 98.7h0M597.4 98.6h0M597.7 112.3h0M599.6 85.2h0M598.3 107.3h0M598.8 85.9h0M598.9 104.4h0M597.9 99.2h0M596.8 107.5h0M597.2 98.8h0M597.5 98.3h0M598.1 106.5h0M598.5 86.1h0M597.6 98.1h0M598.2 113.3h0M597.3 104.8h0M597.2 102.6h0M599.7 111.9h0M599.0 82.2h0M596.9 102.3h0M599.1 103.8h0M597.5 100.9h0M598.6 108.4h0M597.0 87.9h0M598.6 99.2h0M598.5 102.9h0M598.4 85.6h0M599.8 106.6h0M598.5 100.2h0M598.8 85.2h0M598.4 102.1h0M598.1 86.5h0M598.9 91.9h0M598.1 95.6h0M599.1 102.8h0M599.2 104.7h0M598.1 107.0h0M597.7 97.0h0M598.4 89.7h0M597.6 82.2h0M597.2 113.4h0M599.7 103.5h0M599.4 98.2h0M599.6 91.7h0M599.3 100.0h0M597.1 102.6h0M599.3 98.3h0M597.2 103.9h0M598.5 83.7h0M598.9 106.9h0M599.0 112.9h0M597.7 102.0h0M598.6 94.9h0M599.6 97.4h0M599.1 88.6h0M599.4 96.3h0M598.2 98.2h0M597.2 101.1h0M596.9 85.7h0M598.0 106.3h0M598.6 107.4h0M597.8 94.7h0M599.7 89.9h0M597.3 104.1h0M597.8 94.4h0M598.0 87.1h0M597.9 108.2h0M598.1 110.1h0M599.3 107.5h0M598.7 81.8h0M598.7 115.0h0" stroke="#1ba1d8" stroke-width="2.00" stroke-linecap="round" fill="none"/>
<line x1="598.30" y1="81.80" x2="598.30" y2="91.40" stroke="#1ba1d8" stroke-width="0.9"/>
<line x1="598.30" y1="104.60" x2="598.30" y2="115.00" stroke="#1ba1d8" stroke-width="0.9"/>
<rect x="594.55" y="91.40" width="7.50" height="13.20" fill="#fff" stroke="#1ba1d8" stroke-width="1.3" fill-opacity="0.55"/>
<line x1="594.50" y1="98.50" x2="602.10" y2="98.50" stroke="#1ba1d8" stroke-width="1.2"/>
<path d="M612.2 86.0h0M613.9 75.1h0M612.2 92.7h0M614.5 81.6h0M612.4 74.8h0M613.2 84.0h0M613.3 93.6h0M614.9 74.4h0M613.6 71.6h0M613.0 85.9h0M613.5 81.9h0M612.2 81.5h0M612.5 74.1h0M612.1 66.3h0M612.5 92.8h0M612.2 91.6h0M612.9 81.8h0M613.5 80.0h0M612.1 77.0h0M612.3 71.9h0M612.5 83.8h0M614.8 100.1h0M613.6 92.2h0M612.5 76.0h0M613.3 77.8h0M612.3 89.2h0M613.4 84.7h0M613.6 93.8h0M612.0 77.8h0M614.9 63.1h0M613.6 65.4h0M612.3 78.0h0M613.2 86.8h0M612.6 76.8h0M613.6 79.2h0M614.1 71.6h0M615.0 81.2h0M614.2 92.3h0M613.2 90.5h0M612.1 81.5h0M613.7 72.8h0M614.1 88.9h0M614.8 88.8h0M613.5 76.0h0M612.5 78.6h0M613.5 94.3h0M614.5 86.9h0M612.5 91.0h0M612.5 80.6h0M612.5 69.3h0M614.0 88.2h0M613.3 100.8h0M613.9 99.8h0M614.2 92.4h0M614.2 64.5h0M613.8 100.1h0M612.5 92.3h0M612.2 75.1h0M612.3 91.8h0M614.6 78.6h0M612.7 75.4h0M614.5 96.1h0M612.0 86.4h0M614.9 74.8h0M614.2 68.2h0M612.8 95.3h0M614.9 96.8h0M614.2 80.0h0M614.5 81.7h0M613.4 62.0h0M614.4 87.9h0M614.8 82.6h0M614.6 98.5h0M613.8 62.8h0M614.2 92.5h0M612.5 80.5h0M612.8 78.0h0M613.7 91.9h0M614.4 63.9h0M614.5 85.0h0M613.4 88.8h0M612.6 95.5h0M612.2 80.2h0M613.8 86.6h0M613.7 64.5h0M612.7 74.1h0M613.1 81.5h0M614.0 85.4h0M612.8 86.6h0M614.2 85.9h0M613.6 92.9h0M613.1 96.6h0M612.4 87.4h0M614.0 65.5h0M614.4 99.6h0M613.0 75.6h0M614.6 66.2h0M614.9 61.9h0M613.4 61.6h0M613.8 102.8h0M613.5 57.6h0" stroke="#364f59" stroke-width="2.00" stroke-linecap="round" fill="none"/>
<line x1="613.50" y1="61.60" x2="613.50" y2="76.50" stroke="#364f59" stroke-width="0.9"/>
<line x1="613.50" y1="89.30" x2="613.50" y2="102.80" stroke="#364f59" stroke-width="0.9"/>
<rect x="609.75" y="76.50" width="7.50" height="12.80" fill="#fff" stroke="#364f59" stroke-width="1.3" fill-opacity="0.55"/>
<line x1="609.70" y1="83.00" x2="617.30" y2="83.00" stroke="#364f59" stroke-width="1.2"/>
<path d="M621.3 90.4h0M621.2 96.1h0M621.3 86.1h0M623.5 78.4h0M623.8 100.2h0M623.4 78.6h0M623.0 100.3h0M621.3 93.3h0M624.0 84.8h0M621.5 99.6h0M621.8 104.8h0M622.9 94.8h0M621.5 86.7h0M623.6 85.1h0M622.2 89.0h0M623.0 98.2h0M621.1 90.1h0M621.5 77.9h0M621.7 92.6h0M621.3 87.5h0M622.4 101.4h0M623.0 84.9h0M621.8 104.4h0M622.5 78.0h0M622.7 93.2h0M621.5 95.5h0M621.8 94.7h0M623.7 97.6h0M622.0 94.4h0M622.9 87.8h0M621.8 86.8h0M622.8 77.5h0M624.0 103.3h0M623.0 106.1h0M622.2 87.8h0M621.8 77.8h0M622.5 89.8h0M623.8 104.8h0M622.2 101.0h0M623.4 89.9h0M622.2 99.0h0M621.4 88.9h0M623.5 91.4h0M623.8 99.5h0M623.2 87.5h0M622.9 81.0h0M623.9 83.5h0M622.6 81.7h0M623.0 98.2h0M623.0 82.3h0M622.5 97.1h0M624.0 97.4h0M622.9 95.1h0M622.6 88.9h0M623.7 106.9h0M623.1 101.3h0M621.7 94.1h0M623.9 101.5h0M623.8 91.0h0M622.9 91.5h0M624.0 94.2h0M623.4 95.1h0M623.8 85.4h0M624.0 90.1h0M623.3 95.4h0M621.4 90.6h0M622.8 83.9h0M621.4 80.4h0M623.5 86.0h0M624.0 91.9h0M623.5 92.5h0M623.4 103.2h0M623.9 87.1h0M623.0 78.3h0M621.5 98.1h0M622.3 75.7h0M622.6 107.2h0M622.9 64.3h0" stroke="#e08b3e" stroke-width="2.00" stroke-linecap="round" fill="none"/>
<line x1="622.60" y1="75.70" x2="622.60" y2="85.60" stroke="#e08b3e" stroke-width="0.9"/>
<line x1="622.60" y1="97.00" x2="622.60" y2="107.20" stroke="#e08b3e" stroke-width="0.9"/>
<rect x="618.65" y="85.60" width="7.90" height="11.40" fill="#fff" stroke="#e08b3e" stroke-width="1.3" fill-opacity="0.55"/>
<line x1="618.60" y1="91.50" x2="626.60" y2="91.50" stroke="#e08b3e" stroke-width="1.2"/>
<path d="M630.7 92.6h0M632.3 92.1h0M631.0 85.7h0M630.6 91.7h0M633.0 99.3h0M631.9 95.9h0M631.9 104.3h0M632.8 92.2h0M630.4 97.1h0M630.8 97.8h0M632.8 93.1h0M631.7 90.1h0M632.2 102.4h0M630.5 98.7h0M630.9 85.8h0M632.1 96.8h0M631.1 94.0h0M632.3 88.6h0M630.7 88.7h0M631.4 104.0h0M630.9 86.7h0M630.4 101.2h0M631.0 89.7h0M631.8 88.4h0M630.9 89.3h0M632.2 103.9h0M630.5 94.7h0M631.6 91.2h0M630.2 98.7h0M631.4 91.7h0M630.5 92.1h0M630.7 84.6h0M632.6 87.8h0M630.8 94.3h0M632.2 107.9h0M633.0 84.7h0M630.8 104.9h0M631.6 96.8h0M630.8 103.1h0M631.9 93.4h0M633.0 88.6h0M630.2 93.0h0M631.0 85.8h0M631.7 87.6h0M632.6 92.0h0M630.6 104.4h0M630.2 91.4h0M633.0 83.6h0M630.9 91.7h0M631.0 93.7h0M631.8 94.0h0M631.8 92.7h0M632.4 89.8h0M631.7 105.9h0M632.7 103.5h0M633.0 105.1h0M632.3 102.9h0M631.3 102.4h0M631.4 83.5h0M631.9 108.0h0M631.9 123.5h0" stroke="#1ba1d8" stroke-width="2.00" stroke-linecap="round" fill="none"/>
<line x1="631.60" y1="83.50" x2="631.60" y2="89.70" stroke="#1ba1d8" stroke-width="0.9"/>
<line x1="631.60" y1="98.40" x2="631.60" y2="108.00" stroke="#1ba1d8" stroke-width="0.9"/>
<rect x="627.85" y="89.70" width="7.50" height="8.70" fill="#fff" stroke="#1ba1d8" stroke-width="1.3" fill-opacity="0.55"/>
<line x1="627.80" y1="93.50" x2="635.40" y2="93.50" stroke="#1ba1d8" stroke-width="1.2"/>
<path d="M647.8 90.8h0M648.3 65.1h0M647.8 86.6h0M648.1 81.8h0M647.8 93.1h0M647.5 102.3h0M646.5 85.3h0M648.6 94.4h0M648.2 89.3h0M645.9 81.9h0M646.0 83.8h0M646.8 72.3h0M647.3 67.6h0M647.6 102.1h0M645.8 70.6h0M647.2 77.1h0M645.8 100.5h0M646.6 96.0h0M646.5 81.5h0M645.9 78.0h0M647.8 81.7h0M646.0 89.1h0M647.5 86.7h0M647.3 65.8h0M646.5 77.1h0M646.3 89.1h0M647.5 67.3h0M648.3 84.2h0M646.5 74.3h0M648.5 103.2h0M645.9 78.9h0M647.5 73.5h0M647.5 78.6h0M645.9 87.5h0M647.1 100.8h0M646.2 83.0h0M646.5 96.2h0M645.7 75.2h0M646.8 103.6h0M647.4 104.2h0M647.1 77.4h0M646.5 78.9h0M645.9 92.0h0M648.6 84.5h0M647.7 86.4h0M645.7 85.1h0M646.0 65.6h0M647.1 78.1h0M646.0 67.4h0M648.6 90.6h0M648.3 85.9h0M647.6 70.2h0M648.4 86.4h0M648.5 78.6h0M648.6 92.8h0M646.9 85.4h0M648.4 73.0h0M648.3 90.1h0M647.1 84.1h0M647.8 83.2h0M645.7 78.3h0M645.7 71.3h0M646.3 76.4h0M648.0 88.3h0M646.5 85.7h0M647.9 95.9h0M648.3 81.3h0M648.1 93.8h0M648.2 91.4h0M647.8 83.9h0M646.2 84.4h0M646.1 83.2h0M647.5 79.0h0M646.3 100.5h0M647.8 86.2h0M647.0 100.8h0M648.2 73.6h0M645.8 100.7h0M645.7 81.9h0M647.4 88.5h0M648.2 66.9h0M645.8 96.3h0M648.1 73.5h0M646.8 65.2h0M648.2 98.1h0M646.7 93.9h0M647.6 81.2h0M646.9 83.0h0M647.7 86.5h0M648.1 85.0h0M646.5 84.3h0M646.8 86.4h0M646.8 93.0h0M647.2 80.8h0M647.7 73.6h0M647.3 64.3h0M646.8 104.2h0M647.2 58.7h0M647.1 61.6h0" stroke="#364f59" stroke-width="2.00" stroke-linecap="round" fill="none"/>
<line x1="647.15" y1="64.30" x2="647.15" y2="77.40" stroke="#364f59" stroke-width="0.9"/>
<line x1="647.15" y1="88.40" x2="647.15" y2="104.20" stroke="#364f59" stroke-width="0.9"/>
<rect x="643.25" y="77.40" width="7.80" height="11.00" fill="#fff" stroke="#364f59" stroke-width="1.3" fill-opacity="0.55"/>
<line x1="643.20" y1="83.00" x2="651.10" y2="83.00" stroke="#364f59" stroke-width="1.2"/>
<path d="M657.1 90.4h0M655.5 84.2h0M657.6 82.1h0M657.3 91.0h0M655.9 75.7h0M656.1 85.3h0M656.3 105.5h0M656.8 77.6h0M656.2 85.6h0M656.5 95.0h0M655.5 88.6h0M657.6 77.9h0M656.6 93.5h0M656.9 75.3h0M656.5 84.6h0M656.4 101.5h0M655.7 99.0h0M656.7 91.7h0M655.9 98.2h0M656.4 87.4h0M655.4 103.6h0M657.5 90.1h0M656.3 94.8h0M656.1 77.1h0M656.4 80.9h0M656.5 93.5h0M657.2 103.0h0M656.8 102.9h0M656.0 97.4h0M656.3 81.4h0M656.2 104.7h0M656.8 96.3h0M655.6 89.1h0M655.3 82.8h0M655.6 80.1h0M656.7 97.7h0M655.9 82.2h0M655.4 94.1h0M654.9 104.4h0M655.4 83.0h0M655.8 92.9h0M656.4 92.6h0M656.6 89.2h0M657.2 88.3h0M655.1 93.7h0M656.8 87.1h0M655.6 104.9h0M657.7 87.7h0M656.7 80.1h0M655.1 83.3h0M656.1 78.7h0M655.1 91.0h0M656.3 73.6h0M656.1 104.6h0M657.7 96.0h0M655.5 72.6h0M655.9 89.8h0M656.2 87.9h0M656.5 89.4h0M657.0 91.5h0M657.6 78.8h0M656.0 81.9h0M657.3 78.7h0M656.6 90.4h0M655.1 86.4h0M657.3 96.9h0M656.7 96.9h0M656.2 104.3h0M655.0 96.1h0M657.3 95.7h0M657.0 101.3h0M656.3 96.1h0M657.3 102.8h0M654.9 91.7h0M656.3 81.9h0M656.1 90.5h0M656.7 103.7h0M655.5 78.2h0M656.3 86.2h0M655.6 96.4h0M656.7 71.5h0M656.5 92.1h0M655.7 106.0h0M655.5 75.0h0M656.5 71.3h0M656.5 106.3h0M656.1 113.8h0" stroke="#e08b3e" stroke-width="2.00" stroke-linecap="round" fill="none"/>
<line x1="656.25" y1="71.30" x2="656.25" y2="84.40" stroke="#e08b3e" stroke-width="0.9"/>
<line x1="656.25" y1="97.20" x2="656.25" y2="106.30" stroke="#e08b3e" stroke-width="0.9"/>
<rect x="652.35" y="84.40" width="7.80" height="12.80" fill="#fff" stroke="#e08b3e" stroke-width="1.3" fill-opacity="0.55"/>
<line x1="652.30" y1="90.50" x2="660.20" y2="90.50" stroke="#e08b3e" stroke-width="1.2"/>
<path d="M664.2 97.3h0M665.3 104.2h0M665.6 91.5h0M665.4 114.9h0M666.5 103.9h0M664.6 95.1h0M665.6 111.7h0M666.3 109.2h0M665.5 83.4h0M664.9 88.5h0M666.4 94.9h0M666.4 97.8h0M665.2 88.6h0M666.6 94.0h0M665.0 107.2h0M664.6 102.4h0M666.4 92.5h0M665.0 103.2h0M665.4 99.7h0M665.1 96.4h0M664.5 99.4h0M663.8 96.4h0M664.7 113.1h0M664.6 103.4h0M664.6 108.2h0M666.3 100.8h0M664.5 98.7h0M664.5 91.6h0M666.2 107.1h0M665.4 104.1h0M665.1 105.7h0M664.9 105.7h0M665.4 94.1h0M665.5 111.9h0M664.5 107.4h0M665.9 83.0h0M666.0 96.0h0M666.5 94.8h0M666.1 115.7h0M665.9 90.6h0M665.3 83.8h0M665.3 115.0h0M663.7 97.6h0M663.7 108.2h0M664.5 89.3h0M664.0 98.9h0M664.1 110.2h0M664.9 117.7h0M664.7 107.1h0M664.8 87.3h0M665.3 100.4h0M666.4 87.3h0M663.9 105.7h0M666.6 93.3h0M665.1 106.4h0M664.2 90.9h0M665.5 107.1h0M665.3 97.4h0M665.0 107.3h0M664.6 89.5h0M663.8 85.8h0M665.0 83.3h0M663.8 115.9h0M664.8 111.1h0M664.8 105.7h0M665.7 87.6h0M666.7 106.9h0M664.7 111.6h0M664.9 93.2h0M666.4 97.9h0M665.3 113.3h0M665.7 109.8h0M664.0 120.2h0M665.9 106.8h0M663.8 84.2h0M666.3 100.3h0M665.8 110.5h0M665.2 111.7h0M666.0 102.4h0M666.2 100.1h0M664.8 115.2h0M665.4 109.0h0M665.0 88.6h0M665.8 111.4h0M666.4 97.6h0M666.2 88.1h0M664.9 102.4h0M663.9 93.8h0M665.1 103.4h0M663.9 93.8h0M665.1 82.7h0M665.5 120.3h0" stroke="#1ba1d8" stroke-width="2.00" stroke-linecap="round" fill="none"/>
<line x1="665.20" y1="82.70" x2="665.20" y2="91.40" stroke="#1ba1d8" stroke-width="0.9"/>
<line x1="665.20" y1="105.40" x2="665.20" y2="120.30" stroke="#1ba1d8" stroke-width="0.9"/>
<rect x="661.45" y="91.40" width="7.50" height="14.00" fill="#fff" stroke="#1ba1d8" stroke-width="1.3" fill-opacity="0.55"/>
<line x1="661.40" y1="98.00" x2="669.00" y2="98.00" stroke="#1ba1d8" stroke-width="1.2"/>
<text x="559.90" y="39.95" font-size="6.6" text-anchor="start" fill="#000" textLength="61.0" lengthAdjust="spacingAndGlyphs">1_173700630_A_G</text>
<text x="561.80" y="47.00" font-size="6.6" text-anchor="start" fill="#000">genotype</text>
<rect x="628.10" y="38.80" width="7.00" height="5.00" fill="#364f59" stroke="none" stroke-width="1"/>
<path d="M629.7 40.2h3.8M629.7 42.6h3.8M631.6 38.8v5" stroke="#fff" stroke-width="0.6" opacity="0.5"/>
<text x="637.70" y="43.70" font-size="6.4" text-anchor="start" fill="#000">0</text>
<rect x="650.10" y="38.80" width="7.00" height="5.00" fill="#e08b3e" stroke="none" stroke-width="1"/>
<path d="M651.7 40.2h3.8M651.7 42.6h3.8M653.6 38.8v5" stroke="#fff" stroke-width="0.6" opacity="0.5"/>
<text x="659.70" y="43.70" font-size="6.4" text-anchor="start" fill="#000">1</text>
<rect x="671.90" y="38.80" width="7.00" height="5.00" fill="#1ba1d8" stroke="none" stroke-width="1"/>
<path d="M673.5 40.2h3.8M673.5 42.6h3.8M675.4 38.8v5" stroke="#fff" stroke-width="0.6" opacity="0.5"/>
<text x="681.50" y="43.70" font-size="6.4" text-anchor="start" fill="#000">2</text>
<rect x="605.20" y="160.50" width="70.90" height="32.10" fill="#fff" stroke="none" stroke-width="1"/>
<line x1="617.50" y1="160.50" x2="617.50" y2="192.60" stroke="#f2f2f2" stroke-width="0.5"/>
<line x1="636.50" y1="160.50" x2="636.50" y2="192.60" stroke="#f2f2f2" stroke-width="0.5"/>
<line x1="655.50" y1="160.50" x2="655.50" y2="192.60" stroke="#f2f2f2" stroke-width="0.5"/>
<line x1="605.20" y1="169.40" x2="676.10" y2="169.40" stroke="#ebebeb" stroke-width="0.9"/>
<line x1="605.20" y1="184.60" x2="676.10" y2="184.60" stroke="#ebebeb" stroke-width="0.9"/>
<line x1="608.00" y1="160.50" x2="608.00" y2="192.60" stroke="#ebebeb" stroke-width="0.9"/>
<line x1="627.00" y1="160.50" x2="627.00" y2="192.60" stroke="#ebebeb" stroke-width="0.9"/>
<line x1="646.00" y1="160.50" x2="646.00" y2="192.60" stroke="#ebebeb" stroke-width="0.9"/>
<line x1="665.00" y1="160.50" x2="665.00" y2="192.60" stroke="#ebebeb" stroke-width="0.9"/>
<line x1="627.00" y1="160.50" x2="627.00" y2="192.60" stroke="#000" stroke-width="1.5" stroke-dasharray="5.9,5.9" stroke-dashoffset="8.8"/>
<line x1="650.56" y1="169.40" x2="661.58" y2="169.40" stroke="#4d4d4d" stroke-width="1.25"/>
<line x1="650.56" y1="166.30" x2="650.56" y2="172.50" stroke="#4d4d4d" stroke-width="1.3"/>
<line x1="661.58" y1="166.30" x2="661.58" y2="172.50" stroke="#4d4d4d" stroke-width="1.3"/>
<circle cx="655.88" cy="169.40" r="2.0" fill="#4d4d4d" stroke="none" stroke-width="0"/>
<line x1="601.00" y1="169.40" x2="605.20" y2="169.40" stroke="#333" stroke-width="1.2"/>
<text x="598.40" y="171.60" font-size="6.4" text-anchor="end" fill="#4d4d4d" textLength="42.0" lengthAdjust="spacingAndGlyphs">mRNA → ribo</text>
<line x1="653.22" y1="184.60" x2="669.94" y2="184.60" stroke="#4d4d4d" stroke-width="1.25"/>
<line x1="653.22" y1="181.50" x2="653.22" y2="187.70" stroke="#4d4d4d" stroke-width="1.3"/>
<line x1="669.94" y1="181.50" x2="669.94" y2="187.70" stroke="#4d4d4d" stroke-width="1.3"/>
<circle cx="661.58" cy="184.60" r="2.0" fill="#4d4d4d" stroke="none" stroke-width="0"/>
<line x1="601.00" y1="184.60" x2="605.20" y2="184.60" stroke="#333" stroke-width="1.2"/>
<text x="598.40" y="186.80" font-size="6.4" text-anchor="end" fill="#4d4d4d" textLength="46.0" lengthAdjust="spacingAndGlyphs">Ribo → protein</text>
<rect x="605.20" y="160.50" width="70.90" height="32.10" fill="none" stroke="#333" stroke-width="1.1"/>
<line x1="608.00" y1="192.60" x2="608.00" y2="196.20" stroke="#333" stroke-width="1.2"/>
<text x="608.00" y="204.90" font-size="6.6" text-anchor="middle" fill="#4d4d4d">-0.5</text>
<line x1="627.00" y1="192.60" x2="627.00" y2="196.20" stroke="#333" stroke-width="1.2"/>
<text x="627.00" y="204.90" font-size="6.6" text-anchor="middle" fill="#4d4d4d">0.0</text>
<line x1="646.00" y1="192.60" x2="646.00" y2="196.20" stroke="#333" stroke-width="1.2"/>
<text x="646.00" y="204.90" font-size="6.6" text-anchor="middle" fill="#4d4d4d">0.5</text>
<line x1="665.00" y1="192.60" x2="665.00" y2="196.20" stroke="#333" stroke-width="1.2"/>
<text x="665.00" y="204.90" font-size="6.6" text-anchor="middle" fill="#4d4d4d">1.0</text>
<rect x="605.20" y="218.30" width="70.90" height="42.90" fill="#fff" stroke="none" stroke-width="1"/>
<line x1="618.95" y1="218.30" x2="618.95" y2="261.20" stroke="#f2f2f2" stroke-width="0.5"/>
<line x1="640.45" y1="218.30" x2="640.45" y2="261.20" stroke="#f2f2f2" stroke-width="0.5"/>
<line x1="661.95" y1="218.30" x2="661.95" y2="261.20" stroke="#f2f2f2" stroke-width="0.5"/>
<line x1="605.20" y1="226.00" x2="676.10" y2="226.00" stroke="#ebebeb" stroke-width="0.9"/>
<line x1="605.20" y1="239.90" x2="676.10" y2="239.90" stroke="#ebebeb" stroke-width="0.9"/>
<line x1="605.20" y1="253.70" x2="676.10" y2="253.70" stroke="#ebebeb" stroke-width="0.9"/>
<line x1="608.20" y1="218.30" x2="608.20" y2="261.20" stroke="#ebebeb" stroke-width="0.9"/>
<line x1="629.70" y1="218.30" x2="629.70" y2="261.20" stroke="#ebebeb" stroke-width="0.9"/>
<line x1="651.20" y1="218.30" x2="651.20" y2="261.20" stroke="#ebebeb" stroke-width="0.9"/>
<line x1="672.70" y1="218.30" x2="672.70" y2="261.20" stroke="#ebebeb" stroke-width="0.9"/>
<line x1="651.20" y1="218.30" x2="651.20" y2="261.20" stroke="#000" stroke-width="1.5" stroke-dasharray="5.9,5.9" stroke-dashoffset="8.8"/>
<line x1="635.72" y1="226.00" x2="642.82" y2="226.00" stroke="#4d4d4d" stroke-width="1.25"/>
<line x1="635.72" y1="222.90" x2="635.72" y2="229.10" stroke="#4d4d4d" stroke-width="1.3"/>
<line x1="642.82" y1="222.90" x2="642.82" y2="229.10" stroke="#4d4d4d" stroke-width="1.3"/>
<circle cx="639.16" cy="226.00" r="2.0" fill="#4d4d4d" stroke="none" stroke-width="0"/>
<line x1="601.00" y1="226.00" x2="605.20" y2="226.00" stroke="#333" stroke-width="1.2"/>
<text x="598.40" y="228.20" font-size="6.4" text-anchor="end" fill="#4d4d4d" textLength="41.0" lengthAdjust="spacingAndGlyphs">mRNA → SCZ</text>
<line x1="630.13" y1="239.90" x2="636.37" y2="239.90" stroke="#4d4d4d" stroke-width="1.25"/>
<line x1="630.13" y1="236.80" x2="630.13" y2="243.00" stroke="#4d4d4d" stroke-width="1.3"/>
<line x1="636.37" y1="236.80" x2="636.37" y2="243.00" stroke="#4d4d4d" stroke-width="1.3"/>
<circle cx="633.14" cy="239.90" r="2.0" fill="#4d4d4d" stroke="none" stroke-width="0"/>
<line x1="601.00" y1="239.90" x2="605.20" y2="239.90" stroke="#333" stroke-width="1.2"/>
<text x="598.40" y="242.10" font-size="6.4" text-anchor="end" fill="#4d4d4d" textLength="35.5" lengthAdjust="spacingAndGlyphs">Ribo → SCZ</text>
<line x1="637.87" y1="253.70" x2="647.12" y2="253.70" stroke="#4d4d4d" stroke-width="1.25"/>
<line x1="637.87" y1="250.60" x2="637.87" y2="256.80" stroke="#4d4d4d" stroke-width="1.3"/>
<line x1="647.12" y1="250.60" x2="647.12" y2="256.80" stroke="#4d4d4d" stroke-width="1.3"/>
<circle cx="642.60" cy="253.70" r="2.0" fill="#4d4d4d" stroke="none" stroke-width="0"/>
<line x1="601.00" y1="253.70" x2="605.20" y2="253.70" stroke="#333" stroke-width="1.2"/>
<text x="598.40" y="255.90" font-size="6.4" text-anchor="end" fill="#4d4d4d" textLength="43.6" lengthAdjust="spacingAndGlyphs">Protein → SCZ</text>
<rect x="605.20" y="218.30" width="70.90" height="42.90" fill="none" stroke="#333" stroke-width="1.1"/>
<line x1="608.20" y1="261.20" x2="608.20" y2="264.80" stroke="#333" stroke-width="1.2"/>
<text x="608.20" y="273.90" font-size="6.6" text-anchor="middle" fill="#4d4d4d">-0.2</text>
<line x1="629.70" y1="261.20" x2="629.70" y2="264.80" stroke="#333" stroke-width="1.2"/>
<text x="629.70" y="273.90" font-size="6.6" text-anchor="middle" fill="#4d4d4d">-0.1</text>
<line x1="651.20" y1="261.20" x2="651.20" y2="264.80" stroke="#333" stroke-width="1.2"/>
<text x="651.20" y="273.90" font-size="6.6" text-anchor="middle" fill="#4d4d4d">0.0</text>
<line x1="672.70" y1="261.20" x2="672.70" y2="264.80" stroke="#333" stroke-width="1.2"/>
<text x="672.70" y="273.90" font-size="6.6" text-anchor="middle" fill="#4d4d4d">0.1</text>
<text x="640.70" y="284.80" font-size="8.2" text-anchor="middle" fill="#000">MR effect size</text>
<text x="463.50" y="284.80" font-size="8.25" text-anchor="middle" fill="#000">Position (Mb)</text>
<text x="353.80" y="313.50" font-size="10.1" text-anchor="start" fill="#000" font-weight="bold">C</text>
<text x="368.70" y="328.80" font-size="9.6" text-anchor="start" fill="#000" font-style="italic">SF3B1</text>
<text x="456.10" y="342.70" font-size="7.1" text-anchor="middle" fill="#ff0000">2_198314568_A_G</text>
<line x1="399.50" y1="388.20" x2="529.00" y2="388.20" stroke="#ebebeb" stroke-width="0.9"/>
<line x1="399.50" y1="382.07" x2="529.00" y2="382.07" stroke="#ebebeb" stroke-width="0.6"/>
<line x1="399.50" y1="375.95" x2="529.00" y2="375.95" stroke="#ebebeb" stroke-width="0.9"/>
<line x1="399.50" y1="369.82" x2="529.00" y2="369.82" stroke="#ebebeb" stroke-width="0.6"/>
<line x1="399.50" y1="363.70" x2="529.00" y2="363.70" stroke="#ebebeb" stroke-width="0.9"/>
<line x1="399.50" y1="357.57" x2="529.00" y2="357.57" stroke="#ebebeb" stroke-width="0.6"/>
<path d="M402.6 389.2 L402.6 385.0 L455.0 385.0 L455.0 383.3 L503.0 383.3 L503.0 385.0 L524.2 385.0 L524.2 389.2 Z" fill="#647f88"/>
<path d="M417.7 385.9h0M448.2 385.3h0M448.8 383.8h0M438.2 386.1h0M441.3 383.5h0M416.0 383.9h0M425.5 386.3h0M443.2 384.2h0M413.7 385.4h0M442.0 386.5h0M419.0 385.6h0M441.2 385.2h0M412.5 384.6h0M429.2 384.4h0M441.4 384.1h0M427.2 383.7h0M419.2 385.0h0M446.8 384.0h0M430.2 385.3h0M454.4 384.4h0M419.4 384.4h0M421.8 384.9h0M452.5 384.9h0M421.6 385.1h0M451.5 384.6h0M430.7 385.0h0M406.6 385.2h0M404.7 382.5h0M411.9 385.6h0M439.8 383.9h0M404.6 386.2h0M418.1 386.0h0M427.7 384.2h0M404.8 385.1h0M418.4 384.6h0M435.9 384.4h0M453.0 384.1h0M412.8 385.9h0M403.7 384.3h0M450.9 385.9h0M444.2 385.4h0M440.2 385.9h0M415.4 384.2h0M408.6 384.8h0M453.9 385.2h0M416.4 386.2h0M411.9 386.1h0M469.0 383.8h0M482.3 384.4h0M468.4 382.8h0M458.4 382.2h0M472.1 382.9h0M455.2 383.2h0M502.4 383.2h0M456.4 382.8h0M456.1 384.6h0M467.9 382.0h0M497.5 384.7h0M465.1 380.5h0M465.1 382.8h0M481.9 383.3h0M476.6 384.3h0M477.3 381.9h0M462.9 383.7h0M502.8 381.9h0M468.0 382.5h0M482.1 382.8h0M463.7 383.2h0M467.9 384.3h0M467.4 383.3h0M463.3 383.4h0M486.7 383.1h0M485.1 384.5h0M468.4 384.5h0M468.2 384.1h0M488.5 384.0h0M479.4 384.4h0M465.1 382.5h0M471.4 381.9h0M480.6 384.6h0M470.3 383.8h0M469.4 383.8h0M470.2 382.7h0M456.8 382.5h0M495.7 381.9h0M495.1 381.7h0M495.1 383.4h0M465.2 384.2h0M488.9 384.1h0M486.9 381.9h0M517.3 386.4h0M510.9 384.2h0M504.2 384.7h0M519.4 384.6h0M520.6 384.4h0M524.2 384.5h0M524.0 385.2h0M506.4 385.4h0M521.6 383.5h0M517.8 386.0h0M509.7 384.2h0M519.2 384.3h0M520.1 383.7h0M519.1 383.9h0M504.3 384.4h0M506.5 384.6h0M515.5 383.7h0M504.1 386.0h0M520.8 383.9h0M412.0 380.6h0M481.0 378.9h0M520.8 380.8h0M429.0 382.1h0M437.0 382.3h0" stroke="#647f88" stroke-width="2.60" stroke-linecap="round" fill="none"/>
<path d="M490.5 373.6h0M475.2 371.6h0M501.1 377.2h0M498.8 375.3h0M490.9 373.7h0M485.6 373.5h0M476.3 372.4h0M489.5 374.2h0M456.7 375.6h0M500.2 375.5h0M459.2 375.0h0M501.7 378.6h0M455.3 376.7h0M485.4 373.3h0M461.2 373.4h0M480.3 373.6h0M464.3 373.9h0M468.1 373.5h0M458.1 374.8h0M480.2 373.4h0M455.1 376.3h0M470.4 372.9h0M493.7 374.5h0M457.8 375.6h0M480.7 373.4h0M460.5 374.5h0M490.5 373.6h0M464.9 373.4h0M469.9 372.6h0M471.3 373.3h0M501.6 377.4h0M481.4 373.7h0M482.5 373.8h0M455.8 376.5h0M481.4 373.2h0M500.5 375.4h0M470.5 372.4h0M476.4 372.6h0M495.4 374.4h0M499.2 375.4h0M479.2 372.5h0M501.5 377.5h0M484.6 373.7h0M499.7 375.9h0M472.4 372.4h0M489.1 373.9h0M455.5 376.8h0M494.6 374.4h0M501.5 376.9h0M498.3 375.9h0M466.5 373.4h0M474.7 371.7h0M457.5 376.5h0M482.4 373.2h0M471.8 373.3h0M501.6 377.7h0M455.6 376.1h0M502.0 378.7h0M464.2 373.7h0M483.7 373.6h0M461.8 374.2h0M480.4 372.6h0M467.2 373.1h0M467.1 373.6h0M457.8 376.0h0M468.1 373.6h0M481.3 373.2h0M496.1 374.4h0M459.6 374.0h0M460.1 374.4h0M462.6 374.2h0M497.4 375.3h0M495.5 374.8h0M480.0 373.4h0M502.0 379.3h0M486.5 373.6h0M477.3 372.3h0M457.3 375.3h0M501.4 377.3h0M456.2 376.7h0M473.5 372.5h0M485.5 373.5h0M468.0 372.6h0M456.0 376.5h0M465.0 373.6h0M501.4 377.9h0M484.6 373.6h0M498.6 375.5h0M496.3 374.9h0M493.8 374.0h0M456.5 376.2h0M491.6 373.8h0M491.5 374.2h0M484.3 373.3h0M480.1 373.0h0M485.2 373.2h0M495.5 374.6h0M502.1 378.5h0M480.9 373.3h0M473.6 372.0h0M479.0 372.7h0M499.4 375.3h0M467.3 373.9h0M458.4 374.9h0M480.6 372.9h0M500.5 376.1h0M469.0 373.6h0M460.4 374.4h0M494.5 374.2h0M467.5 372.7h0M496.8 379.0h0M469.5 378.4h0M459.1 379.0h0M468.2 379.1h0M495.2 379.7h0M498.8 380.9h0M492.0 379.8h0M478.9 379.2h0M492.0 379.9h0M489.5 378.8h0M465.4 379.4h0M497.2 379.2h0M490.3 378.7h0M478.7 379.0h0M464.2 379.7h0M459.9 379.9h0M468.2 379.2h0M490.2 379.8h0M462.7 379.1h0M484.6 379.6h0M473.1 378.3h0M470.9 378.4h0M480.8 378.9h0M465.2 379.2h0M459.1 379.9h0M469.5 378.7h0M487.6 379.0h0M500.4 381.2h0M485.0 379.5h0M483.3 379.5h0M481.5 378.3h0M480.3 378.3h0M495.3 379.6h0M493.6 379.0h0M492.1 379.3h0M467.4 379.4h0M501.3 382.5h0M467.3 378.7h0M472.0 379.4h0M494.4 379.3h0M487.2 379.7h0M498.5 380.9h0M501.9 381.3h0M498.3 380.6h0M497.8 380.3h0M497.5 379.3h0M462.9 379.8h0M466.2 379.4h0M497.5 380.1h0M491.8 378.8h0M473.3 379.1h0M487.3 378.9h0M494.1 379.4h0M482.5 379.1h0M484.0 378.8h0M501.0 381.6h0M498.8 380.5h0M500.1 381.9h0M460.8 379.3h0M488.3 379.4h0M462.9 379.8h0M468.4 379.5h0M501.9 381.3h0M492.2 380.0h0M486.4 379.1h0M459.6 379.4h0M494.6 380.0h0M495.7 379.0h0M496.1 379.8h0M483.9 379.0h0" stroke="#647f88" stroke-width="2.60" stroke-linecap="round" fill="none"/>
<line x1="465.40" y1="352.20" x2="465.40" y2="389.50" stroke="#f03a3a" stroke-width="0.8"/>
<line x1="397.80" y1="352.20" x2="397.80" y2="389.50" stroke="#000" stroke-width="1.5"/>
<line x1="394.00" y1="388.20" x2="397.80" y2="388.20" stroke="#222" stroke-width="1.2"/>
<text x="391.00" y="390.60" font-size="6.7" text-anchor="end" fill="#4d4d4d">0</text>
<line x1="394.00" y1="375.95" x2="397.80" y2="375.95" stroke="#222" stroke-width="1.2"/>
<text x="391.00" y="378.35" font-size="6.7" text-anchor="end" fill="#4d4d4d">5</text>
<line x1="394.00" y1="363.70" x2="397.80" y2="363.70" stroke="#222" stroke-width="1.2"/>
<text x="391.00" y="366.10" font-size="6.7" text-anchor="end" fill="#4d4d4d">10</text>
<line x1="418.00" y1="389.50" x2="418.00" y2="393.80" stroke="#222" stroke-width="1.4"/>
<text x="418.00" y="401.80" font-size="6.8" text-anchor="middle" fill="#4d4d4d">197.5</text>
<line x1="447.20" y1="389.50" x2="447.20" y2="393.80" stroke="#222" stroke-width="1.4"/>
<text x="447.20" y="401.80" font-size="6.8" text-anchor="middle" fill="#4d4d4d">198.0</text>
<line x1="476.40" y1="389.50" x2="476.40" y2="393.80" stroke="#222" stroke-width="1.4"/>
<text x="476.40" y="401.80" font-size="6.8" text-anchor="middle" fill="#4d4d4d">198.5</text>
<line x1="505.60" y1="389.50" x2="505.60" y2="393.80" stroke="#222" stroke-width="1.4"/>
<text x="505.60" y="401.80" font-size="6.8" text-anchor="middle" fill="#4d4d4d">199.0</text>
<text x="375.6" y="371.60" font-size="9.6" text-anchor="middle" textLength="34.6" lengthAdjust="spacingAndGlyphs" transform="rotate(-90 375.6 371.60)">−<tspan dx="1.2">log</tspan><tspan font-size="6.6" dy="1.3">10</tspan><tspan dy="-1.3">(p)</tspan></text>
<text x="505.00" y="337.90" font-size="6.7" text-anchor="start" fill="#000" font-weight="bold">mRNA</text>
<line x1="399.50" y1="447.10" x2="529.00" y2="447.10" stroke="#ebebeb" stroke-width="0.9"/>
<line x1="399.50" y1="441.50" x2="529.00" y2="441.50" stroke="#ebebeb" stroke-width="0.6"/>
<line x1="399.50" y1="435.90" x2="529.00" y2="435.90" stroke="#ebebeb" stroke-width="0.9"/>
<line x1="399.50" y1="430.30" x2="529.00" y2="430.30" stroke="#ebebeb" stroke-width="0.6"/>
<line x1="399.50" y1="424.70" x2="529.00" y2="424.70" stroke="#ebebeb" stroke-width="0.9"/>
<line x1="399.50" y1="419.10" x2="529.00" y2="419.10" stroke="#ebebeb" stroke-width="0.6"/>
<path d="M402.6 448.1 L402.6 444.6 L524.2 444.6 L524.2 448.1 Z" fill="#647f88"/>
<path d="M456.7 444.8h0M521.2 444.0h0M463.8 444.6h0M426.5 445.4h0M443.7 444.5h0M480.1 444.3h0M462.7 444.7h0M514.2 442.7h0M416.2 444.6h0M472.9 444.3h0M450.8 445.2h0M480.0 444.6h0M494.5 444.8h0M410.4 443.4h0M506.2 444.9h0M420.8 444.7h0M511.6 444.1h0M408.2 444.7h0M427.3 443.9h0M524.2 443.3h0M427.5 445.0h0M445.4 445.4h0M416.4 445.3h0M516.4 445.0h0M501.4 444.5h0M513.6 444.0h0M411.5 444.0h0M504.7 445.2h0M471.6 445.0h0M404.5 445.2h0M464.9 444.4h0M452.2 444.2h0M476.4 445.0h0M500.3 444.8h0M467.3 444.2h0M441.3 444.6h0M510.4 445.4h0M482.6 444.3h0M475.9 445.2h0M403.3 444.6h0M495.0 443.6h0M522.8 444.4h0M484.0 444.0h0M459.5 444.6h0M418.1 443.9h0M476.6 444.9h0M508.3 445.3h0M498.3 444.2h0M410.1 444.3h0M456.4 445.3h0M409.9 444.5h0M513.0 444.9h0M494.6 445.1h0M412.7 444.1h0M403.1 444.9h0M473.4 443.9h0M454.3 444.3h0M492.7 445.1h0M522.5 443.9h0M437.8 444.9h0M449.2 443.4h0M413.0 444.1h0M407.7 444.9h0M443.0 444.3h0M520.1 442.9h0M498.6 444.2h0M484.9 444.5h0M424.8 444.8h0M523.0 444.0h0M466.4 444.1h0M515.8 444.8h0M465.1 444.0h0M474.4 443.9h0M421.1 444.0h0M475.2 444.0h0M457.0 444.9h0M462.7 445.3h0M459.9 445.1h0M429.9 444.7h0M490.1 445.3h0M428.4 444.2h0M402.7 445.1h0M455.5 444.3h0M507.4 444.4h0M438.0 444.7h0M436.7 443.9h0M465.1 444.5h0M497.4 445.0h0M510.9 445.0h0M435.2 444.6h0M503.6 444.0h0M416.9 444.6h0M433.6 444.1h0M495.8 444.6h0M443.5 444.4h0M496.7 445.2h0M480.0 444.0h0M411.6 445.3h0M407.1 443.4h0M496.8 444.3h0M457.0 444.1h0M518.8 445.3h0M520.2 444.5h0M469.9 445.2h0M424.8 445.1h0M513.1 444.9h0M523.5 444.0h0M460.3 444.7h0M420.8 444.4h0M403.8 440.8h0M449.0 440.8h0M450.5 441.3h0M499.0 441.5h0M514.6 440.4h0" stroke="#647f88" stroke-width="2.60" stroke-linecap="round" fill="none"/>
<line x1="465.40" y1="414.30" x2="465.40" y2="448.20" stroke="#f03a3a" stroke-width="0.8"/>
<line x1="397.80" y1="414.30" x2="397.80" y2="448.20" stroke="#000" stroke-width="1.5"/>
<line x1="394.00" y1="447.10" x2="397.80" y2="447.10" stroke="#222" stroke-width="1.2"/>
<text x="391.00" y="449.50" font-size="6.7" text-anchor="end" fill="#4d4d4d">0</text>
<line x1="394.00" y1="435.90" x2="397.80" y2="435.90" stroke="#222" stroke-width="1.2"/>
<text x="391.00" y="438.30" font-size="6.7" text-anchor="end" fill="#4d4d4d">5</text>
<line x1="394.00" y1="424.70" x2="397.80" y2="424.70" stroke="#222" stroke-width="1.2"/>
<text x="391.00" y="427.10" font-size="6.7" text-anchor="end" fill="#4d4d4d">10</text>
<line x1="418.00" y1="448.20" x2="418.00" y2="452.50" stroke="#222" stroke-width="1.4"/>
<text x="418.00" y="459.80" font-size="6.8" text-anchor="middle" fill="#4d4d4d">197.5</text>
<line x1="447.20" y1="448.20" x2="447.20" y2="452.50" stroke="#222" stroke-width="1.4"/>
<text x="447.20" y="459.80" font-size="6.8" text-anchor="middle" fill="#4d4d4d">198.0</text>
<line x1="476.40" y1="448.20" x2="476.40" y2="452.50" stroke="#222" stroke-width="1.4"/>
<text x="476.40" y="459.80" font-size="6.8" text-anchor="middle" fill="#4d4d4d">198.5</text>
<line x1="505.60" y1="448.20" x2="505.60" y2="452.50" stroke="#222" stroke-width="1.4"/>
<text x="505.60" y="459.80" font-size="6.8" text-anchor="middle" fill="#4d4d4d">199.0</text>
<text x="375.6" y="432.00" font-size="9.6" text-anchor="middle" textLength="34.6" lengthAdjust="spacingAndGlyphs" transform="rotate(-90 375.6 432.00)">−<tspan dx="1.2">log</tspan><tspan font-size="6.6" dy="1.3">10</tspan><tspan dy="-1.3">(p)</tspan></text>
<text x="505.60" y="414.60" font-size="6.7" text-anchor="start" fill="#000" font-weight="bold">Ribo</text>
<line x1="399.50" y1="505.70" x2="529.00" y2="505.70" stroke="#ebebeb" stroke-width="0.9"/>
<line x1="399.50" y1="500.15" x2="529.00" y2="500.15" stroke="#ebebeb" stroke-width="0.6"/>
<line x1="399.50" y1="494.60" x2="529.00" y2="494.60" stroke="#ebebeb" stroke-width="0.9"/>
<line x1="399.50" y1="489.05" x2="529.00" y2="489.05" stroke="#ebebeb" stroke-width="0.6"/>
<line x1="399.50" y1="483.50" x2="529.00" y2="483.50" stroke="#ebebeb" stroke-width="0.9"/>
<line x1="399.50" y1="477.95" x2="529.00" y2="477.95" stroke="#ebebeb" stroke-width="0.6"/>
<path d="M402.6 506.7 L402.6 502.1 L440.0 502.1 L440.0 503.5 L490.0 503.5 L490.0 502.4 L524.2 502.4 L524.2 506.7 Z" fill="#647f88"/>
<path d="M412.7 502.6h0M410.5 502.5h0M422.9 502.9h0M439.9 502.2h0M412.9 502.9h0M423.2 502.5h0M431.4 502.8h0M408.9 503.1h0M427.6 502.1h0M403.3 501.6h0M413.1 501.5h0M432.7 501.2h0M407.6 503.1h0M438.5 501.6h0M423.1 502.5h0M413.8 503.1h0M420.3 502.3h0M418.0 501.3h0M424.2 501.2h0M421.3 501.0h0M427.1 502.7h0M423.8 501.6h0M430.0 501.6h0M424.4 502.3h0M431.0 502.9h0M422.0 502.7h0M419.3 501.6h0M411.2 501.7h0M408.4 502.5h0M413.7 502.9h0M416.4 501.2h0M416.3 501.6h0M422.6 501.5h0M485.4 503.8h0M454.0 504.1h0M465.1 504.5h0M450.5 504.1h0M455.5 503.8h0M459.2 501.8h0M467.4 503.3h0M461.4 504.2h0M475.2 502.6h0M478.9 503.8h0M465.9 502.5h0M460.1 503.2h0M476.7 503.0h0M472.6 502.9h0M467.5 504.4h0M452.3 503.3h0M479.3 502.8h0M466.9 503.4h0M484.5 502.5h0M471.3 504.1h0M486.6 504.5h0M474.9 504.2h0M450.2 504.1h0M453.1 504.2h0M460.6 503.8h0M460.2 504.3h0M477.0 504.2h0M474.1 502.5h0M449.8 504.1h0M478.1 502.9h0M460.9 503.8h0M475.3 503.6h0M453.5 503.6h0M442.3 503.7h0M445.2 503.1h0M455.6 504.3h0M485.1 503.1h0M467.4 503.6h0M448.8 503.3h0M485.4 503.3h0M448.1 502.8h0M456.2 502.7h0M473.4 503.6h0M450.5 504.1h0M456.7 503.6h0M504.8 501.7h0M490.9 501.8h0M514.9 502.1h0M517.2 502.9h0M498.0 502.1h0M511.1 502.1h0M500.6 503.1h0M495.2 502.4h0M506.5 502.3h0M495.4 502.4h0M500.0 503.3h0M515.4 502.5h0M521.9 501.8h0M497.1 502.1h0M502.5 503.0h0M501.9 503.1h0M508.8 501.7h0M510.5 501.5h0M497.1 502.7h0M499.4 503.0h0M504.9 501.8h0M521.1 503.1h0M492.8 502.7h0M522.4 501.6h0M493.7 501.6h0M502.3 502.5h0M492.2 502.5h0M511.4 502.4h0M509.2 501.6h0M503.1 501.9h0M419.2 497.3h0M425.0 498.8h0M435.6 499.0h0M504.4 497.5h0M510.7 496.4h0M509.8 499.0h0" stroke="#647f88" stroke-width="2.60" stroke-linecap="round" fill="none"/>
<line x1="465.40" y1="473.20" x2="465.40" y2="506.90" stroke="#f03a3a" stroke-width="0.8"/>
<line x1="397.80" y1="473.20" x2="397.80" y2="506.90" stroke="#000" stroke-width="1.5"/>
<line x1="394.00" y1="505.70" x2="397.80" y2="505.70" stroke="#222" stroke-width="1.2"/>
<text x="391.00" y="508.10" font-size="6.7" text-anchor="end" fill="#4d4d4d">0</text>
<line x1="394.00" y1="494.60" x2="397.80" y2="494.60" stroke="#222" stroke-width="1.2"/>
<text x="391.00" y="497.00" font-size="6.7" text-anchor="end" fill="#4d4d4d">5</text>
<line x1="394.00" y1="483.50" x2="397.80" y2="483.50" stroke="#222" stroke-width="1.2"/>
<text x="391.00" y="485.90" font-size="6.7" text-anchor="end" fill="#4d4d4d">10</text>
<line x1="418.00" y1="506.90" x2="418.00" y2="511.20" stroke="#222" stroke-width="1.4"/>
<text x="418.00" y="518.80" font-size="6.8" text-anchor="middle" fill="#4d4d4d">197.5</text>
<line x1="447.20" y1="506.90" x2="447.20" y2="511.20" stroke="#222" stroke-width="1.4"/>
<text x="447.20" y="518.80" font-size="6.8" text-anchor="middle" fill="#4d4d4d">198.0</text>
<line x1="476.40" y1="506.90" x2="476.40" y2="511.20" stroke="#222" stroke-width="1.4"/>
<text x="476.40" y="518.80" font-size="6.8" text-anchor="middle" fill="#4d4d4d">198.5</text>
<line x1="505.60" y1="506.90" x2="505.60" y2="511.20" stroke="#222" stroke-width="1.4"/>
<text x="505.60" y="518.80" font-size="6.8" text-anchor="middle" fill="#4d4d4d">199.0</text>
<text x="375.6" y="490.80" font-size="9.6" text-anchor="middle" textLength="34.6" lengthAdjust="spacingAndGlyphs" transform="rotate(-90 375.6 490.80)">−<tspan dx="1.2">log</tspan><tspan font-size="6.6" dy="1.3">10</tspan><tspan dy="-1.3">(p)</tspan></text>
<text x="503.40" y="473.30" font-size="6.7" text-anchor="start" fill="#000" font-weight="bold">Protein</text>
<line x1="399.50" y1="564.50" x2="529.00" y2="564.50" stroke="#ebebeb" stroke-width="0.9"/>
<line x1="399.50" y1="558.95" x2="529.00" y2="558.95" stroke="#ebebeb" stroke-width="0.6"/>
<line x1="399.50" y1="553.40" x2="529.00" y2="553.40" stroke="#ebebeb" stroke-width="0.9"/>
<line x1="399.50" y1="547.85" x2="529.00" y2="547.85" stroke="#ebebeb" stroke-width="0.6"/>
<line x1="399.50" y1="542.30" x2="529.00" y2="542.30" stroke="#ebebeb" stroke-width="0.9"/>
<line x1="399.50" y1="536.75" x2="529.00" y2="536.75" stroke="#ebebeb" stroke-width="0.6"/>
<path d="M402.6 565.5 L402.6 560.1 L406.0 560.1 L406.0 555.0 L417.0 555.0 L417.0 559.8 L524.2 559.8 L524.2 565.5 Z" fill="#647f88"/>
<path d="M404.8 560.0h0M402.9 560.3h0M403.9 560.8h0M413.5 554.6h0M409.1 554.6h0M415.4 552.4h0M408.7 554.5h0M408.1 555.3h0M413.8 554.8h0M411.0 555.8h0M411.4 554.8h0M406.6 554.5h0M437.8 560.0h0M443.5 560.5h0M493.4 560.9h0M488.7 559.4h0M508.3 561.0h0M487.1 560.3h0M476.8 559.5h0M521.4 559.4h0M469.3 560.0h0M442.9 560.6h0M499.5 560.7h0M435.5 560.2h0M428.3 557.4h0M428.1 558.9h0M427.5 557.7h0M474.1 560.4h0M424.0 558.7h0M516.0 560.3h0M515.3 559.4h0M503.6 559.9h0M462.4 559.1h0M507.8 560.8h0M454.2 559.2h0M524.0 560.1h0M481.4 561.1h0M456.1 559.3h0M514.8 559.2h0M437.6 560.8h0M466.6 557.3h0M442.6 560.1h0M456.4 560.0h0M429.7 560.6h0M423.8 558.8h0M449.5 560.2h0M463.4 560.2h0M523.6 558.6h0M481.1 560.6h0M514.5 559.0h0M486.0 559.1h0M428.7 560.0h0M460.8 559.8h0M425.0 558.0h0M417.4 559.1h0M465.9 559.9h0M455.1 559.9h0M454.6 560.8h0M430.5 559.7h0M451.2 559.3h0M453.0 559.1h0M509.4 558.7h0M468.4 560.9h0M502.5 559.1h0M463.1 559.5h0M473.1 558.8h0M458.4 560.5h0M450.2 560.9h0M500.6 560.0h0M452.7 559.5h0M499.2 560.4h0M478.4 558.8h0M469.9 559.1h0M457.9 560.9h0M485.2 561.0h0M490.2 559.2h0M422.3 560.8h0M486.5 558.7h0M462.9 560.1h0M472.8 559.1h0M444.7 560.9h0M458.3 558.6h0M440.9 560.4h0M462.0 559.9h0M482.1 559.8h0M516.8 560.2h0M504.8 560.9h0M423.7 559.3h0M518.4 558.9h0M476.5 561.0h0M450.9 561.0h0M430.6 559.3h0M515.6 558.8h0M485.3 560.1h0M433.0 560.9h0M522.3 560.5h0M428.2 559.0h0M438.0 559.3h0M419.5 558.7h0M470.7 560.5h0M475.4 558.8h0M429.7 560.4h0M445.1 558.8h0M460.4 560.3h0M502.3 560.2h0M460.2 558.7h0M476.1 558.8h0M449.5 559.0h0M415.6 557.2h0M406.1 555.4h0M412.2 557.8h0M416.1 556.9h0M411.8 558.4h0M414.0 556.0h0M407.6 553.0h0M409.1 559.0h0M414.0 556.9h0M414.9 556.8h0M412.1 554.6h0M415.6 558.8h0M407.2 556.4h0M407.7 554.1h0M409.7 557.4h0M406.9 558.0h0M410.0 558.1h0M408.3 557.9h0M414.0 559.1h0M411.6 555.2h0M406.2 553.9h0M414.3 558.2h0M406.6 559.5h0M415.6 559.7h0M412.7 555.6h0M442.0 557.2h0M434.1 557.1h0M445.8 558.7h0M427.2 557.0h0M432.8 556.5h0M431.9 554.9h0M425.1 555.1h0M417.6 555.6h0M420.9 557.9h0M433.1 555.1h0M422.0 556.9h0M447.0 557.0h0M444.4 554.7h0M447.5 558.1h0M429.4 556.7h0M445.5 554.8h0M449.2 555.7h0M440.2 556.0h0M450.1 555.6h0M423.5 558.2h0M432.5 554.9h0M428.9 555.6h0M428.2 556.0h0M450.1 554.8h0M438.7 556.5h0M423.4 555.4h0M425.0 558.6h0M449.7 556.9h0M434.5 558.3h0M452.1 556.1h0M449.9 557.4h0M435.3 556.9h0M420.5 559.1h0M439.6 557.6h0M449.0 555.8h0M498.5 555.9h0M470.7 555.8h0M498.3 557.7h0M485.2 558.8h0M498.8 556.7h0M469.2 555.1h0M506.9 557.9h0M455.5 555.8h0M516.9 558.7h0M507.2 555.7h0M500.8 559.1h0M480.8 558.9h0M516.6 553.5h0M501.3 555.7h0M505.3 558.4h0M519.0 556.9h0M482.9 559.1h0M460.3 553.8h0M467.7 556.3h0M502.2 555.0h0M483.7 555.2h0M509.2 558.0h0M480.0 555.8h0M500.0 555.9h0M457.1 557.8h0M478.2 554.2h0M495.1 557.6h0M491.8 557.5h0M517.9 555.2h0M512.2 556.9h0M463.5 554.6h0M466.8 554.3h0M504.9 554.2h0M492.2 555.5h0M456.9 557.6h0M462.8 558.8h0M489.6 558.8h0M487.2 558.3h0M467.2 554.5h0M519.1 555.5h0M494.9 558.1h0M482.6 554.0h0M459.7 557.0h0M470.8 557.9h0M464.8 554.9h0M477.0 553.5h0M475.9 555.1h0M478.7 554.7h0M458.9 553.5h0M471.1 554.9h0M476.0 559.1h0M490.0 558.4h0M505.9 557.9h0M458.2 556.1h0M493.1 555.5h0M501.4 558.9h0M513.8 554.5h0M503.6 559.1h0M473.9 558.0h0M512.3 557.6h0M480.8 558.0h0M502.5 558.5h0M485.3 554.8h0M478.5 557.9h0M488.3 558.1h0M502.3 554.5h0M470.3 558.9h0M479.2 559.1h0M510.2 553.7h0M493.5 556.2h0M448.8 555.8h0M448.1 554.4h0M452.7 556.2h0M442.2 555.4h0M440.7 556.1h0M447.7 553.1h0M448.8 552.4h0M451.8 552.4h0M453.2 556.0h0M442.7 554.0h0M447.8 551.2h0M469.7 549.0h0M473.5 550.1h0M502.0 550.5h0M507.0 552.7h0" stroke="#647f88" stroke-width="2.60" stroke-linecap="round" fill="none"/>
<path d="M470.1 535.5h0M467.4 534.8h0M472.0 535.3h0M472.6 536.1h0M471.7 535.3h0M459.3 536.2h0M463.0 534.7h0M459.6 537.0h0M466.8 535.8h0M459.8 536.9h0M472.0 536.3h0M475.3 535.6h0M472.1 535.2h0M469.5 534.9h0M467.2 534.7h0M474.7 535.6h0M459.5 536.5h0M458.4 538.6h0M475.7 536.4h0M459.3 537.1h0M461.5 535.3h0M464.3 535.2h0M459.2 536.6h0M458.8 538.0h0M469.6 535.5h0M465.4 535.3h0M472.5 536.1h0M472.1 535.3h0M461.3 534.8h0M475.6 536.2h0M459.8 536.1h0M459.1 537.1h0M468.7 534.7h0M459.8 537.0h0M460.4 535.2h0M462.4 534.9h0M465.4 535.5h0M458.7 536.9h0M475.6 536.3h0M459.8 535.5h0M466.2 535.7h0M464.0 534.6h0M458.1 537.7h0M458.3 538.4h0M463.7 535.5h0M458.4 538.0h0M459.8 535.1h0M464.1 534.5h0M460.4 535.8h0M471.6 536.0h0M474.0 536.5h0M463.3 534.8h0M471.5 535.1h0M472.9 535.9h0M468.9 535.6h0M459.5 538.9h0M455.8 549.6h0M459.1 539.1h0M458.3 540.9h0M460.2 538.2h0M456.1 549.2h0M455.4 549.3h0M458.4 540.3h0M458.9 540.0h0M455.4 549.2h0M457.2 545.2h0M459.4 539.0h0M455.6 549.6h0M457.7 541.0h0M458.6 539.6h0M458.2 542.8h0M458.9 540.4h0M459.1 538.9h0M458.1 541.9h0M458.0 543.3h0M457.7 542.8h0M455.7 550.1h0M456.0 548.6h0M456.0 548.8h0M459.0 538.3h0M473.5 541.3h0M488.1 538.9h0M460.2 541.4h0M486.0 540.1h0M489.0 539.8h0M473.2 541.8h0M472.5 541.1h0M482.3 540.1h0M462.6 540.9h0M490.1 538.9h0M475.2 541.7h0M461.4 541.1h0M483.0 539.5h0M480.5 540.7h0M465.7 541.0h0M487.1 539.8h0M467.9 541.4h0M489.6 538.8h0M479.3 540.7h0M480.7 541.2h0M474.9 541.9h0M479.8 541.3h0M461.7 541.2h0M466.0 540.9h0M485.1 539.7h0M471.9 541.3h0M487.0 538.7h0M486.8 539.1h0M461.4 541.0h0M483.7 539.6h0M492.5 539.5h0M468.1 541.1h0M495.9 540.3h0M478.0 540.8h0M488.4 539.2h0M494.9 540.6h0M499.7 541.9h0M469.8 540.8h0M463.7 541.2h0M476.6 541.3h0M481.1 541.1h0M499.2 542.0h0M468.9 540.9h0M461.3 541.5h0M474.8 541.4h0M485.2 539.1h0M478.2 541.6h0M468.6 540.8h0M500.9 542.4h0M484.8 540.3h0M472.2 541.2h0M482.9 540.4h0M500.7 542.2h0M461.5 541.1h0M498.8 541.1h0M473.4 542.0h0M491.2 540.2h0M467.3 540.8h0M491.3 539.7h0M460.0 541.4h0M487.3 539.5h0M461.8 541.5h0M485.5 539.1h0M483.6 540.2h0M470.7 541.2h0M472.9 541.7h0M500.0 541.7h0M464.8 540.9h0M465.7 541.1h0M485.7 540.3h0M494.3 540.6h0M489.9 539.9h0M500.2 542.4h0M500.6 542.1h0M492.5 540.4h0M471.2 541.0h0M486.7 540.2h0M478.0 540.8h0M493.3 539.6h0M483.2 540.2h0M500.4 541.7h0M481.5 540.5h0M471.5 541.5h0M483.6 540.1h0M467.6 541.6h0M480.0 540.4h0M472.3 540.8h0M466.6 540.5h0M461.5 540.6h0M498.1 541.3h0M473.7 541.4h0M486.2 540.0h0M460.0 540.9h0M473.4 541.0h0M462.4 540.3h0M481.8 540.3h0M485.0 539.3h0M472.4 541.5h0M463.5 540.7h0M492.9 540.1h0M501.3 547.3h0M460.7 546.6h0M472.3 546.2h0M487.4 547.1h0M462.3 546.4h0M481.0 547.0h0M464.9 546.1h0M457.4 546.1h0M485.9 547.3h0M475.6 547.2h0M494.8 545.5h0M489.7 546.7h0M480.8 547.6h0M477.1 546.3h0M467.7 546.1h0M478.1 547.4h0M485.9 548.0h0M476.8 546.5h0M497.5 547.0h0M459.7 545.8h0M498.9 547.0h0M481.4 547.3h0M472.7 546.2h0M468.8 546.7h0M467.7 546.9h0M475.5 546.2h0M484.5 547.5h0M500.3 547.5h0M475.0 546.6h0M489.9 547.1h0M476.6 547.3h0M457.7 546.6h0M490.9 547.2h0M474.4 547.1h0M471.2 545.7h0M488.5 547.4h0M458.2 545.7h0M460.1 545.4h0M469.5 546.4h0M464.5 546.7h0M467.1 546.8h0M464.4 546.7h0M493.2 546.3h0M494.5 546.6h0M459.0 545.6h0M483.7 547.8h0M496.7 546.2h0M488.6 547.4h0M479.9 548.0h0M498.7 547.5h0M501.2 547.8h0M472.2 546.7h0M498.5 547.0h0M485.2 547.9h0M497.1 547.3h0M489.8 547.4h0M478.3 547.0h0M481.7 547.9h0M481.2 547.0h0M476.9 546.4h0M465.5 546.4h0M460.9 545.7h0M486.9 547.8h0M497.4 547.1h0M471.6 546.7h0M488.2 546.8h0M485.0 547.2h0M460.2 546.5h0M461.8 546.4h0M490.1 546.8h0M485.9 547.2h0M472.6 546.4h0M462.7 546.1h0M491.2 547.0h0M489.3 546.7h0M464.0 546.3h0M477.5 547.5h0M501.6 548.5h0M474.1 545.8h0M469.3 546.3h0M494.9 546.1h0M496.3 546.1h0M493.3 545.8h0M498.4 547.3h0M491.5 546.1h0M495.6 546.2h0M498.6 547.3h0M497.6 546.9h0M496.1 546.1h0M470.6 546.3h0" stroke="#647f88" stroke-width="2.60" stroke-linecap="round" fill="none"/>
<line x1="465.40" y1="532.00" x2="465.40" y2="565.40" stroke="#f03a3a" stroke-width="0.8"/>
<line x1="397.80" y1="532.00" x2="397.80" y2="565.40" stroke="#000" stroke-width="1.5"/>
<line x1="394.00" y1="564.50" x2="397.80" y2="564.50" stroke="#222" stroke-width="1.2"/>
<text x="391.00" y="566.90" font-size="6.7" text-anchor="end" fill="#4d4d4d">0</text>
<line x1="394.00" y1="553.40" x2="397.80" y2="553.40" stroke="#222" stroke-width="1.2"/>
<text x="391.00" y="555.80" font-size="6.7" text-anchor="end" fill="#4d4d4d">5</text>
<line x1="394.00" y1="542.30" x2="397.80" y2="542.30" stroke="#222" stroke-width="1.2"/>
<text x="391.00" y="544.70" font-size="6.7" text-anchor="end" fill="#4d4d4d">10</text>
<line x1="418.00" y1="565.40" x2="418.00" y2="569.70" stroke="#222" stroke-width="1.4"/>
<text x="418.00" y="577.60" font-size="6.8" text-anchor="middle" fill="#4d4d4d">197.5</text>
<line x1="447.20" y1="565.40" x2="447.20" y2="569.70" stroke="#222" stroke-width="1.4"/>
<text x="447.20" y="577.60" font-size="6.8" text-anchor="middle" fill="#4d4d4d">198.0</text>
<line x1="476.40" y1="565.40" x2="476.40" y2="569.70" stroke="#222" stroke-width="1.4"/>
<text x="476.40" y="577.60" font-size="6.8" text-anchor="middle" fill="#4d4d4d">198.5</text>
<line x1="505.60" y1="565.40" x2="505.60" y2="569.70" stroke="#222" stroke-width="1.4"/>
<text x="505.60" y="577.60" font-size="6.8" text-anchor="middle" fill="#4d4d4d">199.0</text>
<text x="375.6" y="549.45" font-size="9.6" text-anchor="middle" textLength="34.6" lengthAdjust="spacingAndGlyphs" transform="rotate(-90 375.6 549.45)">−<tspan dx="1.2">log</tspan><tspan font-size="6.6" dy="1.3">10</tspan><tspan dy="-1.3">(p)</tspan></text>
<text x="501.90" y="531.30" font-size="6.7" text-anchor="start" fill="#000" font-weight="bold">SCZ GWAS</text>
<line x1="569.30" y1="356.10" x2="569.30" y2="431.70" stroke="#000" stroke-width="1.4"/>
<line x1="568.60" y1="431.10" x2="675.70" y2="431.10" stroke="#000" stroke-width="1.4"/>
<line x1="564.90" y1="367.60" x2="569.30" y2="367.60" stroke="#111" stroke-width="1.3"/>
<text x="562.00" y="370.00" font-size="6.7" text-anchor="end" fill="#4d4d4d">2</text>
<line x1="564.90" y1="388.90" x2="569.30" y2="388.90" stroke="#111" stroke-width="1.3"/>
<text x="562.00" y="391.30" font-size="6.7" text-anchor="end" fill="#4d4d4d">0</text>
<line x1="564.90" y1="410.20" x2="569.30" y2="410.20" stroke="#111" stroke-width="1.3"/>
<text x="562.00" y="412.60" font-size="6.7" text-anchor="end" fill="#4d4d4d">-2</text>
<line x1="589.00" y1="431.10" x2="589.00" y2="434.90" stroke="#111" stroke-width="1.3"/>
<text x="589.00" y="443.50" font-size="6.9" text-anchor="middle" fill="#222">mRNA</text>
<line x1="622.30" y1="431.10" x2="622.30" y2="434.90" stroke="#111" stroke-width="1.3"/>
<text x="622.30" y="443.50" font-size="6.9" text-anchor="middle" fill="#222">Ribo</text>
<line x1="655.60" y1="431.10" x2="655.60" y2="434.90" stroke="#111" stroke-width="1.3"/>
<text x="655.60" y="443.50" font-size="6.9" text-anchor="middle" fill="#222">Protein</text>
<text x="548.70" y="393.20" font-size="8.5" text-anchor="middle" fill="#000" transform="rotate(-90 548.70 393.20)">Gene expression</text>
<path d="M581.1 379.6h0M580.4 386.3h0M580.8 389.1h0M580.6 389.5h0M579.4 365.2h0M579.2 370.9h0M579.1 363.5h0M579.7 364.9h0M580.5 366.8h0M579.4 383.1h0M579.5 381.0h0M579.5 392.8h0M578.9 381.0h0M579.4 368.9h0M579.7 372.3h0M579.9 389.4h0M580.0 378.2h0M581.7 379.9h0M581.2 383.0h0M579.1 369.0h0M580.2 375.3h0M579.6 378.4h0M581.5 389.5h0M580.7 382.2h0M580.6 385.7h0M578.9 387.0h0M579.7 366.6h0M580.1 388.8h0M581.2 369.0h0M579.1 383.6h0M581.7 380.1h0M579.5 366.2h0M580.4 385.1h0M579.9 385.4h0M581.1 364.1h0M580.9 381.0h0M579.2 383.1h0M579.8 377.9h0M581.7 370.1h0M581.0 375.0h0M581.1 382.2h0M580.3 380.6h0M579.6 387.1h0M579.9 386.0h0M579.7 366.0h0M580.4 380.5h0M580.0 384.9h0M580.3 389.3h0M579.2 372.2h0M579.5 385.8h0M579.8 375.9h0M579.7 387.2h0M581.4 377.8h0M580.5 383.1h0M579.2 381.7h0M581.6 381.1h0M581.0 382.3h0M580.4 371.6h0M580.6 385.3h0M580.7 387.8h0M579.6 377.5h0M579.7 390.8h0M579.5 373.7h0M580.7 391.8h0M579.9 362.2h0M581.7 379.4h0M581.5 390.7h0M580.9 389.3h0M580.6 366.4h0M580.7 378.7h0M579.6 383.8h0M578.9 376.1h0M581.7 363.0h0M581.7 389.4h0M579.8 361.9h0M580.1 392.9h0M580.2 404.3h0" stroke="#364f59" stroke-width="2.00" stroke-linecap="round" fill="none"/>
<line x1="580.25" y1="361.90" x2="580.25" y2="377.20" stroke="#364f59" stroke-width="0.9"/>
<line x1="580.25" y1="388.50" x2="580.25" y2="392.90" stroke="#364f59" stroke-width="0.9"/>
<rect x="576.55" y="377.20" width="7.40" height="11.30" fill="#fff" stroke="#364f59" stroke-width="1.3" fill-opacity="0.55"/>
<line x1="576.50" y1="382.40" x2="584.00" y2="382.40" stroke="#364f59" stroke-width="1.2"/>
<path d="M590.3 389.7h0M588.8 362.0h0M590.8 379.7h0M590.5 360.2h0M588.9 399.0h0M589.6 390.9h0M589.4 380.3h0M588.8 377.3h0M589.6 396.3h0M589.7 392.4h0M588.4 371.8h0M590.3 386.2h0M588.8 402.4h0M590.8 392.8h0M588.8 398.1h0M589.5 379.5h0M589.9 389.0h0M589.4 378.6h0M588.4 379.9h0M590.6 387.2h0M589.8 374.2h0M590.4 397.3h0M588.4 371.1h0M590.2 376.9h0M588.4 392.9h0M588.6 365.2h0M590.0 402.4h0M588.2 398.5h0M588.2 389.2h0M588.4 378.3h0M589.5 371.0h0M588.8 384.5h0M590.4 397.6h0M590.5 363.3h0M590.1 362.9h0M589.1 382.0h0M588.2 379.5h0M590.4 378.7h0M589.0 384.1h0M589.6 395.0h0M588.0 399.7h0M589.5 375.7h0M589.4 367.5h0M590.8 386.6h0M588.8 370.3h0M590.3 397.9h0M589.3 399.5h0M588.5 377.1h0M589.7 383.7h0M588.5 376.2h0M589.1 389.2h0M590.5 402.5h0M588.0 381.4h0M588.2 391.2h0M588.4 383.0h0M588.9 375.2h0M589.2 367.8h0M590.7 398.8h0M587.9 390.4h0M590.4 389.9h0M590.8 393.2h0M588.9 360.3h0M590.6 364.3h0M588.0 402.8h0M590.8 364.2h0M590.8 394.7h0M589.0 394.0h0M588.1 369.7h0M590.6 391.4h0M589.1 373.2h0M588.1 394.0h0M588.4 377.5h0M589.8 391.5h0M588.0 396.7h0M589.2 363.2h0M589.2 366.7h0M590.2 390.9h0M588.6 374.8h0M588.2 377.5h0M587.9 383.6h0M590.4 398.9h0M589.0 364.0h0M589.2 375.1h0M588.1 362.3h0M589.1 368.2h0M589.6 366.0h0M589.4 385.3h0M589.6 397.4h0M588.0 381.4h0M589.0 398.5h0M589.2 361.0h0M590.6 402.9h0M590.8 402.7h0M588.6 395.6h0M588.4 381.2h0M590.5 389.0h0M589.9 395.4h0M590.4 395.3h0M588.9 399.7h0M590.2 398.6h0M588.3 382.7h0M588.9 399.2h0M589.7 379.4h0M588.8 389.1h0M588.5 391.9h0M588.9 359.6h0M588.9 403.4h0" stroke="#e08b3e" stroke-width="2.00" stroke-linecap="round" fill="none"/>
<line x1="589.35" y1="359.60" x2="589.35" y2="379.40" stroke="#e08b3e" stroke-width="0.9"/>
<line x1="589.35" y1="395.50" x2="589.35" y2="403.40" stroke="#e08b3e" stroke-width="0.9"/>
<rect x="585.45" y="379.40" width="7.80" height="16.10" fill="#fff" stroke="#e08b3e" stroke-width="1.3" fill-opacity="0.55"/>
<line x1="585.40" y1="388.00" x2="593.30" y2="388.00" stroke="#e08b3e" stroke-width="1.2"/>
<path d="M599.6 380.4h0M597.3 383.1h0M597.4 382.1h0M599.7 390.1h0M597.0 373.0h0M598.4 392.1h0M597.3 398.6h0M599.5 414.5h0M599.0 390.2h0M597.4 391.9h0M599.4 394.2h0M598.9 407.0h0M598.5 381.9h0M599.0 388.5h0M598.9 415.4h0M599.1 383.5h0M597.1 396.7h0M597.9 399.2h0M598.1 401.7h0M599.3 380.2h0M597.2 413.2h0M597.0 383.1h0M596.9 376.2h0M598.5 385.3h0M598.3 388.9h0M597.5 378.9h0M597.9 381.3h0M599.1 415.9h0M599.0 383.9h0M599.7 400.3h0M597.1 407.4h0M597.5 384.9h0M598.2 380.7h0M599.7 395.0h0M597.3 375.7h0M599.2 414.9h0M596.9 416.5h0M599.2 379.1h0M597.8 399.6h0M599.1 383.2h0M598.5 398.4h0M598.0 378.6h0M599.0 408.6h0M599.8 393.2h0M598.6 400.5h0M598.8 391.3h0M599.7 390.0h0M599.7 399.3h0M596.8 377.0h0M598.3 381.5h0M598.5 412.2h0M598.1 398.6h0M599.5 390.4h0M596.9 388.5h0M596.9 395.9h0M597.8 415.5h0M597.3 410.4h0M597.9 409.0h0M597.5 408.4h0M597.2 394.5h0M597.6 393.3h0M596.9 387.7h0M599.3 378.5h0M599.6 398.6h0M598.4 413.8h0M599.1 378.9h0M596.9 399.7h0M599.3 406.4h0M598.6 388.5h0M599.6 383.1h0M597.7 397.8h0M598.1 390.5h0M596.9 399.0h0M598.1 394.7h0M599.2 383.0h0M597.7 400.5h0M597.3 411.8h0M598.0 394.6h0M599.1 385.9h0M597.9 400.7h0M597.2 379.6h0M596.9 376.9h0M598.6 389.8h0M597.2 373.8h0M597.7 398.9h0M599.4 386.5h0M599.2 381.1h0M599.6 398.9h0M597.8 386.7h0M597.9 372.9h0M599.4 407.9h0M598.6 373.6h0M596.9 390.2h0M599.2 387.8h0M596.9 393.2h0M599.4 377.7h0M599.3 372.6h0M597.7 402.3h0M598.3 393.1h0M598.6 394.4h0M598.9 376.1h0M599.6 411.8h0M598.2 387.2h0M596.8 386.0h0M596.9 407.3h0M597.7 413.9h0M598.2 413.3h0M599.7 413.3h0M597.1 401.2h0M598.4 371.0h0M598.2 416.6h0M598.6 425.3h0" stroke="#1ba1d8" stroke-width="2.00" stroke-linecap="round" fill="none"/>
<line x1="598.30" y1="371.00" x2="598.30" y2="386.40" stroke="#1ba1d8" stroke-width="0.9"/>
<line x1="598.30" y1="399.90" x2="598.30" y2="416.60" stroke="#1ba1d8" stroke-width="0.9"/>
<rect x="594.55" y="386.40" width="7.50" height="13.50" fill="#fff" stroke="#1ba1d8" stroke-width="1.3" fill-opacity="0.55"/>
<line x1="594.50" y1="392.00" x2="602.10" y2="392.00" stroke="#1ba1d8" stroke-width="1.2"/>
<path d="M614.0 388.9h0M612.2 381.9h0M612.1 401.2h0M613.1 411.0h0M614.1 390.7h0M614.4 382.7h0M614.1 386.4h0M614.5 398.0h0M613.9 408.7h0M613.6 399.1h0M614.7 375.0h0M612.5 387.6h0M613.4 387.8h0M612.4 386.2h0M612.2 387.2h0M613.9 397.9h0M613.8 407.9h0M612.5 373.8h0M612.1 377.8h0M614.6 392.6h0M614.7 387.1h0M613.8 374.2h0M612.2 388.5h0M612.8 388.5h0M613.4 390.9h0M614.5 399.6h0M612.7 387.7h0M614.2 387.1h0M614.3 379.0h0M614.3 388.1h0M613.3 378.4h0M612.0 393.9h0M613.7 404.2h0M612.4 407.2h0M614.3 383.0h0M613.0 374.1h0M613.2 377.3h0M613.0 388.5h0M614.5 379.0h0M612.7 378.1h0M612.7 383.8h0M613.1 396.0h0M612.5 389.4h0M614.5 380.3h0M612.4 384.4h0M613.2 386.7h0M613.6 400.6h0M612.6 388.7h0M614.0 404.3h0M613.2 384.6h0M612.3 401.7h0M614.1 380.2h0M613.8 391.0h0M613.2 378.9h0M614.7 386.4h0M614.2 389.9h0M612.1 396.6h0M613.3 404.6h0M614.2 382.4h0M612.8 402.0h0M614.4 404.8h0M614.6 390.6h0M612.9 392.4h0M614.5 387.7h0M614.4 376.1h0M613.6 380.2h0M613.0 400.8h0M612.7 406.9h0M612.0 406.7h0M613.7 393.7h0M612.8 402.8h0M612.3 407.8h0M613.5 408.5h0M614.6 397.3h0M612.8 378.4h0M612.2 395.1h0M613.2 394.4h0M613.7 383.5h0M612.3 389.3h0M613.5 392.6h0M614.6 387.3h0M613.2 378.7h0M612.8 384.6h0M613.4 404.0h0M614.4 395.5h0M614.9 389.5h0M612.5 406.4h0M613.4 392.6h0M614.8 398.8h0M614.9 386.0h0M612.2 410.7h0M614.6 397.1h0M613.0 372.8h0M613.2 411.3h0" stroke="#364f59" stroke-width="2.00" stroke-linecap="round" fill="none"/>
<line x1="613.50" y1="372.80" x2="613.50" y2="382.40" stroke="#364f59" stroke-width="0.9"/>
<line x1="613.50" y1="395.90" x2="613.50" y2="411.30" stroke="#364f59" stroke-width="0.9"/>
<rect x="609.75" y="382.40" width="7.50" height="13.50" fill="#fff" stroke="#364f59" stroke-width="1.3" fill-opacity="0.55"/>
<line x1="609.70" y1="388.50" x2="617.30" y2="388.50" stroke="#364f59" stroke-width="1.2"/>
<path d="M622.7 378.6h0M623.1 376.2h0M623.7 407.6h0M623.9 385.2h0M621.1 393.7h0M622.2 372.0h0M622.3 398.1h0M623.1 386.8h0M621.2 384.3h0M621.6 398.4h0M623.6 400.9h0M621.8 374.6h0M622.1 389.0h0M622.1 389.9h0M622.7 386.3h0M621.1 384.3h0M623.5 384.2h0M622.5 379.6h0M621.2 399.5h0M621.2 375.6h0M621.5 375.7h0M624.0 408.6h0M622.3 380.8h0M622.5 399.3h0M622.4 392.0h0M621.6 377.0h0M621.2 389.7h0M623.2 380.4h0M622.8 386.2h0M622.3 390.3h0M622.2 392.2h0M621.3 383.7h0M623.5 392.2h0M622.3 395.1h0M622.8 394.2h0M623.7 399.2h0M621.6 380.8h0M622.8 394.3h0M623.2 406.3h0M622.5 393.1h0M623.7 404.7h0M621.8 396.1h0M623.4 386.6h0M621.6 389.8h0M623.5 386.8h0M622.3 373.1h0M621.7 404.9h0M622.5 374.7h0M623.2 380.4h0M621.6 384.9h0M622.4 379.2h0M622.8 384.8h0M622.6 385.1h0M621.9 390.3h0M622.9 383.9h0M622.4 387.1h0M621.5 374.3h0M623.0 392.3h0M624.1 402.2h0M622.7 403.1h0M622.6 377.0h0M623.3 379.9h0M623.0 385.5h0M621.5 397.4h0M622.7 379.4h0M623.5 407.4h0M621.9 383.6h0M624.1 375.7h0M623.9 386.5h0M621.8 394.7h0M621.2 385.2h0M623.9 387.6h0M623.1 380.5h0M623.8 403.9h0M622.7 388.5h0M623.5 386.2h0M623.9 385.6h0M622.7 399.6h0M621.5 381.1h0M622.7 393.7h0M621.5 392.1h0M623.1 392.8h0M623.0 376.9h0M623.2 384.1h0M621.5 377.9h0M623.4 377.1h0M621.6 379.6h0M623.1 403.6h0M622.5 371.9h0M623.0 408.7h0M622.9 427.1h0" stroke="#e08b3e" stroke-width="2.00" stroke-linecap="round" fill="none"/>
<line x1="622.60" y1="371.90" x2="622.60" y2="382.40" stroke="#e08b3e" stroke-width="0.9"/>
<line x1="622.60" y1="396.40" x2="622.60" y2="408.70" stroke="#e08b3e" stroke-width="0.9"/>
<rect x="618.65" y="382.40" width="7.90" height="14.00" fill="#fff" stroke="#e08b3e" stroke-width="1.3" fill-opacity="0.55"/>
<line x1="618.60" y1="389.00" x2="626.60" y2="389.00" stroke="#e08b3e" stroke-width="1.2"/>
<path d="M631.7 390.2h0M632.4 372.4h0M631.5 406.9h0M630.7 382.4h0M633.1 381.9h0M631.4 386.7h0M632.0 401.8h0M631.3 380.4h0M630.9 377.3h0M631.1 375.5h0M631.8 397.0h0M632.3 393.7h0M631.0 395.8h0M630.4 402.0h0M632.4 385.3h0M631.7 393.8h0M632.7 390.6h0M632.6 380.9h0M631.1 375.5h0M630.5 386.5h0M632.0 381.3h0M630.2 373.7h0M631.0 396.6h0M630.6 396.0h0M632.5 395.5h0M631.5 405.8h0M631.0 373.8h0M632.9 379.3h0M632.2 399.0h0M632.6 382.8h0M632.1 405.4h0M631.9 360.2h0M630.7 392.1h0M632.7 373.9h0M631.9 402.1h0M631.7 383.6h0M630.5 405.3h0M632.7 371.8h0M632.6 361.6h0M630.5 389.3h0M632.7 394.1h0M631.3 391.2h0M632.0 377.3h0M631.6 405.0h0M633.0 399.1h0M631.8 386.4h0M632.6 364.4h0M630.2 363.9h0M631.5 375.1h0M632.5 376.1h0M630.9 373.2h0M632.8 361.7h0M630.4 392.2h0M632.1 380.8h0M631.4 363.4h0M630.2 395.4h0M630.6 409.5h0M630.4 381.8h0M631.2 392.3h0M630.9 397.6h0M632.3 368.0h0M630.5 395.4h0M633.0 384.0h0M632.0 398.1h0M631.4 387.1h0M632.4 403.4h0M632.5 383.1h0M630.2 387.4h0M632.9 359.9h0M631.5 385.4h0M632.1 396.7h0M632.7 409.3h0M630.3 372.7h0M631.2 375.9h0M630.9 386.4h0M631.4 375.3h0M631.0 376.8h0M631.3 373.3h0M631.4 383.5h0M631.5 359.2h0M631.1 393.8h0M632.8 363.4h0M632.1 399.6h0M631.9 392.2h0M630.7 387.0h0M631.4 398.9h0M631.4 394.8h0M630.9 395.7h0M632.1 391.0h0M632.9 369.1h0M630.8 382.8h0M631.9 410.6h0M630.7 391.3h0M631.0 396.6h0M632.2 386.6h0M632.6 379.9h0M630.5 381.1h0M633.0 368.8h0M630.8 405.0h0M630.2 375.2h0M631.3 383.7h0M632.8 383.2h0M631.9 384.0h0M632.7 387.0h0M630.7 363.3h0M632.1 379.5h0M632.1 388.5h0M630.8 408.5h0M631.2 405.6h0M630.9 397.8h0M631.9 366.4h0M632.9 385.0h0M631.2 360.1h0M630.5 382.1h0M632.2 387.6h0M632.9 400.5h0M630.7 409.2h0M632.5 378.5h0M630.6 397.5h0M631.7 406.7h0M631.6 390.9h0M632.5 393.3h0M630.2 387.9h0M630.4 364.7h0M631.0 361.9h0M632.1 382.3h0M630.3 407.4h0M630.9 411.0h0M631.9 386.8h0M631.6 358.4h0M631.3 412.2h0" stroke="#1ba1d8" stroke-width="2.00" stroke-linecap="round" fill="none"/>
<line x1="631.60" y1="358.40" x2="631.60" y2="381.20" stroke="#1ba1d8" stroke-width="0.9"/>
<line x1="631.60" y1="397.30" x2="631.60" y2="412.20" stroke="#1ba1d8" stroke-width="0.9"/>
<rect x="627.85" y="381.20" width="7.50" height="16.10" fill="#fff" stroke="#1ba1d8" stroke-width="1.3" fill-opacity="0.55"/>
<line x1="627.80" y1="388.50" x2="635.40" y2="388.50" stroke="#1ba1d8" stroke-width="1.2"/>
<path d="M646.1 381.7h0M647.8 378.4h0M648.1 388.7h0M646.3 396.0h0M648.3 388.8h0M647.7 397.6h0M648.0 370.7h0M648.5 399.7h0M647.9 388.4h0M646.2 387.1h0M646.0 399.5h0M646.1 398.7h0M646.3 396.5h0M646.8 384.6h0M646.5 375.8h0M647.1 378.4h0M648.6 408.4h0M647.7 392.6h0M645.9 395.7h0M648.3 388.0h0M647.7 403.3h0M648.4 395.6h0M648.6 395.5h0M648.5 389.1h0M646.5 403.9h0M647.3 400.6h0M646.2 414.7h0M647.8 409.0h0M646.2 408.0h0M648.4 400.4h0M646.1 385.5h0M648.5 402.4h0M647.9 373.8h0M648.0 385.5h0M647.8 394.3h0M645.8 402.5h0M647.6 383.2h0M646.1 400.5h0M647.6 377.6h0M648.6 386.6h0M646.7 415.4h0M646.8 405.1h0M646.6 388.1h0M647.2 385.9h0M648.5 371.4h0M646.9 399.8h0M645.9 383.8h0M648.5 407.7h0M646.2 391.4h0M647.7 380.4h0M645.8 397.0h0M647.8 408.3h0M647.5 412.7h0M646.3 383.6h0M648.3 386.5h0M647.8 415.4h0M647.8 387.1h0M646.5 407.9h0M648.2 385.3h0M648.3 397.9h0M648.2 386.9h0M647.1 397.3h0M646.8 371.9h0M646.2 392.1h0M647.6 383.9h0M647.1 404.4h0M646.0 408.1h0M647.3 396.9h0M648.1 385.0h0M647.1 377.1h0M646.4 374.4h0M648.1 390.4h0M648.6 386.5h0M647.6 395.8h0M646.9 400.6h0M648.6 384.5h0M647.8 399.2h0M648.5 376.8h0M648.4 387.2h0M647.2 401.6h0M646.1 370.2h0M648.6 389.4h0M645.8 406.4h0M648.1 398.3h0M646.2 408.8h0M648.5 392.3h0M646.5 380.2h0M646.6 410.7h0M647.9 370.8h0M647.2 403.3h0M648.3 402.9h0M646.8 390.4h0M646.0 381.8h0M646.4 408.4h0M646.5 379.1h0M646.4 397.0h0M648.4 396.3h0M646.7 384.9h0M645.8 396.9h0M647.0 411.4h0M647.2 388.7h0M646.5 393.7h0M647.1 403.5h0M648.0 407.5h0M648.0 396.5h0M648.3 405.0h0M646.5 371.9h0M647.7 403.3h0M646.9 379.8h0M648.2 404.6h0M646.8 397.2h0M647.3 369.3h0M647.3 415.7h0" stroke="#364f59" stroke-width="2.00" stroke-linecap="round" fill="none"/>
<line x1="647.15" y1="369.30" x2="647.15" y2="382.10" stroke="#364f59" stroke-width="0.9"/>
<line x1="647.15" y1="400.80" x2="647.15" y2="415.70" stroke="#364f59" stroke-width="0.9"/>
<rect x="643.25" y="382.10" width="7.80" height="18.70" fill="#fff" stroke="#364f59" stroke-width="1.3" fill-opacity="0.55"/>
<line x1="643.20" y1="391.00" x2="651.10" y2="391.00" stroke="#364f59" stroke-width="1.2"/>
<path d="M656.3 380.9h0M656.8 374.9h0M657.0 398.9h0M657.4 412.2h0M655.6 393.1h0M655.1 388.3h0M657.3 385.0h0M656.5 380.7h0M655.8 381.7h0M654.8 409.7h0M657.3 380.6h0M656.4 390.2h0M656.2 407.6h0M655.2 387.3h0M657.6 403.7h0M655.1 402.2h0M656.7 404.3h0M656.5 375.2h0M656.4 399.8h0M656.7 382.0h0M656.4 379.3h0M655.8 382.5h0M656.1 394.4h0M656.2 379.4h0M655.3 394.7h0M657.1 405.7h0M656.8 394.9h0M655.5 406.6h0M656.6 399.3h0M656.9 385.5h0M656.0 408.1h0M657.4 386.9h0M654.8 389.0h0M656.5 374.5h0M654.8 379.3h0M656.2 384.9h0M657.6 383.4h0M657.2 386.2h0M654.9 385.9h0M657.2 398.1h0M655.4 384.3h0M655.5 372.7h0M655.8 391.3h0M654.8 391.5h0M655.0 385.0h0M655.8 400.2h0M655.4 403.7h0M657.7 383.5h0M656.9 383.7h0M657.4 389.3h0M655.6 385.4h0M657.1 399.1h0M654.9 388.8h0M657.1 397.4h0M657.4 390.5h0M654.8 396.8h0M655.8 393.1h0M655.6 401.4h0M657.7 388.0h0M654.8 395.3h0M656.2 406.1h0M657.6 411.1h0M657.4 396.7h0M655.5 390.8h0M657.1 408.7h0M657.4 373.8h0M657.0 386.3h0M655.7 378.4h0M657.6 388.5h0M656.1 391.0h0M656.1 380.6h0M657.7 382.0h0M654.9 406.8h0M657.6 381.7h0M656.3 374.4h0M656.5 400.4h0M655.9 383.1h0M656.7 372.7h0M655.2 398.1h0M657.0 398.8h0M656.1 387.5h0M657.1 397.3h0M655.9 397.5h0M655.0 386.3h0M657.1 403.2h0M657.4 388.5h0M656.5 390.6h0M655.4 386.9h0M656.0 383.9h0M656.3 401.9h0M656.1 403.6h0M656.6 388.0h0M654.8 398.0h0M656.2 407.5h0M654.8 396.7h0M655.7 390.4h0M656.2 374.5h0M657.5 402.7h0M655.2 396.5h0M654.9 398.7h0M655.8 414.8h0M654.8 395.4h0M657.0 377.7h0M657.5 376.1h0M657.6 375.3h0M656.5 371.0h0M656.6 414.8h0M655.9 360.5h0M656.5 420.1h0" stroke="#e08b3e" stroke-width="2.00" stroke-linecap="round" fill="none"/>
<line x1="656.25" y1="371.00" x2="656.25" y2="382.10" stroke="#e08b3e" stroke-width="0.9"/>
<line x1="656.25" y1="397.30" x2="656.25" y2="414.80" stroke="#e08b3e" stroke-width="0.9"/>
<rect x="652.35" y="382.10" width="7.80" height="15.20" fill="#fff" stroke="#e08b3e" stroke-width="1.3" fill-opacity="0.55"/>
<line x1="652.30" y1="388.50" x2="660.20" y2="388.50" stroke="#e08b3e" stroke-width="1.2"/>
<path d="M666.6 407.2h0M665.7 393.2h0M665.6 406.9h0M665.0 394.2h0M663.9 400.0h0M665.5 368.1h0M664.8 370.1h0M664.4 396.6h0M663.9 388.0h0M666.5 384.4h0M665.9 397.3h0M666.5 383.2h0M663.8 394.4h0M666.5 395.2h0M665.2 382.5h0M664.8 383.4h0M664.2 391.8h0M665.0 376.7h0M665.0 394.0h0M666.7 383.9h0M666.4 385.0h0M665.0 379.2h0M664.3 382.6h0M666.5 397.2h0M665.0 406.9h0M663.7 384.8h0M665.0 384.1h0M666.6 377.2h0M664.0 396.5h0M666.3 383.7h0M664.5 396.3h0M664.9 376.1h0M664.7 383.1h0M664.8 393.9h0M665.4 366.1h0M665.1 374.6h0M665.5 378.7h0M665.8 372.1h0M664.9 390.4h0M663.7 394.7h0M665.2 396.8h0M663.8 395.6h0M665.6 380.6h0M666.1 392.9h0M664.5 366.9h0M665.6 407.0h0M664.8 385.5h0M664.2 403.6h0M666.2 374.8h0M664.2 385.4h0M666.3 387.2h0M666.3 375.1h0M664.2 383.6h0M664.7 402.4h0M666.2 380.4h0M665.5 365.9h0M665.9 378.6h0M665.2 392.6h0M666.3 390.9h0M665.7 392.0h0M665.9 365.7h0M666.0 403.0h0M664.2 370.4h0M664.8 409.7h0M665.1 392.6h0M665.7 378.7h0M664.8 375.3h0M664.8 391.8h0M665.4 411.7h0M663.7 381.1h0M665.7 402.9h0M664.6 399.2h0M664.2 396.1h0M666.0 391.3h0M664.6 394.3h0M665.0 396.7h0M664.6 389.0h0M664.9 393.7h0M666.5 394.3h0M664.5 389.3h0M664.4 375.2h0M665.8 411.8h0M665.1 403.1h0M665.7 397.1h0M664.9 400.9h0M665.9 385.0h0M664.0 397.4h0M665.6 397.6h0M664.0 373.2h0M664.0 377.5h0M663.8 407.3h0M665.2 393.5h0M666.1 394.7h0M664.1 391.4h0M666.3 382.7h0M664.0 377.0h0M665.4 369.4h0M663.7 369.0h0M664.0 392.6h0M665.2 381.1h0M666.6 398.7h0M666.1 394.7h0M665.7 409.7h0M664.4 382.5h0M664.2 396.7h0M664.3 386.9h0M664.2 393.5h0M664.4 383.2h0M666.5 399.5h0M665.0 386.6h0M665.0 390.8h0M666.0 395.2h0M664.5 406.3h0M666.4 384.0h0M666.5 391.3h0M665.4 364.0h0M664.9 412.2h0" stroke="#1ba1d8" stroke-width="2.00" stroke-linecap="round" fill="none"/>
<line x1="665.20" y1="364.00" x2="665.20" y2="382.90" stroke="#1ba1d8" stroke-width="0.9"/>
<line x1="665.20" y1="397.00" x2="665.20" y2="412.20" stroke="#1ba1d8" stroke-width="0.9"/>
<rect x="661.45" y="382.90" width="7.50" height="14.10" fill="#fff" stroke="#1ba1d8" stroke-width="1.3" fill-opacity="0.55"/>
<line x1="661.40" y1="389.00" x2="669.00" y2="389.00" stroke="#1ba1d8" stroke-width="1.2"/>
<text x="559.90" y="343.85" font-size="6.6" text-anchor="start" fill="#000" textLength="61.0" lengthAdjust="spacingAndGlyphs">2_198498316_T_G</text>
<text x="560.20" y="350.90" font-size="6.6" text-anchor="start" fill="#000">genotype</text>
<rect x="628.10" y="342.70" width="7.00" height="5.00" fill="#364f59" stroke="none" stroke-width="1"/>
<path d="M629.7 344.1h3.8M629.7 346.5h3.8M631.6 342.7v5" stroke="#fff" stroke-width="0.6" opacity="0.5"/>
<text x="637.70" y="347.60" font-size="6.4" text-anchor="start" fill="#000">0</text>
<rect x="650.10" y="342.70" width="7.00" height="5.00" fill="#e08b3e" stroke="none" stroke-width="1"/>
<path d="M651.7 344.1h3.8M651.7 346.5h3.8M653.6 342.7v5" stroke="#fff" stroke-width="0.6" opacity="0.5"/>
<text x="659.70" y="347.60" font-size="6.4" text-anchor="start" fill="#000">1</text>
<rect x="671.90" y="342.70" width="7.00" height="5.00" fill="#1ba1d8" stroke="none" stroke-width="1"/>
<path d="M673.5 344.1h3.8M673.5 346.5h3.8M675.4 342.7v5" stroke="#fff" stroke-width="0.6" opacity="0.5"/>
<text x="681.50" y="347.60" font-size="6.4" text-anchor="start" fill="#000">2</text>
<rect x="605.20" y="464.30" width="70.80" height="32.30" fill="#fff" stroke="none" stroke-width="1"/>
<line x1="616.60" y1="464.30" x2="616.60" y2="496.60" stroke="#f2f2f2" stroke-width="0.5"/>
<line x1="632.60" y1="464.30" x2="632.60" y2="496.60" stroke="#f2f2f2" stroke-width="0.5"/>
<line x1="648.60" y1="464.30" x2="648.60" y2="496.60" stroke="#f2f2f2" stroke-width="0.5"/>
<line x1="664.60" y1="464.30" x2="664.60" y2="496.60" stroke="#f2f2f2" stroke-width="0.5"/>
<line x1="605.20" y1="473.50" x2="676.00" y2="473.50" stroke="#ebebeb" stroke-width="0.9"/>
<line x1="605.20" y1="488.40" x2="676.00" y2="488.40" stroke="#ebebeb" stroke-width="0.9"/>
<line x1="608.60" y1="464.30" x2="608.60" y2="496.60" stroke="#ebebeb" stroke-width="0.9"/>
<line x1="624.60" y1="464.30" x2="624.60" y2="496.60" stroke="#ebebeb" stroke-width="0.9"/>
<line x1="640.60" y1="464.30" x2="640.60" y2="496.60" stroke="#ebebeb" stroke-width="0.9"/>
<line x1="656.60" y1="464.30" x2="656.60" y2="496.60" stroke="#ebebeb" stroke-width="0.9"/>
<line x1="672.60" y1="464.30" x2="672.60" y2="496.60" stroke="#ebebeb" stroke-width="0.9"/>
<line x1="640.60" y1="464.30" x2="640.60" y2="496.60" stroke="#000" stroke-width="1.5" stroke-dasharray="5.9,5.9" stroke-dashoffset="8.8"/>
<line x1="617.88" y1="473.50" x2="641.24" y2="473.50" stroke="#4d4d4d" stroke-width="1.25"/>
<line x1="617.88" y1="470.40" x2="617.88" y2="476.60" stroke="#4d4d4d" stroke-width="1.3"/>
<line x1="641.24" y1="470.40" x2="641.24" y2="476.60" stroke="#4d4d4d" stroke-width="1.3"/>
<circle cx="629.40" cy="473.50" r="2.0" fill="#4d4d4d" stroke="none" stroke-width="0"/>
<line x1="601.00" y1="473.50" x2="605.20" y2="473.50" stroke="#333" stroke-width="1.2"/>
<text x="598.40" y="475.70" font-size="6.4" text-anchor="end" fill="#4d4d4d" textLength="42.0" lengthAdjust="spacingAndGlyphs">mRNA → ribo</text>
<line x1="631.32" y1="488.40" x2="654.36" y2="488.40" stroke="#4d4d4d" stroke-width="1.25"/>
<line x1="631.32" y1="485.30" x2="631.32" y2="491.50" stroke="#4d4d4d" stroke-width="1.3"/>
<line x1="654.36" y1="485.30" x2="654.36" y2="491.50" stroke="#4d4d4d" stroke-width="1.3"/>
<circle cx="642.52" cy="488.40" r="2.0" fill="#4d4d4d" stroke="none" stroke-width="0"/>
<line x1="601.00" y1="488.40" x2="605.20" y2="488.40" stroke="#333" stroke-width="1.2"/>
<text x="598.40" y="490.60" font-size="6.4" text-anchor="end" fill="#4d4d4d" textLength="46.0" lengthAdjust="spacingAndGlyphs">Ribo → protein</text>
<rect x="605.20" y="464.30" width="70.80" height="32.30" fill="none" stroke="#333" stroke-width="1.1"/>
<line x1="608.60" y1="496.60" x2="608.60" y2="500.20" stroke="#333" stroke-width="1.2"/>
<text x="608.60" y="508.70" font-size="6.6" text-anchor="middle" fill="#4d4d4d">-0.50</text>
<line x1="624.60" y1="496.60" x2="624.60" y2="500.20" stroke="#333" stroke-width="1.2"/>
<text x="624.60" y="508.70" font-size="6.6" text-anchor="middle" fill="#4d4d4d">-0.25</text>
<line x1="640.60" y1="496.60" x2="640.60" y2="500.20" stroke="#333" stroke-width="1.2"/>
<text x="640.60" y="508.70" font-size="6.6" text-anchor="middle" fill="#4d4d4d">0.00</text>
<line x1="656.60" y1="496.60" x2="656.60" y2="500.20" stroke="#333" stroke-width="1.2"/>
<text x="656.60" y="508.70" font-size="6.6" text-anchor="middle" fill="#4d4d4d">0.25</text>
<line x1="672.60" y1="496.60" x2="672.60" y2="500.20" stroke="#333" stroke-width="1.2"/>
<text x="672.60" y="508.70" font-size="6.6" text-anchor="middle" fill="#4d4d4d">0.50</text>
<rect x="605.20" y="521.30" width="70.80" height="44.10" fill="#fff" stroke="none" stroke-width="1"/>
<line x1="616.60" y1="521.30" x2="616.60" y2="565.40" stroke="#f2f2f2" stroke-width="0.5"/>
<line x1="632.60" y1="521.30" x2="632.60" y2="565.40" stroke="#f2f2f2" stroke-width="0.5"/>
<line x1="648.60" y1="521.30" x2="648.60" y2="565.40" stroke="#f2f2f2" stroke-width="0.5"/>
<line x1="664.60" y1="521.30" x2="664.60" y2="565.40" stroke="#f2f2f2" stroke-width="0.5"/>
<line x1="605.20" y1="529.70" x2="676.00" y2="529.70" stroke="#ebebeb" stroke-width="0.9"/>
<line x1="605.20" y1="543.80" x2="676.00" y2="543.80" stroke="#ebebeb" stroke-width="0.9"/>
<line x1="605.20" y1="557.80" x2="676.00" y2="557.80" stroke="#ebebeb" stroke-width="0.9"/>
<line x1="608.60" y1="521.30" x2="608.60" y2="565.40" stroke="#ebebeb" stroke-width="0.9"/>
<line x1="624.60" y1="521.30" x2="624.60" y2="565.40" stroke="#ebebeb" stroke-width="0.9"/>
<line x1="640.60" y1="521.30" x2="640.60" y2="565.40" stroke="#ebebeb" stroke-width="0.9"/>
<line x1="656.60" y1="521.30" x2="656.60" y2="565.40" stroke="#ebebeb" stroke-width="0.9"/>
<line x1="672.60" y1="521.30" x2="672.60" y2="565.40" stroke="#ebebeb" stroke-width="0.9"/>
<line x1="640.60" y1="521.30" x2="640.60" y2="565.40" stroke="#000" stroke-width="1.5" stroke-dasharray="5.9,5.9" stroke-dashoffset="8.8"/>
<line x1="623.80" y1="529.70" x2="628.60" y2="529.70" stroke="#4d4d4d" stroke-width="1.25"/>
<line x1="623.80" y1="526.60" x2="623.80" y2="532.80" stroke="#4d4d4d" stroke-width="1.3"/>
<line x1="628.60" y1="526.60" x2="628.60" y2="532.80" stroke="#4d4d4d" stroke-width="1.3"/>
<circle cx="626.36" cy="529.70" r="2.0" fill="#4d4d4d" stroke="none" stroke-width="0"/>
<line x1="601.00" y1="529.70" x2="605.20" y2="529.70" stroke="#333" stroke-width="1.2"/>
<text x="598.40" y="531.90" font-size="6.4" text-anchor="end" fill="#4d4d4d" textLength="41.0" lengthAdjust="spacingAndGlyphs">mRNA → SCZ</text>
<line x1="642.60" y1="543.80" x2="646.84" y2="543.80" stroke="#4d4d4d" stroke-width="1.25"/>
<line x1="642.60" y1="540.70" x2="642.60" y2="546.90" stroke="#4d4d4d" stroke-width="1.3"/>
<line x1="646.84" y1="540.70" x2="646.84" y2="546.90" stroke="#4d4d4d" stroke-width="1.3"/>
<circle cx="644.60" cy="543.80" r="2.0" fill="#4d4d4d" stroke="none" stroke-width="0"/>
<line x1="601.00" y1="543.80" x2="605.20" y2="543.80" stroke="#333" stroke-width="1.2"/>
<text x="598.40" y="546.00" font-size="6.4" text-anchor="end" fill="#4d4d4d" textLength="35.5" lengthAdjust="spacingAndGlyphs">Ribo → SCZ</text>
<line x1="637.08" y1="557.80" x2="646.52" y2="557.80" stroke="#4d4d4d" stroke-width="1.25"/>
<line x1="637.08" y1="554.70" x2="637.08" y2="560.90" stroke="#4d4d4d" stroke-width="1.3"/>
<line x1="646.52" y1="554.70" x2="646.52" y2="560.90" stroke="#4d4d4d" stroke-width="1.3"/>
<circle cx="642.04" cy="557.80" r="2.0" fill="#4d4d4d" stroke="none" stroke-width="0"/>
<line x1="601.00" y1="557.80" x2="605.20" y2="557.80" stroke="#333" stroke-width="1.2"/>
<text x="598.40" y="560.00" font-size="6.4" text-anchor="end" fill="#4d4d4d" textLength="43.6" lengthAdjust="spacingAndGlyphs">Protein → SCZ</text>
<rect x="605.20" y="521.30" width="70.80" height="44.10" fill="none" stroke="#333" stroke-width="1.1"/>
<line x1="608.60" y1="565.40" x2="608.60" y2="569.00" stroke="#333" stroke-width="1.2"/>
<text x="608.60" y="577.50" font-size="6.6" text-anchor="middle" fill="#4d4d4d">-0.2</text>
<line x1="624.60" y1="565.40" x2="624.60" y2="569.00" stroke="#333" stroke-width="1.2"/>
<text x="624.60" y="577.50" font-size="6.6" text-anchor="middle" fill="#4d4d4d">-0.1</text>
<line x1="640.60" y1="565.40" x2="640.60" y2="569.00" stroke="#333" stroke-width="1.2"/>
<text x="640.60" y="577.50" font-size="6.6" text-anchor="middle" fill="#4d4d4d">0.0</text>
<line x1="656.60" y1="565.40" x2="656.60" y2="569.00" stroke="#333" stroke-width="1.2"/>
<text x="656.60" y="577.50" font-size="6.6" text-anchor="middle" fill="#4d4d4d">0.1</text>
<line x1="672.60" y1="565.40" x2="672.60" y2="569.00" stroke="#333" stroke-width="1.2"/>
<text x="672.60" y="577.50" font-size="6.6" text-anchor="middle" fill="#4d4d4d">0.2</text>
<text x="640.90" y="588.10" font-size="8.2" text-anchor="middle" fill="#000">MR effect size</text>
<text x="463.50" y="588.70" font-size="8.25" text-anchor="middle" fill="#000">Position (Mb)</text>
</svg></body></html>
